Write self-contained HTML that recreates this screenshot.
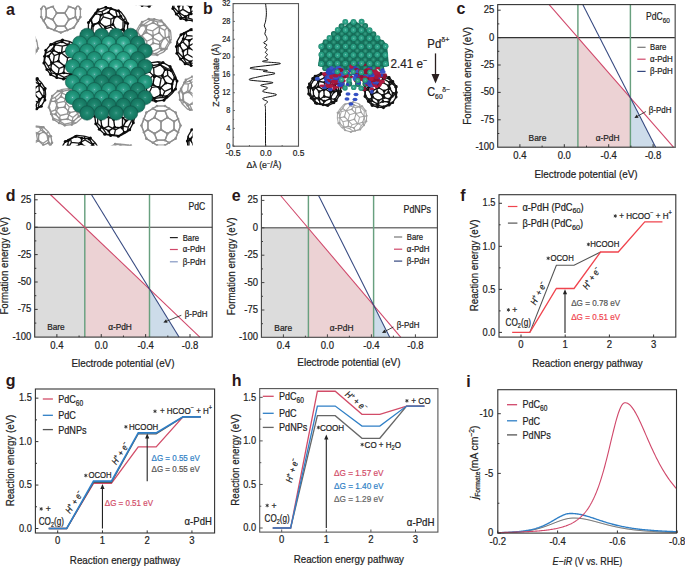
<!DOCTYPE html><html><head><meta charset="utf-8"><style>html,body{margin:0;padding:0;background:#fff;overflow:hidden}svg{display:block}text{font-family:"Liberation Sans",sans-serif}</style></head><body>
<svg width="685" height="567" viewBox="0 0 685 567">
<defs><radialGradient id="tg" cx="0.5" cy="0.52" r="0.58" fx="0.5" fy="0.5"><stop offset="0" stop-color="#9ccad2"/><stop offset="0.1" stop-color="#3ea692"/><stop offset="0.35" stop-color="#239a80"/><stop offset="0.75" stop-color="#1b8a70"/><stop offset="1" stop-color="#0f5a49"/></radialGradient><radialGradient id="tgd" cx="0.5" cy="0.52" r="0.58" fx="0.5" fy="0.5"><stop offset="0" stop-color="#7fb8b8"/><stop offset="0.1" stop-color="#2a8e78"/><stop offset="0.35" stop-color="#1b836b"/><stop offset="0.75" stop-color="#167560"/><stop offset="1" stop-color="#0b4a3c"/></radialGradient><radialGradient id="tgl" cx="0.5" cy="0.52" r="0.58" fx="0.5" fy="0.5"><stop offset="0" stop-color="#a8d4e0"/><stop offset="0.1" stop-color="#5ab8a8"/><stop offset="0.35" stop-color="#2ca88c"/><stop offset="0.75" stop-color="#21977b"/><stop offset="1" stop-color="#11624f"/></radialGradient><radialGradient id="tg2" cx="0.5" cy="0.5" r="0.55"><stop offset="0" stop-color="#8fd0c4"/><stop offset="0.25" stop-color="#35a98e"/><stop offset="0.8" stop-color="#22957a"/><stop offset="1" stop-color="#156d5a"/></radialGradient><radialGradient id="tg2d" cx="0.5" cy="0.5" r="0.55"><stop offset="0" stop-color="#3f9e88"/><stop offset="0.5" stop-color="#1d8369"/><stop offset="1" stop-color="#11604e"/></radialGradient><clipPath id="clipa"><rect x="35.8" y="5.8" width="156.8" height="139.6"/></clipPath></defs>
<rect width="685" height="567" fill="#fff"/>
<g fill="#222">
<g clip-path="url(#clipa)">
<g><path d="M41.21 17.04L41.21 8.96M41.21 17.04L43.71 21.07M41.21 8.96L43.71 4.93M43.71 21.07L46.2 17.04M43.71 21.07L47.74 27.6M43.71 4.93L46.2 8.96M43.71 4.93L47.74 -1.6M46.2 17.04L46.2 8.96M46.2 17.04L52.73 19.53M46.2 8.96L52.73 6.47M47.74 27.6L54.27 30.09M47.74 -1.6L47.74 -1.6M47.74 -1.6L54.27 -4.09M52.73 19.53L56.76 13M52.73 19.53L56.76 26.06M52.73 6.47L56.76 13M52.73 6.47L56.76 -0.06M54.27 30.09L56.76 26.06M54.27 30.09L60.8 32.59M54.27 -4.09L56.76 -0.06M54.27 -4.09L60.8 -6.59M56.76 13L64.84 13M56.76 26.06L64.84 26.06M56.76 -0.06L64.84 -0.06M60.8 32.59L67.33 30.09M60.8 -6.59L60.8 -6.59M60.8 -6.59L67.33 -4.09M64.84 13L68.87 19.53M64.84 13L68.87 6.47M64.84 26.06L67.33 30.09M64.84 26.06L68.87 19.53M64.84 -0.06L67.33 -4.09M64.84 -0.06L68.87 6.47M67.33 30.09L73.86 27.6M67.33 -4.09L73.86 -1.6M68.87 19.53L75.4 17.04M68.87 6.47L75.4 8.96M73.86 27.6L77.89 21.07M73.86 -1.6L73.86 -1.6M73.86 -1.6L77.89 4.93M75.4 17.04L75.4 8.96M75.4 17.04L77.89 21.07M75.4 8.96L77.89 4.93M77.89 21.07L80.39 17.04M77.89 4.93L80.39 8.96M80.39 17.04L80.39 8.96" stroke="#8f8f8f" stroke-width="1.3" fill="none" opacity="0.95"/><path d="M41.21 17.04L43.71 21.07M41.21 8.96L43.71 4.93M43.71 21.07L46.2 17.04M43.71 21.07L47.74 27.6M43.71 4.93L46.2 8.96M43.71 4.93L47.74 -1.6M46.2 17.04L46.2 8.96M46.2 17.04L52.73 19.53M46.2 8.96L52.73 6.47M47.74 27.6L47.74 27.6M47.74 27.6L54.27 30.09M47.74 -1.6L54.27 -4.09M52.73 19.53L56.76 26.06M52.73 19.53L56.76 13M52.73 6.47L56.76 -0.06M52.73 6.47L56.76 13M54.27 30.09L56.76 26.06M54.27 30.09L60.8 32.59M54.27 -4.09L56.76 -0.06M54.27 -4.09L60.8 -6.59M56.76 26.06L64.84 26.06M56.76 -0.06L64.84 -0.06M56.76 13L64.84 13M60.8 32.59L60.8 32.59M60.8 32.59L67.33 30.09M60.8 -6.59L67.33 -4.09M64.84 26.06L67.33 30.09M64.84 26.06L68.87 19.53M64.84 -0.06L67.33 -4.09M64.84 -0.06L68.87 6.47M64.84 13L68.87 19.53M64.84 13L68.87 6.47M67.33 30.09L73.86 27.6M67.33 -4.09L73.86 -1.6M68.87 19.53L75.4 17.04M68.87 6.47L75.4 8.96M73.86 27.6L73.86 27.6M73.86 27.6L77.89 21.07M73.86 -1.6L77.89 4.93M75.4 17.04L75.4 8.96M75.4 17.04L77.89 21.07M75.4 8.96L77.89 4.93M77.89 21.07L80.39 17.04M77.89 4.93L80.39 8.96" stroke="#8f8f8f" stroke-width="1.3" fill="none"/><g fill="#8f8f8f"><circle cx="41.21" cy="17.04" r="1.3"/><circle cx="41.21" cy="8.96" r="1.3"/><circle cx="43.71" cy="21.07" r="1.3"/><circle cx="43.71" cy="4.93" r="1.3"/><circle cx="46.2" cy="17.04" r="1.3"/><circle cx="46.2" cy="8.96" r="1.3"/><circle cx="47.74" cy="27.6" r="1.3"/><circle cx="47.74" cy="-1.6" r="1.3"/><circle cx="52.73" cy="19.53" r="1.3"/><circle cx="52.73" cy="6.47" r="1.3"/><circle cx="54.27" cy="30.09" r="1.3"/><circle cx="54.27" cy="-4.09" r="1.3"/><circle cx="56.76" cy="26.06" r="1.3"/><circle cx="56.76" cy="-0.06" r="1.3"/><circle cx="56.76" cy="13" r="1.3"/><circle cx="60.8" cy="32.59" r="1.3"/><circle cx="60.8" cy="-6.59" r="1.3"/><circle cx="64.84" cy="26.06" r="1.3"/><circle cx="64.84" cy="-0.06" r="1.3"/><circle cx="64.84" cy="13" r="1.3"/><circle cx="67.33" cy="30.09" r="1.3"/><circle cx="67.33" cy="-4.09" r="1.3"/><circle cx="68.87" cy="19.53" r="1.3"/><circle cx="68.87" cy="6.47" r="1.3"/><circle cx="73.86" cy="27.6" r="1.3"/><circle cx="73.86" cy="-1.6" r="1.3"/><circle cx="75.4" cy="17.04" r="1.3"/><circle cx="75.4" cy="8.96" r="1.3"/><circle cx="77.89" cy="21.07" r="1.3"/><circle cx="77.89" cy="4.93" r="1.3"/><circle cx="80.39" cy="17.04" r="1.3"/><circle cx="80.39" cy="8.96" r="1.3"/></g></g>
<g><path d="M134.73 35.12L135.8 31.76M135.8 31.76L139.48 25.27M135.8 31.76L137.1 37.04M135.37 42.49L136.84 43.67M139.48 25.27L142.09 22.15M139.48 25.27L144.46 24.06M137.1 37.04L136.84 43.67M137.1 37.04L142.08 35.84M136.84 43.67L141.55 49.1M144.46 24.06L150.15 20.2M144.46 24.06L145.76 29.35M148.68 19.01L150.15 20.2M142.08 35.84L145.76 29.35M142.08 35.84L146.8 41.26M141.55 49.1L144.8 53.34M141.55 49.1L146.54 47.9M150.15 20.2L157.14 21.61M145.76 29.35L152.75 30.77M144.8 53.34L151.79 54.76M146.8 41.26L146.54 47.9M146.8 41.26L153.39 38.13M146.54 47.9L152.86 51.39M157.14 21.61L158.44 26.9M157.14 21.61L162.66 21.84M152.75 30.77L153.39 38.13M152.75 30.77L158.44 26.9M161.2 20.66L162.66 21.84M151.79 54.76L152.86 51.39M151.79 54.76L157.32 54.99M153.39 38.13L159.72 41.63M152.86 51.39L159.46 48.26M158.44 26.9L164.77 30.4M162.66 21.84L167.38 27.27M157.32 54.99L163.91 51.85M159.72 41.63L159.46 48.26M159.72 41.63L165.41 37.76M159.46 48.26L164.98 48.49M164.77 30.4L167.38 27.27M164.77 30.4L165.41 37.76M167.38 27.27L170.63 31.51M163.91 51.85L164.98 48.49M165.41 37.76L168.66 42M170.63 31.51L171.27 38.88M164.98 48.49L168.66 42M168.66 42L171.27 38.88" stroke="#8f8f8f" stroke-width="1.3" fill="none" opacity="0.95"/><path d="M134.73 35.12L137.34 32M134.73 35.12L135.37 42.49M137.34 32L141.02 25.51M137.34 32L140.59 36.24M141.02 25.51L142.09 22.15M141.02 25.51L146.54 25.74M135.37 42.49L138.62 46.73M140.59 36.24L141.23 43.6M140.59 36.24L146.28 32.37M142.09 22.15L148.68 19.01M138.62 46.73L141.23 43.6M138.62 46.73L143.34 52.16M141.23 43.6L147.56 47.1M146.54 25.74L146.28 32.37M146.54 25.74L153.14 22.61M146.28 32.37L152.61 35.87M148.68 19.01L154.21 19.24M143.34 52.16L144.8 53.34M143.34 52.16L148.86 52.39M147.56 47.1L153.25 43.23M147.56 47.1L148.86 52.39M153.14 22.61L154.21 19.24M153.14 22.61L159.46 26.1M152.61 35.87L153.25 43.23M152.61 35.87L159.2 32.74M154.21 19.24L161.2 20.66M153.25 43.23L160.24 44.65M148.86 52.39L155.85 53.8M159.46 26.1L159.2 32.74M159.46 26.1L164.45 24.9M159.2 32.74L163.92 38.16M161.2 20.66L164.45 24.9M160.24 44.65L163.92 38.16M160.24 44.65L161.54 49.94M155.85 53.8L157.32 54.99M155.85 53.8L161.54 49.94M164.45 24.9L169.16 30.33M163.92 38.16L168.9 36.96M161.54 49.94L166.52 48.73M169.16 30.33L168.9 36.96M169.16 30.33L170.63 31.51M168.9 36.96L170.2 42.24M163.91 51.85L166.52 48.73M166.52 48.73L170.2 42.24M170.2 42.24L171.27 38.88" stroke="#8f8f8f" stroke-width="1.3" fill="none"/><g fill="#8f8f8f"><circle cx="134.73" cy="35.12" r="1.3"/><circle cx="137.34" cy="32" r="1.3"/><circle cx="141.02" cy="25.51" r="1.3"/><circle cx="135.37" cy="42.49" r="1.3"/><circle cx="140.59" cy="36.24" r="1.3"/><circle cx="142.09" cy="22.15" r="1.3"/><circle cx="138.62" cy="46.73" r="1.3"/><circle cx="141.23" cy="43.6" r="1.3"/><circle cx="146.54" cy="25.74" r="1.3"/><circle cx="146.28" cy="32.37" r="1.3"/><circle cx="148.68" cy="19.01" r="1.3"/><circle cx="143.34" cy="52.16" r="1.3"/><circle cx="147.56" cy="47.1" r="1.3"/><circle cx="153.14" cy="22.61" r="1.3"/><circle cx="152.61" cy="35.87" r="1.3"/><circle cx="154.21" cy="19.24" r="1.3"/><circle cx="153.25" cy="43.23" r="1.3"/><circle cx="148.86" cy="52.39" r="1.3"/><circle cx="159.46" cy="26.1" r="1.3"/><circle cx="159.2" cy="32.74" r="1.3"/><circle cx="161.2" cy="20.66" r="1.3"/><circle cx="160.24" cy="44.65" r="1.3"/><circle cx="155.85" cy="53.8" r="1.3"/><circle cx="164.45" cy="24.9" r="1.3"/><circle cx="163.92" cy="38.16" r="1.3"/><circle cx="157.32" cy="54.99" r="1.3"/><circle cx="161.54" cy="49.94" r="1.3"/><circle cx="169.16" cy="30.33" r="1.3"/><circle cx="168.9" cy="36.96" r="1.3"/><circle cx="166.52" cy="48.73" r="1.3"/><circle cx="170.2" cy="42.24" r="1.3"/></g></g>
<g><path d="M52.26 95.95L50.91 99.14M57.89 91.09L62.17 89.42M50.91 99.14L48.83 106.21M50.91 99.14L55.19 97.47M48.83 106.21L51.03 111.62M62.17 89.42L69.21 88.63M62.17 89.42L60.82 92.61M53.36 119.38L53.3 118.2M55.19 97.47L60.82 92.61M55.19 97.47L57.39 102.87M51.03 111.62L53.3 118.2M51.03 111.62L55.31 109.95M69.21 88.63L74.89 91.03M60.82 92.61L66.5 95.01M53.3 118.2L58.98 120.6M57.39 102.87L55.31 109.95M57.39 102.87L64.38 101.36M55.31 109.95L60.22 115.5M74.89 91.03L73.54 94.22M74.89 91.03L80.64 94.62M66.5 95.01L64.38 101.36M66.5 95.01L73.54 94.22M58.98 120.6L60.22 115.5M58.98 120.6L64.73 124.19M64.79 125.37L64.73 124.19M64.38 101.36L69.3 106.91M60.22 115.5L67.22 113.98M73.54 94.22L78.45 99.78M80.64 94.62L82.84 100.02M64.73 124.19L71.72 122.67M69.3 106.91L67.22 113.98M69.3 106.91L76.33 106.12M85.17 107.79L85.1 106.61M67.22 113.98L72.96 117.57M78.45 99.78L82.84 100.02M78.45 99.78L76.33 106.12M82.84 100.02L85.1 106.61M71.72 122.67L76.11 122.91M71.72 122.67L72.96 117.57M76.11 122.91L81.74 118.05M76.33 106.12L78.6 112.71M85.1 106.61L82.98 112.95M72.96 117.57L78.6 112.71M81.74 118.05L82.98 112.95M78.6 112.71L82.98 112.95" stroke="#8f8f8f" stroke-width="1.3" fill="none" opacity="0.95"/><path d="M51.02 101.05L55.4 101.29M51.02 101.05L52.26 95.95M51.02 101.05L48.9 107.39M55.4 101.29L61.04 96.43M55.4 101.29L57.67 107.88M52.26 95.95L57.89 91.09M61.04 96.43L62.28 91.33M61.04 96.43L66.78 100.02M48.9 107.39L51.16 113.98M48.9 107.39L48.83 106.21M57.67 107.88L55.55 114.22M57.67 107.88L64.7 107.09M57.89 91.09L62.28 91.33M62.28 91.33L69.27 89.81M51.16 113.98L55.55 114.22M51.16 113.98L53.36 119.38M55.55 114.22L60.46 119.78M66.78 100.02L64.7 107.09M66.78 100.02L73.78 98.5M64.7 107.09L69.62 112.64M69.27 89.81L69.21 88.63M69.27 89.81L75.02 93.4M53.36 119.38L59.11 122.97M60.46 119.78L67.5 118.99M60.46 119.78L59.11 122.97M73.78 98.5L75.02 93.4M73.78 98.5L78.69 104.05M69.62 112.64L67.5 118.99M69.62 112.64L76.61 111.13M75.02 93.4L80.7 95.8M67.5 118.99L73.18 121.39M59.11 122.97L64.79 125.37M78.69 104.05L76.61 111.13M78.69 104.05L82.97 102.38M76.61 111.13L78.81 116.53M80.7 95.8L82.97 102.38M80.7 95.8L80.64 94.62M73.18 121.39L78.81 116.53M73.18 121.39L71.83 124.58M64.79 125.37L71.83 124.58M82.97 102.38L85.17 107.79M78.81 116.53L83.09 114.86M71.83 124.58L76.11 122.91M85.17 107.79L83.09 114.86M83.09 114.86L81.74 118.05" stroke="#8f8f8f" stroke-width="1.3" fill="none"/><g fill="#8f8f8f"><circle cx="51.02" cy="101.05" r="1.3"/><circle cx="55.4" cy="101.29" r="1.3"/><circle cx="52.26" cy="95.95" r="1.3"/><circle cx="61.04" cy="96.43" r="1.3"/><circle cx="48.9" cy="107.39" r="1.3"/><circle cx="57.67" cy="107.88" r="1.3"/><circle cx="57.89" cy="91.09" r="1.3"/><circle cx="62.28" cy="91.33" r="1.3"/><circle cx="51.16" cy="113.98" r="1.3"/><circle cx="55.55" cy="114.22" r="1.3"/><circle cx="66.78" cy="100.02" r="1.3"/><circle cx="64.7" cy="107.09" r="1.3"/><circle cx="69.27" cy="89.81" r="1.3"/><circle cx="53.36" cy="119.38" r="1.3"/><circle cx="60.46" cy="119.78" r="1.3"/><circle cx="73.78" cy="98.5" r="1.3"/><circle cx="69.62" cy="112.64" r="1.3"/><circle cx="69.21" cy="88.63" r="1.3"/><circle cx="75.02" cy="93.4" r="1.3"/><circle cx="67.5" cy="118.99" r="1.3"/><circle cx="59.11" cy="122.97" r="1.3"/><circle cx="78.69" cy="104.05" r="1.3"/><circle cx="76.61" cy="111.13" r="1.3"/><circle cx="80.7" cy="95.8" r="1.3"/><circle cx="73.18" cy="121.39" r="1.3"/><circle cx="64.79" cy="125.37" r="1.3"/><circle cx="82.97" cy="102.38" r="1.3"/><circle cx="78.81" cy="116.53" r="1.3"/><circle cx="71.83" cy="124.58" r="1.3"/><circle cx="85.17" cy="107.79" r="1.3"/><circle cx="83.09" cy="114.86" r="1.3"/></g></g>
<g><path d="M141.41 125.6L141.41 125.6M141.41 125.6L143.91 119.07M141.41 125.6L143.91 132.13M143.91 119.07L146.4 112.54M143.91 119.07L147.94 121.56M143.91 132.13L146.4 138.66M143.91 132.13L147.94 129.64M146.4 112.54L146.4 112.54M146.4 112.54L152.93 108.51M146.4 138.66L146.4 138.66M146.4 138.66L152.93 142.69M147.94 121.56L147.94 129.64M147.94 121.56L154.47 117.53M147.94 129.64L154.47 133.67M152.93 108.51L156.96 106.01M152.93 108.51L156.96 111M152.93 142.69L156.96 140.2M152.93 142.69L156.96 145.19M154.47 117.53L156.96 111M154.47 117.53L161 121.56M154.47 133.67L156.96 140.2M154.47 133.67L161 129.64M156.96 106.01L165.04 106.01M156.96 111L165.04 111M156.96 140.2L165.04 140.2M156.96 145.19L165.04 145.19M161 121.56L161 129.64M161 121.56L167.53 117.53M161 129.64L167.53 133.67M165.04 106.01L169.07 108.51M165.04 111L167.53 117.53M165.04 111L169.07 108.51M165.04 140.2L167.53 133.67M165.04 140.2L169.07 142.69M165.04 145.19L169.07 142.69M167.53 117.53L174.06 121.56M167.53 133.67L174.06 129.64M169.07 108.51L175.6 112.54M169.07 142.69L175.6 138.66M174.06 121.56L174.06 129.64M174.06 121.56L178.09 119.07M174.06 129.64L178.09 132.13M175.6 112.54L175.6 112.54M175.6 112.54L178.09 119.07M175.6 138.66L175.6 138.66M175.6 138.66L178.09 132.13M178.09 119.07L180.59 125.6M178.09 132.13L180.59 125.6M180.59 125.6L180.59 125.6" stroke="#8f8f8f" stroke-width="1.3" fill="none" opacity="0.95"/><path d="M141.41 125.6L143.91 119.07M141.41 125.6L143.91 132.13M143.91 119.07L146.4 112.54M143.91 119.07L147.94 121.56M143.91 132.13L146.4 138.66M143.91 132.13L147.94 129.64M146.4 112.54L152.93 108.51M146.4 138.66L152.93 142.69M147.94 121.56L147.94 129.64M147.94 121.56L154.47 117.53M147.94 129.64L154.47 133.67M152.93 108.51L156.96 106.01M152.93 108.51L156.96 111M152.93 142.69L156.96 140.2M152.93 142.69L156.96 145.19M154.47 117.53L156.96 111M154.47 117.53L161 121.56M154.47 133.67L156.96 140.2M154.47 133.67L161 129.64M156.96 111L165.04 111M156.96 140.2L165.04 140.2M161 121.56L161 129.64M161 121.56L167.53 117.53M161 129.64L167.53 133.67M165.04 106.01L169.07 108.51M165.04 111L167.53 117.53M165.04 111L169.07 108.51M165.04 140.2L167.53 133.67M165.04 140.2L169.07 142.69M165.04 145.19L169.07 142.69M167.53 117.53L174.06 121.56M167.53 133.67L174.06 129.64M169.07 108.51L175.6 112.54M169.07 142.69L175.6 138.66M174.06 121.56L174.06 129.64M174.06 121.56L178.09 119.07M174.06 129.64L178.09 132.13M175.6 112.54L178.09 119.07M175.6 138.66L178.09 132.13M178.09 119.07L180.59 125.6M178.09 132.13L180.59 125.6" stroke="#8f8f8f" stroke-width="1.3" fill="none"/><g fill="#8f8f8f"><circle cx="141.41" cy="125.6" r="1.3"/><circle cx="143.91" cy="119.07" r="1.3"/><circle cx="143.91" cy="132.13" r="1.3"/><circle cx="146.4" cy="112.54" r="1.3"/><circle cx="146.4" cy="138.66" r="1.3"/><circle cx="147.94" cy="121.56" r="1.3"/><circle cx="147.94" cy="129.64" r="1.3"/><circle cx="152.93" cy="108.51" r="1.3"/><circle cx="152.93" cy="142.69" r="1.3"/><circle cx="154.47" cy="117.53" r="1.3"/><circle cx="154.47" cy="133.67" r="1.3"/><circle cx="156.96" cy="106.01" r="1.3"/><circle cx="156.96" cy="111" r="1.3"/><circle cx="156.96" cy="140.2" r="1.3"/><circle cx="156.96" cy="145.19" r="1.3"/><circle cx="161" cy="121.56" r="1.3"/><circle cx="161" cy="129.64" r="1.3"/><circle cx="165.04" cy="106.01" r="1.3"/><circle cx="165.04" cy="111" r="1.3"/><circle cx="165.04" cy="140.2" r="1.3"/><circle cx="165.04" cy="145.19" r="1.3"/><circle cx="167.53" cy="117.53" r="1.3"/><circle cx="167.53" cy="133.67" r="1.3"/><circle cx="169.07" cy="108.51" r="1.3"/><circle cx="169.07" cy="142.69" r="1.3"/><circle cx="174.06" cy="121.56" r="1.3"/><circle cx="174.06" cy="129.64" r="1.3"/><circle cx="175.6" cy="112.54" r="1.3"/><circle cx="175.6" cy="138.66" r="1.3"/><circle cx="178.09" cy="119.07" r="1.3"/><circle cx="178.09" cy="132.13" r="1.3"/><circle cx="180.59" cy="125.6" r="1.3"/></g></g>
<g><path d="M18.01 141.31L19.54 137.16M18.01 141.31L19.13 147.77M19.54 137.16L22.56 131.11M19.54 137.16L21.59 141.05M19.13 147.77L21.34 147.61M22.56 131.11L24.06 129.23M22.56 131.11L27.64 128.96M21.59 141.05L21.34 147.61M21.59 141.05L26.67 138.89M21.34 147.61L26.16 152.02M27.64 128.96L32.27 125.74M27.64 128.96L29.69 132.85M30.06 125.9L32.27 125.74M26.56 156.75L28.77 156.59M26.67 138.89L29.69 132.85M26.67 138.89L31.49 143.3M26.16 152.02L28.77 156.59M26.16 152.02L31.24 149.86M32.27 125.74L38.96 126.41M29.69 132.85L36.38 133.52M28.77 156.59L35.46 157.26M31.49 143.3L31.24 149.86M31.49 143.3L37.49 139.98M31.24 149.86L36.99 153.1M38.96 126.41L41.02 130.3M38.96 126.41L43.44 127.25M36.38 133.52L37.49 139.98M36.38 133.52L41.02 130.3M35.46 157.26L36.99 153.1M35.46 157.26L39.94 158.1M37.49 139.98L43.24 143.22M36.99 153.1L42.99 149.78M41.02 130.3L46.76 133.54M43.44 127.25L48.26 131.65M39.94 158.1L45.94 154.77M43.24 143.22L42.99 149.78M43.24 143.22L47.88 140M42.99 149.78L47.47 150.62M46.76 133.54L48.26 131.65M46.76 133.54L47.88 140M48.26 131.65L50.87 136.23M45.94 154.77L47.47 150.62M47.88 140L50.49 144.57M47.47 150.62L50.49 144.57M50.49 144.57L51.99 142.69" stroke="#8f8f8f" stroke-width="1.3" fill="none" opacity="0.95"/><path d="M18.01 141.31L19.51 139.43M19.51 139.43L22.53 133.38M19.51 139.43L22.12 144M22.53 133.38L24.06 129.23M22.53 133.38L27.01 134.22M19.13 147.77L21.74 152.35M22.12 144L23.24 150.46M22.12 144L26.76 140.78M24.06 129.23L30.06 125.9M21.74 152.35L23.24 150.46M21.74 152.35L26.56 156.75M23.24 150.46L28.98 153.7M27.01 134.22L26.76 140.78M27.01 134.22L33.01 130.9M26.76 140.78L32.51 144.02M30.06 125.9L34.54 126.74M26.56 156.75L31.04 157.59M28.98 153.7L33.62 150.48M28.98 153.7L31.04 157.59M33.01 130.9L34.54 126.74M33.01 130.9L38.76 134.14M32.51 144.02L33.62 150.48M32.51 144.02L38.51 140.7M34.54 126.74L41.23 127.41M33.62 150.48L40.31 151.15M31.04 157.59L37.73 158.26M38.76 134.14L38.51 140.7M38.76 134.14L43.84 131.98M38.51 140.7L43.33 145.11M41.23 127.41L43.84 131.98M41.23 127.41L43.44 127.25M40.31 151.15L43.33 145.11M40.31 151.15L42.36 155.04M37.73 158.26L39.94 158.1M37.73 158.26L42.36 155.04M43.84 131.98L48.66 136.39M43.33 145.11L48.41 142.95M42.36 155.04L47.44 152.89M48.66 136.39L48.41 142.95M48.66 136.39L50.87 136.23M48.41 142.95L50.46 146.84M45.94 154.77L47.44 152.89M47.44 152.89L50.46 146.84M50.87 136.23L51.99 142.69M50.46 146.84L51.99 142.69" stroke="#8f8f8f" stroke-width="1.3" fill="none"/><g fill="#8f8f8f"><circle cx="18.01" cy="141.31" r="1.3"/><circle cx="19.51" cy="139.43" r="1.3"/><circle cx="22.53" cy="133.38" r="1.3"/><circle cx="22.12" cy="144" r="1.3"/><circle cx="24.06" cy="129.23" r="1.3"/><circle cx="21.74" cy="152.35" r="1.3"/><circle cx="23.24" cy="150.46" r="1.3"/><circle cx="27.01" cy="134.22" r="1.3"/><circle cx="26.76" cy="140.78" r="1.3"/><circle cx="30.06" cy="125.9" r="1.3"/><circle cx="26.56" cy="156.75" r="1.3"/><circle cx="28.98" cy="153.7" r="1.3"/><circle cx="33.01" cy="130.9" r="1.3"/><circle cx="32.51" cy="144.02" r="1.3"/><circle cx="34.54" cy="126.74" r="1.3"/><circle cx="33.62" cy="150.48" r="1.3"/><circle cx="31.04" cy="157.59" r="1.3"/><circle cx="38.76" cy="134.14" r="1.3"/><circle cx="38.51" cy="140.7" r="1.3"/><circle cx="41.23" cy="127.41" r="1.3"/><circle cx="40.31" cy="151.15" r="1.3"/><circle cx="37.73" cy="158.26" r="1.3"/><circle cx="43.84" cy="131.98" r="1.3"/><circle cx="43.33" cy="145.11" r="1.3"/><circle cx="43.44" cy="127.25" r="1.3"/><circle cx="42.36" cy="155.04" r="1.3"/><circle cx="48.66" cy="136.39" r="1.3"/><circle cx="48.41" cy="142.95" r="1.3"/><circle cx="47.44" cy="152.89" r="1.3"/><circle cx="50.87" cy="136.23" r="1.3"/><circle cx="50.46" cy="146.84" r="1.3"/><circle cx="51.99" cy="142.69" r="1.3"/></g></g>
<g><path d="M179.06 92.62L180.47 89.94M180.04 99.69L182.43 104.08M185.88 79.85L192.37 76.6M185.88 79.85L183.88 83.56M180.47 89.94L183.88 83.56M180.47 89.94L182.86 94.33M182.43 104.08L187.43 109.15M182.43 104.08L183.84 101.4M192.37 76.6L196.87 77.06M183.88 83.56L188.37 84.01M187.43 109.15L191.92 109.6M182.86 94.33L183.84 101.4M182.86 94.33L187.74 90.67M183.84 101.4L189.7 104.81M196.87 77.06L194.87 80.76M196.87 77.06L203.97 78.18M188.37 84.01L187.74 90.67M188.37 84.01L194.87 80.76M206.57 78.85L203.97 78.18M191.92 109.6L189.7 104.81M191.92 109.6L199.02 110.72M201.63 111.4L199.02 110.72M187.74 90.67L193.61 94.08M189.7 104.81L194.59 101.15M194.87 80.76L200.73 84.17M203.97 78.18L206.35 82.57M199.02 110.72L203.9 107.06M208.12 108.15L209.53 105.47M193.61 94.08L194.59 101.15M193.61 94.08L200.1 90.83M213.96 88.31L214.94 95.38M213.96 88.31L211.35 87.64M194.59 101.15L201.69 102.27M214.94 95.38L212.94 99.08M200.73 84.17L206.35 82.57M200.73 84.17L200.1 90.83M206.35 82.57L211.35 87.64M203.9 107.06L209.53 105.47M203.9 107.06L201.69 102.27M209.53 105.47L212.94 99.08M200.1 90.83L205.09 95.89M211.35 87.64L210.72 94.3M201.69 102.27L205.09 95.89M212.94 99.08L210.72 94.3M205.09 95.89L210.72 94.3" stroke="#8f8f8f" stroke-width="1.3" fill="none" opacity="0.95"/><path d="M183.28 93.7L188.91 92.11M183.28 93.7L181.06 88.92M183.28 93.7L182.65 100.36M188.91 92.11L192.31 85.73M188.91 92.11L193.9 97.17M181.06 88.92L184.47 82.53M181.06 88.92L179.06 92.62M192.31 85.73L190.1 80.94M192.31 85.73L199.41 86.85M182.65 100.36L187.65 105.43M182.65 100.36L180.04 99.69M193.9 97.17L193.27 103.83M193.9 97.17L200.39 93.92M184.47 82.53L190.1 80.94M184.47 82.53L185.88 79.85M190.1 80.94L194.98 77.28M187.65 105.43L193.27 103.83M187.65 105.43L190.03 109.82M193.27 103.83L199.13 107.24M179.06 92.62L180.04 99.69M199.41 86.85L200.39 93.92M199.41 86.85L204.3 83.19M200.39 93.92L206.26 97.33M194.98 77.28L192.37 76.6M194.98 77.28L202.08 78.4M190.03 109.82L187.43 109.15M190.03 109.82L197.13 110.94M199.13 107.24L205.63 103.99M199.13 107.24L197.13 110.94M204.3 83.19L202.08 78.4M204.3 83.19L210.16 86.6M206.26 97.33L205.63 103.99M206.26 97.33L211.14 93.67M202.08 78.4L206.57 78.85M205.63 103.99L210.12 104.44M197.13 110.94L201.63 111.4M210.16 86.6L211.14 93.67M210.16 86.6L211.57 83.92M211.14 93.67L213.53 98.06M206.57 78.85L211.57 83.92M210.12 104.44L213.53 98.06M210.12 104.44L208.12 108.15M201.63 111.4L208.12 108.15M211.57 83.92L213.96 88.31M213.53 98.06L214.94 95.38" stroke="#8f8f8f" stroke-width="1.3" fill="none"/><g fill="#8f8f8f"><circle cx="183.28" cy="93.7" r="1.3"/><circle cx="188.91" cy="92.11" r="1.3"/><circle cx="181.06" cy="88.92" r="1.3"/><circle cx="192.31" cy="85.73" r="1.3"/><circle cx="182.65" cy="100.36" r="1.3"/><circle cx="193.9" cy="97.17" r="1.3"/><circle cx="184.47" cy="82.53" r="1.3"/><circle cx="190.1" cy="80.94" r="1.3"/><circle cx="187.65" cy="105.43" r="1.3"/><circle cx="193.27" cy="103.83" r="1.3"/><circle cx="179.06" cy="92.62" r="1.3"/><circle cx="199.41" cy="86.85" r="1.3"/><circle cx="180.04" cy="99.69" r="1.3"/><circle cx="200.39" cy="93.92" r="1.3"/><circle cx="185.88" cy="79.85" r="1.3"/><circle cx="194.98" cy="77.28" r="1.3"/><circle cx="190.03" cy="109.82" r="1.3"/><circle cx="199.13" cy="107.24" r="1.3"/><circle cx="204.3" cy="83.19" r="1.3"/><circle cx="206.26" cy="97.33" r="1.3"/><circle cx="192.37" cy="76.6" r="1.3"/><circle cx="202.08" cy="78.4" r="1.3"/><circle cx="205.63" cy="103.99" r="1.3"/><circle cx="197.13" cy="110.94" r="1.3"/><circle cx="210.16" cy="86.6" r="1.3"/><circle cx="211.14" cy="93.67" r="1.3"/><circle cx="206.57" cy="78.85" r="1.3"/><circle cx="210.12" cy="104.44" r="1.3"/><circle cx="201.63" cy="111.4" r="1.3"/><circle cx="211.57" cy="83.92" r="1.3"/><circle cx="213.53" cy="98.06" r="1.3"/><circle cx="208.12" cy="108.15" r="1.3"/><circle cx="214.94" cy="95.38" r="1.3"/></g></g>
<g><path d="M2.06 45.62L3.47 42.94M3.04 52.69L5.43 57.08M8.88 32.85L15.37 29.6M8.88 32.85L6.88 36.56M3.47 42.94L6.88 36.56M3.47 42.94L5.86 47.33M5.43 57.08L10.43 62.15M5.43 57.08L6.84 54.4M15.37 29.6L19.87 30.06M6.88 36.56L11.37 37.01M10.43 62.15L14.92 62.6M5.86 47.33L6.84 54.4M5.86 47.33L10.74 43.67M6.84 54.4L12.7 57.81M19.87 30.06L17.87 33.76M19.87 30.06L26.97 31.18M11.37 37.01L10.74 43.67M11.37 37.01L17.87 33.76M29.57 31.85L26.97 31.18M14.92 62.6L12.7 57.81M14.92 62.6L22.02 63.72M24.63 64.4L22.02 63.72M10.74 43.67L16.61 47.08M12.7 57.81L17.59 54.15M17.87 33.76L23.73 37.17M26.97 31.18L29.35 35.57M22.02 63.72L26.9 60.06M31.12 61.15L32.53 58.47M16.61 47.08L17.59 54.15M16.61 47.08L23.1 43.83M36.96 41.31L37.94 48.38M36.96 41.31L34.35 40.64M17.59 54.15L24.69 55.27M37.94 48.38L35.94 52.08M23.73 37.17L29.35 35.57M23.73 37.17L23.1 43.83M29.35 35.57L34.35 40.64M26.9 60.06L32.53 58.47M26.9 60.06L24.69 55.27M32.53 58.47L35.94 52.08M23.1 43.83L28.09 48.89M34.35 40.64L33.72 47.3M24.69 55.27L28.09 48.89M35.94 52.08L33.72 47.3M28.09 48.89L33.72 47.3" stroke="#8f8f8f" stroke-width="1.3" fill="none" opacity="0.95"/><path d="M6.28 46.7L11.91 45.11M6.28 46.7L4.06 41.92M6.28 46.7L5.65 53.36M11.91 45.11L15.31 38.73M11.91 45.11L16.9 50.17M4.06 41.92L7.47 35.53M4.06 41.92L2.06 45.62M15.31 38.73L13.1 33.94M15.31 38.73L22.41 39.85M5.65 53.36L10.65 58.43M5.65 53.36L3.04 52.69M16.9 50.17L16.27 56.83M16.9 50.17L23.39 46.92M7.47 35.53L13.1 33.94M7.47 35.53L8.88 32.85M13.1 33.94L17.98 30.28M10.65 58.43L16.27 56.83M10.65 58.43L13.03 62.82M16.27 56.83L22.13 60.24M2.06 45.62L3.04 52.69M22.41 39.85L23.39 46.92M22.41 39.85L27.3 36.19M23.39 46.92L29.26 50.33M17.98 30.28L15.37 29.6M17.98 30.28L25.08 31.4M13.03 62.82L10.43 62.15M13.03 62.82L20.13 63.94M22.13 60.24L28.63 56.99M22.13 60.24L20.13 63.94M27.3 36.19L25.08 31.4M27.3 36.19L33.16 39.6M29.26 50.33L28.63 56.99M29.26 50.33L34.14 46.67M25.08 31.4L29.57 31.85M28.63 56.99L33.12 57.44M20.13 63.94L24.63 64.4M33.16 39.6L34.14 46.67M33.16 39.6L34.57 36.92M34.14 46.67L36.53 51.06M29.57 31.85L34.57 36.92M33.12 57.44L36.53 51.06M33.12 57.44L31.12 61.15M24.63 64.4L31.12 61.15M34.57 36.92L36.96 41.31M36.53 51.06L37.94 48.38" stroke="#8f8f8f" stroke-width="1.3" fill="none"/><g fill="#8f8f8f"><circle cx="6.28" cy="46.7" r="1.3"/><circle cx="11.91" cy="45.11" r="1.3"/><circle cx="4.06" cy="41.92" r="1.3"/><circle cx="15.31" cy="38.73" r="1.3"/><circle cx="5.65" cy="53.36" r="1.3"/><circle cx="16.9" cy="50.17" r="1.3"/><circle cx="7.47" cy="35.53" r="1.3"/><circle cx="13.1" cy="33.94" r="1.3"/><circle cx="10.65" cy="58.43" r="1.3"/><circle cx="16.27" cy="56.83" r="1.3"/><circle cx="2.06" cy="45.62" r="1.3"/><circle cx="22.41" cy="39.85" r="1.3"/><circle cx="3.04" cy="52.69" r="1.3"/><circle cx="23.39" cy="46.92" r="1.3"/><circle cx="8.88" cy="32.85" r="1.3"/><circle cx="17.98" cy="30.28" r="1.3"/><circle cx="13.03" cy="62.82" r="1.3"/><circle cx="22.13" cy="60.24" r="1.3"/><circle cx="27.3" cy="36.19" r="1.3"/><circle cx="29.26" cy="50.33" r="1.3"/><circle cx="15.37" cy="29.6" r="1.3"/><circle cx="25.08" cy="31.4" r="1.3"/><circle cx="28.63" cy="56.99" r="1.3"/><circle cx="20.13" cy="63.94" r="1.3"/><circle cx="33.16" cy="39.6" r="1.3"/><circle cx="34.14" cy="46.67" r="1.3"/><circle cx="29.57" cy="31.85" r="1.3"/><circle cx="33.12" cy="57.44" r="1.3"/><circle cx="24.63" cy="64.4" r="1.3"/><circle cx="34.57" cy="36.92" r="1.3"/><circle cx="36.53" cy="51.06" r="1.3"/><circle cx="31.12" cy="61.15" r="1.3"/><circle cx="37.94" cy="48.38" r="1.3"/></g></g>
<g><path d="M101.02 162.19L102.81 157.3M101.02 162.19L102.33 169.79M102.81 157.3L106.36 150.19M102.81 157.3L105.23 161.88M102.33 169.79L104.93 169.6M106.36 150.19L108.13 147.97M106.36 150.19L112.34 147.66M105.23 161.88L104.93 169.6M105.23 161.88L111.2 159.34M104.93 169.6L110.6 174.78M112.34 147.66L117.79 143.87M112.34 147.66L114.75 152.23M115.19 144.06L117.79 143.87M111.07 180.36L113.67 180.16M111.2 159.34L114.75 152.23M111.2 159.34L116.87 164.53M110.6 174.78L113.67 180.16M110.6 174.78L116.57 172.25M117.79 143.87L125.66 144.66M114.75 152.23L122.62 153.02M113.67 180.16L121.54 180.95M116.87 164.53L116.57 172.25M116.87 164.53L123.93 160.62M116.57 172.25L123.34 176.06M125.66 144.66L128.08 149.24M125.66 144.66L130.93 145.64M122.62 153.02L123.93 160.62M122.62 153.02L128.08 149.24M121.54 180.95L123.34 176.06M121.54 180.95L126.81 181.94M123.93 160.62L130.7 164.43M123.34 176.06L130.4 172.15M128.08 149.24L134.84 153.05M130.93 145.64L136.6 150.83M126.81 181.94L133.87 178.03M130.7 164.43L130.4 172.15M130.7 164.43L136.15 160.65M130.4 172.15L135.67 173.14M134.84 153.05L136.6 150.83M134.84 153.05L136.15 160.65M136.6 150.83L139.67 156.21M133.87 178.03L135.67 173.14M136.15 160.65L139.22 166.03M135.67 173.14L139.22 166.03M139.22 166.03L140.98 163.81" stroke="#8f8f8f" stroke-width="1.3" fill="none" opacity="0.95"/><path d="M101.02 162.19L102.78 159.97M102.78 159.97L106.33 152.86M102.78 159.97L105.85 165.35M106.33 152.86L108.13 147.97M106.33 152.86L111.6 153.85M102.33 169.79L105.4 175.17M105.85 165.35L107.16 172.95M105.85 165.35L111.3 161.57M108.13 147.97L115.19 144.06M105.4 175.17L107.16 172.95M105.4 175.17L111.07 180.36M107.16 172.95L113.92 176.76M111.6 153.85L111.3 161.57M111.6 153.85L118.66 149.94M111.3 161.57L118.07 165.38M115.19 144.06L120.46 145.05M111.07 180.36L116.34 181.34M113.92 176.76L119.38 172.98M113.92 176.76L116.34 181.34M118.66 149.94L120.46 145.05M118.66 149.94L125.43 153.75M118.07 165.38L119.38 172.98M118.07 165.38L125.13 161.47M120.46 145.05L128.33 145.84M119.38 172.98L127.25 173.77M116.34 181.34L124.21 182.13M125.43 153.75L125.13 161.47M125.43 153.75L131.4 151.22M125.13 161.47L130.8 166.66M128.33 145.84L131.4 151.22M128.33 145.84L130.93 145.64M127.25 173.77L130.8 166.66M127.25 173.77L129.66 178.34M124.21 182.13L126.81 181.94M124.21 182.13L129.66 178.34M131.4 151.22L137.07 156.4M130.8 166.66L136.77 164.12M129.66 178.34L135.64 175.81M137.07 156.4L136.77 164.12M137.07 156.4L139.67 156.21M136.77 164.12L139.19 168.7M133.87 178.03L135.64 175.81M135.64 175.81L139.19 168.7M139.67 156.21L140.98 163.81M139.19 168.7L140.98 163.81" stroke="#8f8f8f" stroke-width="1.3" fill="none"/><g fill="#8f8f8f"><circle cx="101.02" cy="162.19" r="1.3"/><circle cx="102.78" cy="159.97" r="1.3"/><circle cx="106.33" cy="152.86" r="1.3"/><circle cx="105.85" cy="165.35" r="1.3"/><circle cx="108.13" cy="147.97" r="1.3"/><circle cx="105.4" cy="175.17" r="1.3"/><circle cx="107.16" cy="172.95" r="1.3"/><circle cx="111.6" cy="153.85" r="1.3"/><circle cx="111.3" cy="161.57" r="1.3"/><circle cx="115.19" cy="144.06" r="1.3"/><circle cx="111.07" cy="180.36" r="1.3"/><circle cx="113.92" cy="176.76" r="1.3"/><circle cx="118.66" cy="149.94" r="1.3"/><circle cx="118.07" cy="165.38" r="1.3"/><circle cx="120.46" cy="145.05" r="1.3"/><circle cx="119.38" cy="172.98" r="1.3"/><circle cx="116.34" cy="181.34" r="1.3"/><circle cx="125.43" cy="153.75" r="1.3"/><circle cx="125.13" cy="161.47" r="1.3"/><circle cx="128.33" cy="145.84" r="1.3"/><circle cx="127.25" cy="173.77" r="1.3"/><circle cx="124.21" cy="182.13" r="1.3"/><circle cx="131.4" cy="151.22" r="1.3"/><circle cx="130.8" cy="166.66" r="1.3"/><circle cx="130.93" cy="145.64" r="1.3"/><circle cx="129.66" cy="178.34" r="1.3"/><circle cx="137.07" cy="156.4" r="1.3"/><circle cx="136.77" cy="164.12" r="1.3"/><circle cx="135.64" cy="175.81" r="1.3"/><circle cx="139.67" cy="156.21" r="1.3"/><circle cx="139.19" cy="168.7" r="1.3"/><circle cx="140.98" cy="163.81" r="1.3"/></g></g>
<g><path d="M88.49 22.61L90.95 18.72M88.49 22.61L88.36 30.51M90.95 18.72L95.75 12.26M90.95 18.72L92.34 24.22M88.36 30.51L90.74 31.5M95.75 12.26L98.09 9.7M95.75 12.26L101.94 11.3M92.34 24.22L90.74 31.5M92.34 24.22L98.53 23.26M90.74 31.5L95.33 37.83M101.94 11.3L108.11 8.15M101.94 11.3L103.33 16.8M105.73 7.15L108.11 8.15M95.16 42.17L97.54 43.17M98.53 23.26L103.33 16.8M98.53 23.26L103.12 29.59M95.33 37.83L97.54 43.17M95.33 37.83L101.52 36.87M108.11 8.15L115.66 10.48M103.33 16.8L110.89 19.14M97.54 43.17L105.1 45.5M103.12 29.59L101.52 36.87M103.12 29.59L110.76 27.04M101.52 36.87L107.56 41.61M115.66 10.48L117.05 15.98M115.66 10.48L120.84 11.83M110.89 19.14L110.76 27.04M110.89 19.14L117.05 15.98M105.1 45.5L107.56 41.61M105.1 45.5L110.27 46.85M110.76 27.04L116.8 31.78M107.56 41.61L115.19 39.07M117.05 15.98L123.09 20.72M120.84 11.83L125.43 18.16M110.27 46.85L117.91 44.3M116.8 31.78L115.19 39.07M116.8 31.78L122.96 28.62M115.19 39.07L120.37 40.41M123.09 20.72L125.43 18.16M123.09 20.72L122.96 28.62M125.43 18.16L127.64 23.49M117.91 44.3L120.37 40.41M122.96 28.62L125.17 33.96M120.37 40.41L125.17 33.96M125.17 33.96L127.51 31.39" stroke="#0a0a0a" stroke-width="1.35" fill="none" opacity="0.95"/><path d="M88.49 22.61L90.83 20.04M90.83 20.04L95.63 13.59M90.83 20.04L93.04 25.38M95.63 13.59L98.09 9.7M95.63 13.59L100.81 14.93M88.36 30.51L90.57 35.84M93.04 25.38L92.91 33.28M93.04 25.38L99.2 22.22M98.09 9.7L105.73 7.15M90.57 35.84L92.91 33.28M90.57 35.84L95.16 42.17M92.91 33.28L98.95 38.02M100.81 14.93L99.2 22.22M100.81 14.93L108.44 12.39M99.2 22.22L105.24 26.96M105.73 7.15L110.9 8.5M95.16 42.17L100.34 43.52M98.95 38.02L105.11 34.86M98.95 38.02L100.34 43.52M108.44 12.39L110.9 8.5M108.44 12.39L114.48 17.13M105.24 26.96L105.11 34.86M105.24 26.96L112.88 24.41M110.9 8.5L118.46 10.83M105.11 34.86L112.67 37.2M100.34 43.52L107.89 45.85M114.48 17.13L112.88 24.41M114.48 17.13L120.67 16.17M112.88 24.41L117.47 30.74M118.46 10.83L120.67 16.17M118.46 10.83L120.84 11.83M112.67 37.2L117.47 30.74M112.67 37.2L114.06 42.7M107.89 45.85L110.27 46.85M107.89 45.85L114.06 42.7M120.67 16.17L125.26 22.5M117.47 30.74L123.66 29.78M114.06 42.7L120.25 41.74M125.26 22.5L123.66 29.78M125.26 22.5L127.64 23.49M123.66 29.78L125.05 35.28M117.91 44.3L120.25 41.74M120.25 41.74L125.05 35.28M127.64 23.49L127.51 31.39M125.05 35.28L127.51 31.39" stroke="#0a0a0a" stroke-width="1.35" fill="none"/><g fill="#0a0a0a"><circle cx="88.49" cy="22.61" r="1.5"/><circle cx="90.83" cy="20.04" r="1.5"/><circle cx="95.63" cy="13.59" r="1.5"/><circle cx="93.04" cy="25.38" r="1.5"/><circle cx="98.09" cy="9.7" r="1.5"/><circle cx="90.57" cy="35.84" r="1.5"/><circle cx="92.91" cy="33.28" r="1.5"/><circle cx="100.81" cy="14.93" r="1.5"/><circle cx="99.2" cy="22.22" r="1.5"/><circle cx="105.73" cy="7.15" r="1.5"/><circle cx="95.16" cy="42.17" r="1.5"/><circle cx="98.95" cy="38.02" r="1.5"/><circle cx="108.44" cy="12.39" r="1.5"/><circle cx="105.24" cy="26.96" r="1.5"/><circle cx="110.9" cy="8.5" r="1.5"/><circle cx="105.11" cy="34.86" r="1.5"/><circle cx="100.34" cy="43.52" r="1.5"/><circle cx="114.48" cy="17.13" r="1.5"/><circle cx="112.88" cy="24.41" r="1.5"/><circle cx="118.46" cy="10.83" r="1.5"/><circle cx="112.67" cy="37.2" r="1.5"/><circle cx="107.89" cy="45.85" r="1.5"/><circle cx="120.67" cy="16.17" r="1.5"/><circle cx="117.47" cy="30.74" r="1.5"/><circle cx="110.27" cy="46.85" r="1.5"/><circle cx="114.06" cy="42.7" r="1.5"/><circle cx="125.26" cy="22.5" r="1.5"/><circle cx="123.66" cy="29.78" r="1.5"/><circle cx="120.25" cy="41.74" r="1.5"/><circle cx="127.64" cy="23.49" r="1.5"/><circle cx="125.05" cy="35.28" r="1.5"/><circle cx="127.51" cy="31.39" r="1.5"/></g></g>
<g><path d="M45.79 50.35L45.7 53.45M43.87 62.89L44.52 61.2M50.76 44.49L55.64 41.73M45.7 53.45L44.52 61.2M45.7 53.45L50.59 50.69M44.52 61.2L48.21 66.19M55.64 41.73L62.5 40.01M55.64 41.73L55.56 44.83M50.62 74.56L51.26 72.87M50.59 50.69L55.56 44.83M50.59 50.69L54.28 55.68M48.21 66.19L51.26 72.87M48.21 66.19L53.1 63.43M62.5 40.01L69.26 41.38M55.56 44.83L62.33 46.21M51.26 72.87L58.03 74.24M54.28 55.68L53.1 63.43M54.28 55.68L61.54 52.91M53.1 63.43L59.17 68.41M69.26 41.38L69.18 44.48M69.26 41.38L75.38 44.44M62.33 46.21L61.54 52.91M62.33 46.21L69.18 44.48M58.03 74.24L59.17 68.41M58.03 74.24L64.15 77.3M63.5 78.99L64.15 77.3M61.54 52.91L67.61 57.89M59.17 68.41L66.42 65.64M69.18 44.48L75.25 49.46M75.38 44.44L79.08 49.43M64.15 77.3L71.41 74.53M67.61 57.89L66.42 65.64M67.61 57.89L74.46 56.16M66.42 65.64L72.54 68.7M75.25 49.46L79.08 49.43M75.25 49.46L74.46 56.16M79.08 49.43L82.13 56.11M71.41 74.53L75.24 74.51M71.41 74.53L72.54 68.7M75.24 74.51L80.21 68.65M74.46 56.16L77.51 62.84M82.13 56.11L81.35 62.82M72.54 68.7L77.51 62.84M80.21 68.65L81.35 62.82M77.51 62.84L81.35 62.82" stroke="#0a0a0a" stroke-width="1.35" fill="none" opacity="0.95"/><path d="M44.65 56.18L48.49 56.16M44.65 56.18L45.79 50.35M44.65 56.18L43.87 62.89M48.49 56.16L53.46 50.3M48.49 56.16L51.54 62.84M45.79 50.35L50.76 44.49M53.46 50.3L54.59 44.47M53.46 50.3L59.58 53.36M43.87 62.89L46.92 69.57M51.54 62.84L50.75 69.54M51.54 62.84L58.39 61.11M50.76 44.49L54.59 44.47M54.59 44.47L61.85 41.7M46.92 69.57L50.75 69.54M46.92 69.57L50.62 74.56M50.75 69.54L56.82 74.52M59.58 53.36L58.39 61.11M59.58 53.36L66.83 50.59M58.39 61.11L64.46 66.09M61.85 41.7L62.5 40.01M61.85 41.7L67.97 44.76M50.62 74.56L56.74 77.62M56.82 74.52L63.67 72.79M56.82 74.52L56.74 77.62M66.83 50.59L67.97 44.76M66.83 50.59L72.9 55.57M64.46 66.09L63.67 72.79M64.46 66.09L71.72 63.32M67.97 44.76L74.74 46.13M63.67 72.79L70.44 74.17M56.74 77.62L63.5 78.99M72.9 55.57L71.72 63.32M72.9 55.57L77.79 52.81M71.72 63.32L75.41 68.31M74.74 46.13L77.79 52.81M74.74 46.13L75.38 44.44M70.44 74.17L75.41 68.31M70.44 74.17L70.36 77.27M63.5 78.99L70.36 77.27M77.79 52.81L81.48 57.8M75.41 68.31L80.3 65.55M70.36 77.27L75.24 74.51M81.48 57.8L80.3 65.55M81.48 57.8L82.13 56.11M80.3 65.55L80.21 68.65" stroke="#0a0a0a" stroke-width="1.35" fill="none"/><g fill="#0a0a0a"><circle cx="44.65" cy="56.18" r="1.5"/><circle cx="48.49" cy="56.16" r="1.5"/><circle cx="45.79" cy="50.35" r="1.5"/><circle cx="53.46" cy="50.3" r="1.5"/><circle cx="43.87" cy="62.89" r="1.5"/><circle cx="51.54" cy="62.84" r="1.5"/><circle cx="50.76" cy="44.49" r="1.5"/><circle cx="54.59" cy="44.47" r="1.5"/><circle cx="46.92" cy="69.57" r="1.5"/><circle cx="50.75" cy="69.54" r="1.5"/><circle cx="59.58" cy="53.36" r="1.5"/><circle cx="58.39" cy="61.11" r="1.5"/><circle cx="61.85" cy="41.7" r="1.5"/><circle cx="50.62" cy="74.56" r="1.5"/><circle cx="56.82" cy="74.52" r="1.5"/><circle cx="66.83" cy="50.59" r="1.5"/><circle cx="64.46" cy="66.09" r="1.5"/><circle cx="62.5" cy="40.01" r="1.5"/><circle cx="67.97" cy="44.76" r="1.5"/><circle cx="63.67" cy="72.79" r="1.5"/><circle cx="56.74" cy="77.62" r="1.5"/><circle cx="72.9" cy="55.57" r="1.5"/><circle cx="71.72" cy="63.32" r="1.5"/><circle cx="74.74" cy="46.13" r="1.5"/><circle cx="70.44" cy="74.17" r="1.5"/><circle cx="63.5" cy="78.99" r="1.5"/><circle cx="77.79" cy="52.81" r="1.5"/><circle cx="75.41" cy="68.31" r="1.5"/><circle cx="75.38" cy="44.44" r="1.5"/><circle cx="70.36" cy="77.27" r="1.5"/><circle cx="81.48" cy="57.8" r="1.5"/><circle cx="80.3" cy="65.55" r="1.5"/><circle cx="80.21" cy="68.65" r="1.5"/></g></g>
<g><path d="M138.47 73.98L141.53 72.1M138.47 73.98L137 81.93M141.53 72.1L147.37 66.53M141.53 72.1L141.96 78.89M137 81.93L139.16 84.97M147.37 66.53L150.14 62.85M147.37 66.53L153.62 67.76M150.14 62.85L158.11 61.79M141.96 78.89L139.16 84.97M141.96 78.89L148.21 80.11M139.16 84.97L142.61 92.27M153.62 67.76L160.26 64.82M153.62 67.76L154.05 74.55M158.11 61.79L160.26 64.82M158.11 61.79L163.02 62.61M148.21 80.11L154.05 74.55M148.21 80.11L151.67 87.41M142.61 92.27L143.92 96.53M142.61 92.27L148.87 93.49M160.26 64.82L167.33 68.68M154.05 74.55L161.11 78.4M143.92 96.53L150.98 100.39M151.67 87.41L148.87 93.49M151.67 87.41L159.64 86.36M148.87 93.49L154.04 98.51M167.33 68.68L167.75 75.47M167.33 68.68L172.24 69.51M161.11 78.4L159.64 86.36M161.11 78.4L167.75 75.47M170.08 66.47L172.24 69.51M150.98 100.39L154.04 98.51M159.64 86.36L164.81 91.38M154.04 98.51L162.01 97.45M167.75 75.47L172.92 80.49M172.24 69.51L175.69 76.8M164.81 91.38L162.01 97.45M164.81 91.38L171.45 88.44M162.01 97.45L166.92 98.27M172.92 80.49L175.69 76.8M172.92 80.49L171.45 88.44M175.69 76.8L177 81.07M163.86 100.15L166.92 98.27M171.45 88.44L172.75 92.71M166.92 98.27L172.75 92.71M172.75 92.71L175.53 89.02" stroke="#0a0a0a" stroke-width="1.35" fill="none" opacity="0.95"/><path d="M138.47 73.98L141.25 70.29M141.25 70.29L147.08 64.73M141.25 70.29L142.55 74.56M147.08 64.73L150.14 62.85M147.08 64.73L151.99 65.55M137 81.93L138.31 86.2M142.55 74.56L141.08 82.51M142.55 74.56L149.19 71.62M138.31 86.2L141.08 82.51M138.31 86.2L141.76 93.49M141.08 82.51L146.25 87.53M151.99 65.55L149.19 71.62M151.99 65.55L159.96 64.49M149.19 71.62L154.36 76.64M141.76 93.49L143.92 96.53M141.76 93.49L146.67 94.32M146.25 87.53L152.89 84.6M146.25 87.53L146.67 94.32M159.96 64.49L163.02 62.61M159.96 64.49L165.13 69.51M154.36 76.64L152.89 84.6M154.36 76.64L162.33 75.59M163.02 62.61L170.08 66.47M152.89 84.6L159.95 88.45M146.67 94.32L153.74 98.18M165.13 69.51L162.33 75.59M165.13 69.51L171.39 70.73M162.33 75.59L165.79 82.89M170.08 66.47L171.39 70.73M150.98 100.39L155.89 101.21M159.95 88.45L165.79 82.89M159.95 88.45L160.38 95.24M153.74 98.18L155.89 101.21M153.74 98.18L160.38 95.24M171.39 70.73L174.84 78.03M165.79 82.89L172.04 84.11M155.89 101.21L163.86 100.15M160.38 95.24L166.63 96.47M174.84 78.03L172.04 84.11M174.84 78.03L177 81.07M172.04 84.11L172.47 90.9M163.86 100.15L166.63 96.47M166.63 96.47L172.47 90.9M177 81.07L175.53 89.02M172.47 90.9L175.53 89.02" stroke="#0a0a0a" stroke-width="1.35" fill="none"/><g fill="#0a0a0a"><circle cx="141.25" cy="70.29" r="1.5"/><circle cx="147.08" cy="64.73" r="1.5"/><circle cx="142.55" cy="74.56" r="1.5"/><circle cx="138.31" cy="86.2" r="1.5"/><circle cx="141.08" cy="82.51" r="1.5"/><circle cx="151.99" cy="65.55" r="1.5"/><circle cx="149.19" cy="71.62" r="1.5"/><circle cx="141.76" cy="93.49" r="1.5"/><circle cx="146.25" cy="87.53" r="1.5"/><circle cx="159.96" cy="64.49" r="1.5"/><circle cx="154.36" cy="76.64" r="1.5"/><circle cx="163.02" cy="62.61" r="1.5"/><circle cx="152.89" cy="84.6" r="1.5"/><circle cx="146.67" cy="94.32" r="1.5"/><circle cx="165.13" cy="69.51" r="1.5"/><circle cx="162.33" cy="75.59" r="1.5"/><circle cx="170.08" cy="66.47" r="1.5"/><circle cx="159.95" cy="88.45" r="1.5"/><circle cx="153.74" cy="98.18" r="1.5"/><circle cx="171.39" cy="70.73" r="1.5"/><circle cx="165.79" cy="82.89" r="1.5"/><circle cx="155.89" cy="101.21" r="1.5"/><circle cx="160.38" cy="95.24" r="1.5"/><circle cx="174.84" cy="78.03" r="1.5"/><circle cx="172.04" cy="84.11" r="1.5"/><circle cx="163.86" cy="100.15" r="1.5"/><circle cx="166.63" cy="96.47" r="1.5"/><circle cx="177" cy="81.07" r="1.5"/><circle cx="172.47" cy="90.9" r="1.5"/><circle cx="175.53" cy="89.02" r="1.5"/></g></g>
<g><path d="M94.72 116.2L95.9 111.25M95.9 111.25L99.58 104.15M95.9 111.25L97.68 115.76M95.78 123.78L97.62 123.51M99.58 104.15L105.04 101.56M97.68 115.76L97.62 123.51M97.68 115.76L103.15 113.18M97.62 123.51L103.02 128.67M105.04 101.56L110.93 97.82M105.04 101.56L106.83 106.08M109.1 98.09L110.93 97.82M104.75 134.37L106.58 134.1M103.15 113.18L106.83 106.08M103.15 113.18L108.55 118.34M103.02 128.67L106.58 134.1M103.02 128.67L108.48 126.08M110.93 97.82L118.6 98.59M106.83 106.08L114.51 106.85M106.58 134.1L114.26 134.87M108.55 118.34L108.48 126.08M108.55 118.34L115.57 114.42M108.48 126.08L115.43 129.91M118.6 98.59L120.39 103.1M118.6 98.59L124.45 99.63M114.51 106.85L115.57 114.42M114.51 106.85L120.39 103.1M114.26 134.87L115.43 129.91M114.26 134.87L120.1 135.91M115.57 114.42L122.52 118.26M115.43 129.91L122.45 126M120.39 103.1L127.34 106.94M124.45 99.63L129.85 104.79M120.1 135.91L127.12 132M122.52 118.26L122.45 126M122.52 118.26L128.4 114.51M122.45 126L128.29 127.04M127.34 106.94L129.85 104.79M127.34 106.94L128.4 114.51M129.85 104.79L133.42 110.22M127.12 132L129.62 129.85M127.12 132L128.29 127.04M128.4 114.51L131.97 119.94M133.42 110.22L134.48 117.8M128.29 127.04L131.97 119.94M131.97 119.94L134.48 117.8" stroke="#0a0a0a" stroke-width="1.35" fill="none" opacity="0.95"/><path d="M94.72 116.2L97.23 114.06M94.72 116.2L95.78 123.78M97.23 114.06L100.91 106.96M97.23 114.06L100.8 119.49M100.91 106.96L102.08 102M100.91 106.96L106.75 108M95.78 123.78L99.35 129.21M100.8 119.49L101.86 127.06M100.8 119.49L106.68 115.74M99.58 104.15L102.08 102M102.08 102L109.1 98.09M99.35 129.21L101.86 127.06M99.35 129.21L104.75 134.37M101.86 127.06L108.81 130.9M106.75 108L106.68 115.74M106.75 108L113.77 104.09M106.68 115.74L113.63 119.58M109.1 98.09L114.94 99.13M104.75 134.37L110.6 135.41M108.81 130.9L114.69 127.15M108.81 130.9L110.6 135.41M113.77 104.09L114.94 99.13M113.77 104.09L120.72 107.92M113.63 119.58L114.69 127.15M113.63 119.58L120.65 115.66M114.94 99.13L122.62 99.9M114.69 127.15L122.37 127.92M110.6 135.41L118.27 136.18M120.72 107.92L120.65 115.66M120.72 107.92L126.18 105.33M120.65 115.66L126.05 120.82M122.62 99.9L126.18 105.33M122.62 99.9L124.45 99.63M122.37 127.92L126.05 120.82M122.37 127.92L124.16 132.44M118.27 136.18L120.1 135.91M118.27 136.18L124.16 132.44M126.18 105.33L131.58 110.49M126.05 120.82L131.52 118.24M124.16 132.44L129.62 129.85M131.58 110.49L131.52 118.24M131.58 110.49L133.42 110.22M131.52 118.24L133.3 122.75M129.62 129.85L133.3 122.75M133.3 122.75L134.48 117.8" stroke="#0a0a0a" stroke-width="1.35" fill="none"/><g fill="#0a0a0a"><circle cx="94.72" cy="116.2" r="1.5"/><circle cx="97.23" cy="114.06" r="1.5"/><circle cx="100.91" cy="106.96" r="1.5"/><circle cx="95.78" cy="123.78" r="1.5"/><circle cx="100.8" cy="119.49" r="1.5"/><circle cx="102.08" cy="102" r="1.5"/><circle cx="99.35" cy="129.21" r="1.5"/><circle cx="101.86" cy="127.06" r="1.5"/><circle cx="106.75" cy="108" r="1.5"/><circle cx="106.68" cy="115.74" r="1.5"/><circle cx="109.1" cy="98.09" r="1.5"/><circle cx="104.75" cy="134.37" r="1.5"/><circle cx="108.81" cy="130.9" r="1.5"/><circle cx="113.77" cy="104.09" r="1.5"/><circle cx="113.63" cy="119.58" r="1.5"/><circle cx="114.94" cy="99.13" r="1.5"/><circle cx="114.69" cy="127.15" r="1.5"/><circle cx="110.6" cy="135.41" r="1.5"/><circle cx="120.72" cy="107.92" r="1.5"/><circle cx="120.65" cy="115.66" r="1.5"/><circle cx="122.62" cy="99.9" r="1.5"/><circle cx="122.37" cy="127.92" r="1.5"/><circle cx="118.27" cy="136.18" r="1.5"/><circle cx="126.18" cy="105.33" r="1.5"/><circle cx="126.05" cy="120.82" r="1.5"/><circle cx="124.16" cy="132.44" r="1.5"/><circle cx="131.58" cy="110.49" r="1.5"/><circle cx="131.52" cy="118.24" r="1.5"/><circle cx="129.62" cy="129.85" r="1.5"/><circle cx="133.42" cy="110.22" r="1.5"/><circle cx="133.3" cy="122.75" r="1.5"/></g></g>
<g><path d="M177.18 41.13L181.01 34.64M177.18 41.13L178.17 44.8M176.92 53.33L178.01 52.34M181.01 34.64L185.83 31.82M178.17 44.8L178.01 52.34M178.17 44.8L182.98 41.98M178.01 52.34L182.66 57.06M185.83 31.82L191.87 28.85M185.83 31.82L186.82 35.49M185.15 63.75L186.24 62.76M182.98 41.98L186.82 35.49M182.98 41.98L187.64 46.7M182.66 57.06L186.24 62.76M182.66 57.06L187.48 54.24M191.87 28.85L198.9 29.56M186.82 35.49L193.85 36.2M186.24 62.76L193.27 63.47M187.64 46.7L187.48 54.24M187.64 46.7L194.36 43.12M187.48 54.24L194.04 58.2M198.9 29.56L199.89 33.23M198.9 29.56L204.85 31.25M193.85 36.2L194.36 43.12M193.85 36.2L199.89 33.23M193.27 63.47L194.04 58.2M193.27 63.47L199.21 65.16M198.13 66.15L199.21 65.16M194.36 43.12L200.91 47.09M194.04 58.2L200.75 54.62M199.89 33.23L206.44 37.19M204.85 31.25L209.5 35.97M199.21 65.16L205.92 61.58M200.91 47.09L200.75 54.62M200.91 47.09L206.95 44.12M200.75 54.62L206.69 56.32M206.44 37.19L209.5 35.97M206.44 37.19L206.95 44.12M209.5 35.97L213.08 41.67M205.92 61.58L208.99 60.36M205.92 61.58L206.69 56.32M206.95 44.12L210.53 49.82M213.08 41.67L213.59 48.6M206.69 56.32L210.53 49.82M212.82 53.87L213.59 48.6M210.53 49.82L213.59 48.6" stroke="#0a0a0a" stroke-width="1.35" fill="none" opacity="0.95"/><path d="M176.41 46.4L179.47 45.18M176.41 46.4L177.18 41.13M176.41 46.4L176.92 53.33M179.47 45.18L183.31 38.68M179.47 45.18L183.05 50.88M183.31 38.68L184.08 33.42M183.31 38.68L189.25 40.38M176.92 53.33L180.5 59.03M183.05 50.88L183.56 57.81M183.05 50.88L189.09 47.91M181.01 34.64L184.08 33.42M184.08 33.42L190.79 29.84M180.5 59.03L183.56 57.81M180.5 59.03L185.15 63.75M183.56 57.81L190.11 61.77M189.25 40.38L189.09 47.91M189.25 40.38L195.96 36.8M189.09 47.91L195.64 51.88M190.79 29.84L191.87 28.85M190.79 29.84L196.73 31.53M185.15 63.75L191.1 65.44M190.11 61.77L196.15 58.8M190.11 61.77L191.1 65.44M195.96 36.8L196.73 31.53M195.96 36.8L202.52 40.76M195.64 51.88L196.15 58.8M195.64 51.88L202.36 48.3M196.73 31.53L203.76 32.24M196.15 58.8L203.18 59.51M191.1 65.44L198.13 66.15M202.52 40.76L202.36 48.3M202.52 40.76L207.34 37.94M202.36 48.3L207.02 53.02M203.76 32.24L207.34 37.94M203.76 32.24L204.85 31.25M203.18 59.51L207.02 53.02M203.18 59.51L204.17 63.18M198.13 66.15L204.17 63.18M207.34 37.94L211.99 42.66M207.02 53.02L211.83 50.2M204.17 63.18L208.99 60.36M211.99 42.66L211.83 50.2M211.99 42.66L213.08 41.67M211.83 50.2L212.82 53.87M208.99 60.36L212.82 53.87" stroke="#0a0a0a" stroke-width="1.35" fill="none"/><g fill="#0a0a0a"><circle cx="176.41" cy="46.4" r="1.5"/><circle cx="179.47" cy="45.18" r="1.5"/><circle cx="183.31" cy="38.68" r="1.5"/><circle cx="176.92" cy="53.33" r="1.5"/><circle cx="183.05" cy="50.88" r="1.5"/><circle cx="181.01" cy="34.64" r="1.5"/><circle cx="184.08" cy="33.42" r="1.5"/><circle cx="180.5" cy="59.03" r="1.5"/><circle cx="183.56" cy="57.81" r="1.5"/><circle cx="189.25" cy="40.38" r="1.5"/><circle cx="189.09" cy="47.91" r="1.5"/><circle cx="190.79" cy="29.84" r="1.5"/><circle cx="185.15" cy="63.75" r="1.5"/><circle cx="190.11" cy="61.77" r="1.5"/><circle cx="195.96" cy="36.8" r="1.5"/><circle cx="195.64" cy="51.88" r="1.5"/><circle cx="196.73" cy="31.53" r="1.5"/><circle cx="196.15" cy="58.8" r="1.5"/><circle cx="191.1" cy="65.44" r="1.5"/><circle cx="202.52" cy="40.76" r="1.5"/><circle cx="202.36" cy="48.3" r="1.5"/><circle cx="203.76" cy="32.24" r="1.5"/><circle cx="203.18" cy="59.51" r="1.5"/><circle cx="198.13" cy="66.15" r="1.5"/><circle cx="207.34" cy="37.94" r="1.5"/><circle cx="207.02" cy="53.02" r="1.5"/><circle cx="204.85" cy="31.25" r="1.5"/><circle cx="204.17" cy="63.18" r="1.5"/><circle cx="211.99" cy="42.66" r="1.5"/><circle cx="211.83" cy="50.2" r="1.5"/><circle cx="208.99" cy="60.36" r="1.5"/><circle cx="213.08" cy="41.67" r="1.5"/><circle cx="212.82" cy="53.87" r="1.5"/></g></g>
<g><path d="M11.12 87.97L14.75 81.82M11.12 87.97L12.05 91.45M10.87 99.52L11.9 98.59M14.75 81.82L19.31 79.15M12.05 91.45L11.9 98.59M12.05 91.45L16.62 88.77M11.9 98.59L16.31 103.06M19.31 79.15L25.04 76.34M19.31 79.15L20.25 82.62M18.67 109.39L19.7 108.46M16.62 88.77L20.25 82.62M16.62 88.77L21.03 93.24M16.31 103.06L19.7 108.46M16.31 103.06L20.88 100.38M25.04 76.34L31.7 77M20.25 82.62L26.91 83.29M19.7 108.46L26.36 109.13M21.03 93.24L20.88 100.38M21.03 93.24L27.39 89.86M20.88 100.38L27.09 104.14M31.7 77L32.63 80.48M31.7 77L37.33 78.61M26.91 83.29L27.39 89.86M26.91 83.29L32.63 80.48M26.36 109.13L27.09 104.14M26.36 109.13L31.99 110.73M30.96 111.66L31.99 110.73M27.39 89.86L33.6 93.61M27.09 104.14L33.45 100.75M32.63 80.48L38.84 84.23M37.33 78.61L41.74 83.07M31.99 110.73L38.35 107.34M33.6 93.61L33.45 100.75M33.6 93.61L39.32 90.8M33.45 100.75L39.08 102.35M38.84 84.23L41.74 83.07M38.84 84.23L39.32 90.8M41.74 83.07L45.13 88.48M38.35 107.34L41.25 106.18M38.35 107.34L39.08 102.35M39.32 90.8L42.71 96.2M45.13 88.48L45.61 95.04M39.08 102.35L42.71 96.2M44.88 100.03L45.61 95.04M42.71 96.2L45.61 95.04" stroke="#0a0a0a" stroke-width="1.35" fill="none" opacity="0.95"/><path d="M10.39 92.96L13.29 91.8M10.39 92.96L11.12 87.97M10.39 92.96L10.87 99.52M13.29 91.8L16.92 85.65M13.29 91.8L16.68 97.2M16.92 85.65L17.65 80.66M16.92 85.65L22.55 87.25M10.87 99.52L14.26 104.93M16.68 97.2L17.16 103.77M16.68 97.2L22.4 94.39M14.75 81.82L17.65 80.66M17.65 80.66L24.01 77.27M14.26 104.93L17.16 103.77M14.26 104.93L18.67 109.39M17.16 103.77L23.37 107.52M22.55 87.25L22.4 94.39M22.55 87.25L28.91 83.86M22.4 94.39L28.61 98.14M24.01 77.27L25.04 76.34M24.01 77.27L29.64 78.87M18.67 109.39L24.3 111M23.37 107.52L29.09 104.71M23.37 107.52L24.3 111M28.91 83.86L29.64 78.87M28.91 83.86L35.12 87.62M28.61 98.14L29.09 104.71M28.61 98.14L34.97 94.76M29.64 78.87L36.3 79.54M29.09 104.71L35.75 105.38M24.3 111L30.96 111.66M35.12 87.62L34.97 94.76M35.12 87.62L39.69 84.94M34.97 94.76L39.38 99.23M36.3 79.54L39.69 84.94M36.3 79.54L37.33 78.61M35.75 105.38L39.38 99.23M35.75 105.38L36.69 108.85M30.96 111.66L36.69 108.85M39.69 84.94L44.1 89.41M39.38 99.23L43.95 96.55M36.69 108.85L41.25 106.18M44.1 89.41L43.95 96.55M44.1 89.41L45.13 88.48M43.95 96.55L44.88 100.03M41.25 106.18L44.88 100.03" stroke="#0a0a0a" stroke-width="1.35" fill="none"/><g fill="#0a0a0a"><circle cx="10.39" cy="92.96" r="1.5"/><circle cx="13.29" cy="91.8" r="1.5"/><circle cx="16.92" cy="85.65" r="1.5"/><circle cx="10.87" cy="99.52" r="1.5"/><circle cx="16.68" cy="97.2" r="1.5"/><circle cx="14.75" cy="81.82" r="1.5"/><circle cx="17.65" cy="80.66" r="1.5"/><circle cx="14.26" cy="104.93" r="1.5"/><circle cx="17.16" cy="103.77" r="1.5"/><circle cx="22.55" cy="87.25" r="1.5"/><circle cx="22.4" cy="94.39" r="1.5"/><circle cx="24.01" cy="77.27" r="1.5"/><circle cx="18.67" cy="109.39" r="1.5"/><circle cx="23.37" cy="107.52" r="1.5"/><circle cx="28.91" cy="83.86" r="1.5"/><circle cx="28.61" cy="98.14" r="1.5"/><circle cx="29.64" cy="78.87" r="1.5"/><circle cx="29.09" cy="104.71" r="1.5"/><circle cx="24.3" cy="111" r="1.5"/><circle cx="35.12" cy="87.62" r="1.5"/><circle cx="34.97" cy="94.76" r="1.5"/><circle cx="36.3" cy="79.54" r="1.5"/><circle cx="35.75" cy="105.38" r="1.5"/><circle cx="30.96" cy="111.66" r="1.5"/><circle cx="39.69" cy="84.94" r="1.5"/><circle cx="39.38" cy="99.23" r="1.5"/><circle cx="37.33" cy="78.61" r="1.5"/><circle cx="36.69" cy="108.85" r="1.5"/><circle cx="44.1" cy="89.41" r="1.5"/><circle cx="43.95" cy="96.55" r="1.5"/><circle cx="41.25" cy="106.18" r="1.5"/><circle cx="45.13" cy="88.48" r="1.5"/><circle cx="44.88" cy="100.03" r="1.5"/></g></g>
<g><path d="M61.24 148.3L65.28 141.46M61.24 148.3L62.28 152.16M60.97 161.13L62.11 160.1M65.28 141.46L70.35 138.5M62.28 152.16L62.11 160.1M62.28 152.16L67.35 149.19M62.11 160.1L67.01 165.06M70.35 138.5L76.71 135.37M70.35 138.5L71.39 142.36M69.64 172.1L70.78 171.07M67.35 149.19L71.39 142.36M67.35 149.19L72.26 154.16M67.01 165.06L70.78 171.07M67.01 165.06L72.09 162.09M76.71 135.37L84.11 136.11M71.39 142.36L78.78 143.1M70.78 171.07L78.18 171.81M72.26 154.16L72.09 162.09M72.26 154.16L79.32 150.39M72.09 162.09L78.98 166.26M84.11 136.11L85.15 139.98M84.11 136.11L90.36 137.9M78.78 143.1L79.32 150.39M78.78 143.1L85.15 139.98M78.18 171.81L78.98 166.26M78.18 171.81L84.43 173.59M83.29 174.63L84.43 173.59M79.32 150.39L86.22 154.56M78.98 166.26L86.05 162.5M85.15 139.98L92.04 144.15M90.36 137.9L95.27 142.86M84.43 173.59L91.5 169.82M86.22 154.56L86.05 162.5M86.22 154.56L92.58 151.44M86.05 162.5L92.31 164.28M92.04 144.15L95.27 142.86M92.04 144.15L92.58 151.44M95.27 142.86L99.03 148.87M91.5 169.82L94.72 168.54M91.5 169.82L92.31 164.28M92.58 151.44L96.34 157.45M99.03 148.87L99.57 156.16M92.31 164.28L96.34 157.45M98.76 161.7L99.57 156.16M96.34 157.45L99.57 156.16" stroke="#0a0a0a" stroke-width="1.35" fill="none" opacity="0.95"/><path d="M60.43 153.84L63.66 152.55M60.43 153.84L61.24 148.3M60.43 153.84L60.97 161.13M63.66 152.55L67.69 145.72M63.66 152.55L67.42 158.56M67.69 145.72L68.5 140.18M67.69 145.72L73.95 147.5M60.97 161.13L64.73 167.14M67.42 158.56L67.96 165.85M67.42 158.56L73.78 155.44M65.28 141.46L68.5 140.18M68.5 140.18L75.57 136.41M64.73 167.14L67.96 165.85M64.73 167.14L69.64 172.1M67.96 165.85L74.85 170.02M73.95 147.5L73.78 155.44M73.95 147.5L81.02 143.74M73.78 155.44L80.68 159.61M75.57 136.41L76.71 135.37M75.57 136.41L81.82 138.19M69.64 172.1L75.89 173.89M74.85 170.02L81.22 166.9M74.85 170.02L75.89 173.89M81.02 143.74L81.82 138.19M81.02 143.74L87.91 147.91M80.68 159.61L81.22 166.9M80.68 159.61L87.74 155.84M81.82 138.19L89.22 138.93M81.22 166.9L88.61 167.64M75.89 173.89L83.29 174.63M87.91 147.91L87.74 155.84M87.91 147.91L92.99 144.94M87.74 155.84L92.65 160.81M89.22 138.93L92.99 144.94M89.22 138.93L90.36 137.9M88.61 167.64L92.65 160.81M88.61 167.64L89.65 171.5M83.29 174.63L89.65 171.5M92.99 144.94L97.89 149.9M92.65 160.81L97.72 157.84M89.65 171.5L94.72 168.54M97.89 149.9L97.72 157.84M97.89 149.9L99.03 148.87M97.72 157.84L98.76 161.7M94.72 168.54L98.76 161.7" stroke="#0a0a0a" stroke-width="1.35" fill="none"/><g fill="#0a0a0a"><circle cx="60.43" cy="153.84" r="1.5"/><circle cx="63.66" cy="152.55" r="1.5"/><circle cx="67.69" cy="145.72" r="1.5"/><circle cx="60.97" cy="161.13" r="1.5"/><circle cx="67.42" cy="158.56" r="1.5"/><circle cx="65.28" cy="141.46" r="1.5"/><circle cx="68.5" cy="140.18" r="1.5"/><circle cx="64.73" cy="167.14" r="1.5"/><circle cx="67.96" cy="165.85" r="1.5"/><circle cx="73.95" cy="147.5" r="1.5"/><circle cx="73.78" cy="155.44" r="1.5"/><circle cx="75.57" cy="136.41" r="1.5"/><circle cx="69.64" cy="172.1" r="1.5"/><circle cx="74.85" cy="170.02" r="1.5"/><circle cx="81.02" cy="143.74" r="1.5"/><circle cx="80.68" cy="159.61" r="1.5"/><circle cx="81.82" cy="138.19" r="1.5"/><circle cx="81.22" cy="166.9" r="1.5"/><circle cx="75.89" cy="173.89" r="1.5"/><circle cx="87.91" cy="147.91" r="1.5"/><circle cx="87.74" cy="155.84" r="1.5"/><circle cx="89.22" cy="138.93" r="1.5"/><circle cx="88.61" cy="167.64" r="1.5"/><circle cx="83.29" cy="174.63" r="1.5"/><circle cx="92.99" cy="144.94" r="1.5"/><circle cx="92.65" cy="160.81" r="1.5"/><circle cx="90.36" cy="137.9" r="1.5"/><circle cx="89.65" cy="171.5" r="1.5"/><circle cx="97.89" cy="149.9" r="1.5"/><circle cx="97.72" cy="157.84" r="1.5"/><circle cx="94.72" cy="168.54" r="1.5"/><circle cx="99.03" cy="148.87" r="1.5"/><circle cx="98.76" cy="161.7" r="1.5"/></g></g>
<g><path d="M173.12 -3.03L176.75 -9.18M173.12 -3.03L174.05 0.45M172.87 8.52L173.9 7.59M176.75 -9.18L181.31 -11.85M174.05 0.45L173.9 7.59M174.05 0.45L178.62 -2.23M173.9 7.59L178.31 12.06M181.31 -11.85L187.04 -14.66M181.31 -11.85L182.25 -8.38M180.67 18.39L181.7 17.46M178.62 -2.23L182.25 -8.38M178.62 -2.23L183.03 2.24M178.31 12.06L181.7 17.46M178.31 12.06L182.88 9.38M187.04 -14.66L193.7 -14M182.25 -8.38L188.91 -7.71M181.7 17.46L188.36 18.13M183.03 2.24L182.88 9.38M183.03 2.24L189.39 -1.14M182.88 9.38L189.09 13.14M193.7 -14L194.63 -10.52M193.7 -14L199.33 -12.39M188.91 -7.71L189.39 -1.14M188.91 -7.71L194.63 -10.52M188.36 18.13L189.09 13.14M188.36 18.13L193.99 19.73M192.96 20.66L193.99 19.73M189.39 -1.14L195.6 2.61M189.09 13.14L195.45 9.75M194.63 -10.52L200.84 -6.77M199.33 -12.39L203.74 -7.93M193.99 19.73L200.35 16.34M195.6 2.61L195.45 9.75M195.6 2.61L201.32 -0.2M195.45 9.75L201.08 11.35M200.84 -6.77L203.74 -7.93M200.84 -6.77L201.32 -0.2M203.74 -7.93L207.13 -2.52M200.35 16.34L203.25 15.18M200.35 16.34L201.08 11.35M201.32 -0.2L204.71 5.2M207.13 -2.52L207.61 4.04M201.08 11.35L204.71 5.2M206.88 9.03L207.61 4.04M204.71 5.2L207.61 4.04" stroke="#0a0a0a" stroke-width="1.35" fill="none" opacity="0.95"/><path d="M172.39 1.96L175.29 0.8M172.39 1.96L173.12 -3.03M172.39 1.96L172.87 8.52M175.29 0.8L178.92 -5.35M175.29 0.8L178.68 6.2M178.92 -5.35L179.65 -10.34M178.92 -5.35L184.55 -3.75M172.87 8.52L176.26 13.93M178.68 6.2L179.16 12.77M178.68 6.2L184.4 3.39M176.75 -9.18L179.65 -10.34M179.65 -10.34L186.01 -13.73M176.26 13.93L179.16 12.77M176.26 13.93L180.67 18.39M179.16 12.77L185.37 16.52M184.55 -3.75L184.4 3.39M184.55 -3.75L190.91 -7.14M184.4 3.39L190.61 7.14M186.01 -13.73L187.04 -14.66M186.01 -13.73L191.64 -12.13M180.67 18.39L186.3 20M185.37 16.52L191.09 13.71M185.37 16.52L186.3 20M190.91 -7.14L191.64 -12.13M190.91 -7.14L197.12 -3.38M190.61 7.14L191.09 13.71M190.61 7.14L196.97 3.76M191.64 -12.13L198.3 -11.46M191.09 13.71L197.75 14.38M186.3 20L192.96 20.66M197.12 -3.38L196.97 3.76M197.12 -3.38L201.69 -6.06M196.97 3.76L201.38 8.23M198.3 -11.46L201.69 -6.06M198.3 -11.46L199.33 -12.39M197.75 14.38L201.38 8.23M197.75 14.38L198.69 17.85M192.96 20.66L198.69 17.85M201.69 -6.06L206.1 -1.59M201.38 8.23L205.95 5.55M198.69 17.85L203.25 15.18M206.1 -1.59L205.95 5.55M206.1 -1.59L207.13 -2.52M205.95 5.55L206.88 9.03M203.25 15.18L206.88 9.03" stroke="#0a0a0a" stroke-width="1.35" fill="none"/><g fill="#0a0a0a"><circle cx="172.39" cy="1.96" r="1.5"/><circle cx="175.29" cy="0.8" r="1.5"/><circle cx="178.92" cy="-5.35" r="1.5"/><circle cx="172.87" cy="8.52" r="1.5"/><circle cx="178.68" cy="6.2" r="1.5"/><circle cx="176.75" cy="-9.18" r="1.5"/><circle cx="179.65" cy="-10.34" r="1.5"/><circle cx="176.26" cy="13.93" r="1.5"/><circle cx="179.16" cy="12.77" r="1.5"/><circle cx="184.55" cy="-3.75" r="1.5"/><circle cx="184.4" cy="3.39" r="1.5"/><circle cx="186.01" cy="-13.73" r="1.5"/><circle cx="180.67" cy="18.39" r="1.5"/><circle cx="185.37" cy="16.52" r="1.5"/><circle cx="190.91" cy="-7.14" r="1.5"/><circle cx="190.61" cy="7.14" r="1.5"/><circle cx="191.64" cy="-12.13" r="1.5"/><circle cx="191.09" cy="13.71" r="1.5"/><circle cx="186.3" cy="20" r="1.5"/><circle cx="197.12" cy="-3.38" r="1.5"/><circle cx="196.97" cy="3.76" r="1.5"/><circle cx="198.3" cy="-11.46" r="1.5"/><circle cx="197.75" cy="14.38" r="1.5"/><circle cx="192.96" cy="20.66" r="1.5"/><circle cx="201.69" cy="-6.06" r="1.5"/><circle cx="201.38" cy="8.23" r="1.5"/><circle cx="199.33" cy="-12.39" r="1.5"/><circle cx="198.69" cy="17.85" r="1.5"/><circle cx="206.1" cy="-1.59" r="1.5"/><circle cx="205.95" cy="5.55" r="1.5"/><circle cx="203.25" cy="15.18" r="1.5"/><circle cx="207.13" cy="-2.52" r="1.5"/><circle cx="206.88" cy="9.03" r="1.5"/></g></g>
<g><path d="M128.18 -18.87L132.01 -25.36M128.18 -18.87L129.17 -15.2M127.92 -6.67L129.01 -7.66M132.01 -25.36L136.83 -28.18M129.17 -15.2L129.01 -7.66M129.17 -15.2L133.98 -18.02M129.01 -7.66L133.66 -2.94M136.83 -28.18L142.87 -31.15M136.83 -28.18L137.82 -24.51M136.15 3.75L137.24 2.76M133.98 -18.02L137.82 -24.51M133.98 -18.02L138.64 -13.3M133.66 -2.94L137.24 2.76M133.66 -2.94L138.48 -5.76M142.87 -31.15L149.9 -30.44M137.82 -24.51L144.85 -23.8M137.24 2.76L144.27 3.47M138.64 -13.3L138.48 -5.76M138.64 -13.3L145.36 -16.88M138.48 -5.76L145.04 -1.8M149.9 -30.44L150.89 -26.77M149.9 -30.44L155.85 -28.75M144.85 -23.8L145.36 -16.88M144.85 -23.8L150.89 -26.77M144.27 3.47L145.04 -1.8M144.27 3.47L150.21 5.16M149.13 6.15L150.21 5.16M145.36 -16.88L151.91 -12.91M145.04 -1.8L151.75 -5.38M150.89 -26.77L157.44 -22.81M155.85 -28.75L160.5 -24.03M150.21 5.16L156.92 1.58M151.91 -12.91L151.75 -5.38M151.91 -12.91L157.95 -15.88M151.75 -5.38L157.69 -3.68M157.44 -22.81L160.5 -24.03M157.44 -22.81L157.95 -15.88M160.5 -24.03L164.08 -18.33M156.92 1.58L159.99 0.36M156.92 1.58L157.69 -3.68M157.95 -15.88L161.53 -10.18M164.08 -18.33L164.59 -11.4M157.69 -3.68L161.53 -10.18M163.82 -6.13L164.59 -11.4M161.53 -10.18L164.59 -11.4" stroke="#0a0a0a" stroke-width="1.35" fill="none" opacity="0.95"/><path d="M127.41 -13.6L130.47 -14.82M127.41 -13.6L128.18 -18.87M127.41 -13.6L127.92 -6.67M130.47 -14.82L134.31 -21.32M130.47 -14.82L134.05 -9.12M134.31 -21.32L135.08 -26.58M134.31 -21.32L140.25 -19.62M127.92 -6.67L131.5 -0.97M134.05 -9.12L134.56 -2.19M134.05 -9.12L140.09 -12.09M132.01 -25.36L135.08 -26.58M135.08 -26.58L141.79 -30.16M131.5 -0.97L134.56 -2.19M131.5 -0.97L136.15 3.75M134.56 -2.19L141.11 1.77M140.25 -19.62L140.09 -12.09M140.25 -19.62L146.96 -23.2M140.09 -12.09L146.64 -8.12M141.79 -30.16L142.87 -31.15M141.79 -30.16L147.73 -28.47M136.15 3.75L142.1 5.44M141.11 1.77L147.15 -1.2M141.11 1.77L142.1 5.44M146.96 -23.2L147.73 -28.47M146.96 -23.2L153.52 -19.24M146.64 -8.12L147.15 -1.2M146.64 -8.12L153.36 -11.7M147.73 -28.47L154.76 -27.76M147.15 -1.2L154.18 -0.49M142.1 5.44L149.13 6.15M153.52 -19.24L153.36 -11.7M153.52 -19.24L158.34 -22.06M153.36 -11.7L158.02 -6.98M154.76 -27.76L158.34 -22.06M154.76 -27.76L155.85 -28.75M154.18 -0.49L158.02 -6.98M154.18 -0.49L155.17 3.18M149.13 6.15L155.17 3.18M158.34 -22.06L162.99 -17.34M158.02 -6.98L162.83 -9.8M155.17 3.18L159.99 0.36M162.99 -17.34L162.83 -9.8M162.99 -17.34L164.08 -18.33M162.83 -9.8L163.82 -6.13M159.99 0.36L163.82 -6.13" stroke="#0a0a0a" stroke-width="1.35" fill="none"/><g fill="#0a0a0a"><circle cx="127.41" cy="-13.6" r="1.5"/><circle cx="130.47" cy="-14.82" r="1.5"/><circle cx="134.31" cy="-21.32" r="1.5"/><circle cx="127.92" cy="-6.67" r="1.5"/><circle cx="134.05" cy="-9.12" r="1.5"/><circle cx="132.01" cy="-25.36" r="1.5"/><circle cx="135.08" cy="-26.58" r="1.5"/><circle cx="131.5" cy="-0.97" r="1.5"/><circle cx="134.56" cy="-2.19" r="1.5"/><circle cx="140.25" cy="-19.62" r="1.5"/><circle cx="140.09" cy="-12.09" r="1.5"/><circle cx="141.79" cy="-30.16" r="1.5"/><circle cx="136.15" cy="3.75" r="1.5"/><circle cx="141.11" cy="1.77" r="1.5"/><circle cx="146.96" cy="-23.2" r="1.5"/><circle cx="146.64" cy="-8.12" r="1.5"/><circle cx="147.73" cy="-28.47" r="1.5"/><circle cx="147.15" cy="-1.2" r="1.5"/><circle cx="142.1" cy="5.44" r="1.5"/><circle cx="153.52" cy="-19.24" r="1.5"/><circle cx="153.36" cy="-11.7" r="1.5"/><circle cx="154.76" cy="-27.76" r="1.5"/><circle cx="154.18" cy="-0.49" r="1.5"/><circle cx="149.13" cy="6.15" r="1.5"/><circle cx="158.34" cy="-22.06" r="1.5"/><circle cx="158.02" cy="-6.98" r="1.5"/><circle cx="155.85" cy="-28.75" r="1.5"/><circle cx="155.17" cy="3.18" r="1.5"/><circle cx="162.99" cy="-17.34" r="1.5"/><circle cx="162.83" cy="-9.8" r="1.5"/><circle cx="159.99" cy="0.36" r="1.5"/><circle cx="164.08" cy="-18.33" r="1.5"/><circle cx="163.82" cy="-6.13" r="1.5"/></g></g>
<g><path d="M188.12 135.97L191.75 129.82M188.12 135.97L189.05 139.45M187.87 147.52L188.9 146.59M191.75 129.82L196.31 127.15M189.05 139.45L188.9 146.59M189.05 139.45L193.62 136.77M188.9 146.59L193.31 151.06M196.31 127.15L202.04 124.34M196.31 127.15L197.25 130.62M195.67 157.39L196.7 156.46M193.62 136.77L197.25 130.62M193.62 136.77L198.03 141.24M193.31 151.06L196.7 156.46M193.31 151.06L197.88 148.38M202.04 124.34L208.7 125M197.25 130.62L203.91 131.29M196.7 156.46L203.36 157.13M198.03 141.24L197.88 148.38M198.03 141.24L204.39 137.86M197.88 148.38L204.09 152.14M208.7 125L209.63 128.48M208.7 125L214.33 126.61M203.91 131.29L204.39 137.86M203.91 131.29L209.63 128.48M203.36 157.13L204.09 152.14M203.36 157.13L208.99 158.73M207.96 159.66L208.99 158.73M204.39 137.86L210.6 141.61M204.09 152.14L210.45 148.75M209.63 128.48L215.84 132.23M214.33 126.61L218.74 131.07M208.99 158.73L215.35 155.34M210.6 141.61L210.45 148.75M210.6 141.61L216.32 138.8M210.45 148.75L216.08 150.35M215.84 132.23L218.74 131.07M215.84 132.23L216.32 138.8M218.74 131.07L222.13 136.48M215.35 155.34L218.25 154.18M215.35 155.34L216.08 150.35M216.32 138.8L219.71 144.2M222.13 136.48L222.61 143.04M216.08 150.35L219.71 144.2M221.88 148.03L222.61 143.04M219.71 144.2L222.61 143.04" stroke="#0a0a0a" stroke-width="1.35" fill="none" opacity="0.95"/><path d="M187.39 140.96L190.29 139.8M187.39 140.96L188.12 135.97M187.39 140.96L187.87 147.52M190.29 139.8L193.92 133.65M190.29 139.8L193.68 145.2M193.92 133.65L194.65 128.66M193.92 133.65L199.55 135.25M187.87 147.52L191.26 152.93M193.68 145.2L194.16 151.77M193.68 145.2L199.4 142.39M191.75 129.82L194.65 128.66M194.65 128.66L201.01 125.27M191.26 152.93L194.16 151.77M191.26 152.93L195.67 157.39M194.16 151.77L200.37 155.52M199.55 135.25L199.4 142.39M199.55 135.25L205.91 131.86M199.4 142.39L205.61 146.14M201.01 125.27L202.04 124.34M201.01 125.27L206.64 126.87M195.67 157.39L201.3 159M200.37 155.52L206.09 152.71M200.37 155.52L201.3 159M205.91 131.86L206.64 126.87M205.91 131.86L212.12 135.62M205.61 146.14L206.09 152.71M205.61 146.14L211.97 142.76M206.64 126.87L213.3 127.54M206.09 152.71L212.75 153.38M201.3 159L207.96 159.66M212.12 135.62L211.97 142.76M212.12 135.62L216.69 132.94M211.97 142.76L216.38 147.23M213.3 127.54L216.69 132.94M213.3 127.54L214.33 126.61M212.75 153.38L216.38 147.23M212.75 153.38L213.69 156.85M207.96 159.66L213.69 156.85M216.69 132.94L221.1 137.41M216.38 147.23L220.95 144.55M213.69 156.85L218.25 154.18M221.1 137.41L220.95 144.55M221.1 137.41L222.13 136.48M220.95 144.55L221.88 148.03M218.25 154.18L221.88 148.03" stroke="#0a0a0a" stroke-width="1.35" fill="none"/><g fill="#0a0a0a"><circle cx="187.39" cy="140.96" r="1.5"/><circle cx="190.29" cy="139.8" r="1.5"/><circle cx="193.92" cy="133.65" r="1.5"/><circle cx="187.87" cy="147.52" r="1.5"/><circle cx="193.68" cy="145.2" r="1.5"/><circle cx="191.75" cy="129.82" r="1.5"/><circle cx="194.65" cy="128.66" r="1.5"/><circle cx="191.26" cy="152.93" r="1.5"/><circle cx="194.16" cy="151.77" r="1.5"/><circle cx="199.55" cy="135.25" r="1.5"/><circle cx="199.4" cy="142.39" r="1.5"/><circle cx="201.01" cy="125.27" r="1.5"/><circle cx="195.67" cy="157.39" r="1.5"/><circle cx="200.37" cy="155.52" r="1.5"/><circle cx="205.91" cy="131.86" r="1.5"/><circle cx="205.61" cy="146.14" r="1.5"/><circle cx="206.64" cy="126.87" r="1.5"/><circle cx="206.09" cy="152.71" r="1.5"/><circle cx="201.3" cy="159" r="1.5"/><circle cx="212.12" cy="135.62" r="1.5"/><circle cx="211.97" cy="142.76" r="1.5"/><circle cx="213.3" cy="127.54" r="1.5"/><circle cx="212.75" cy="153.38" r="1.5"/><circle cx="207.96" cy="159.66" r="1.5"/><circle cx="216.69" cy="132.94" r="1.5"/><circle cx="216.38" cy="147.23" r="1.5"/><circle cx="214.33" cy="126.61" r="1.5"/><circle cx="213.69" cy="156.85" r="1.5"/><circle cx="221.1" cy="137.41" r="1.5"/><circle cx="220.95" cy="144.55" r="1.5"/><circle cx="218.25" cy="154.18" r="1.5"/><circle cx="222.13" cy="136.48" r="1.5"/><circle cx="221.88" cy="148.03" r="1.5"/></g></g>
</g>
<g stroke="#11584a" stroke-width="0.5"><circle cx="87.05" cy="35.45" r="7.3" fill="url(#tgd)"/><circle cx="101.55" cy="35.45" r="7.3" fill="url(#tgd)"/><circle cx="116.05" cy="35.45" r="7.3" fill="url(#tgd)"/><circle cx="130.55" cy="35.45" r="7.3" fill="url(#tgd)"/><circle cx="79.8" cy="43.2" r="7.3" fill="url(#tg)"/><circle cx="94.3" cy="43.2" r="7.3" fill="url(#tg)"/><circle cx="108.8" cy="43.2" r="7.3" fill="url(#tgl)"/><circle cx="123.3" cy="43.2" r="7.3" fill="url(#tgl)"/><circle cx="137.8" cy="43.2" r="7.3" fill="url(#tgd)"/><circle cx="72.55" cy="50.95" r="7.3" fill="url(#tg)"/><circle cx="87.05" cy="50.95" r="7.3" fill="url(#tg)"/><circle cx="101.55" cy="50.95" r="7.3" fill="url(#tgl)"/><circle cx="116.05" cy="50.95" r="7.3" fill="url(#tgl)"/><circle cx="130.55" cy="50.95" r="7.3" fill="url(#tgl)"/><circle cx="145.05" cy="50.95" r="7.3" fill="url(#tgd)"/><circle cx="79.8" cy="58.7" r="7.3" fill="url(#tg)"/><circle cx="94.3" cy="58.7" r="7.3" fill="url(#tg)"/><circle cx="108.8" cy="58.7" r="7.3" fill="url(#tgl)"/><circle cx="123.3" cy="58.7" r="7.3" fill="url(#tgl)"/><circle cx="137.8" cy="58.7" r="7.3" fill="url(#tgd)"/><circle cx="72.55" cy="66.45" r="7.3" fill="url(#tg)"/><circle cx="87.05" cy="66.45" r="7.3" fill="url(#tg)"/><circle cx="101.55" cy="66.45" r="7.3" fill="url(#tgl)"/><circle cx="116.05" cy="66.45" r="7.3" fill="url(#tgl)"/><circle cx="130.55" cy="66.45" r="7.3" fill="url(#tgl)"/><circle cx="145.05" cy="66.45" r="7.3" fill="url(#tgd)"/><circle cx="79.8" cy="74.2" r="7.3" fill="url(#tg)"/><circle cx="94.3" cy="74.2" r="7.3" fill="url(#tg)"/><circle cx="108.8" cy="74.2" r="7.3" fill="url(#tgd)"/><circle cx="123.3" cy="74.2" r="7.3" fill="url(#tg)"/><circle cx="137.8" cy="74.2" r="7.3" fill="url(#tgd)"/><circle cx="72.55" cy="81.95" r="7.3" fill="url(#tg)"/><circle cx="87.05" cy="81.95" r="7.3" fill="url(#tg)"/><circle cx="101.55" cy="81.95" r="7.3" fill="url(#tgd)"/><circle cx="116.05" cy="81.95" r="7.3" fill="url(#tgd)"/><circle cx="130.55" cy="81.95" r="7.3" fill="url(#tg)"/><circle cx="145.05" cy="81.95" r="7.3" fill="url(#tg)"/><circle cx="79.8" cy="89.7" r="7.3" fill="url(#tg)"/><circle cx="94.3" cy="89.7" r="7.3" fill="url(#tg)"/><circle cx="108.8" cy="89.7" r="7.3" fill="url(#tg)"/><circle cx="123.3" cy="89.7" r="7.3" fill="url(#tg)"/><circle cx="137.8" cy="89.7" r="7.3" fill="url(#tgd)"/><circle cx="72.55" cy="97.45" r="7.3" fill="url(#tg)"/><circle cx="87.05" cy="97.45" r="7.3" fill="url(#tg)"/><circle cx="101.55" cy="97.45" r="7.3" fill="url(#tg)"/><circle cx="116.05" cy="97.45" r="7.3" fill="url(#tg)"/><circle cx="130.55" cy="97.45" r="7.3" fill="url(#tgd)"/><circle cx="145.05" cy="97.45" r="7.3" fill="url(#tgd)"/><circle cx="79.8" cy="105.2" r="7.3" fill="url(#tgd)"/><circle cx="94.3" cy="105.2" r="7.3" fill="url(#tgd)"/><circle cx="108.8" cy="105.2" r="7.3" fill="url(#tgd)"/><circle cx="123.3" cy="105.2" r="7.3" fill="url(#tgd)"/><circle cx="137.8" cy="105.2" r="7.3" fill="url(#tgd)"/><circle cx="87.05" cy="112.95" r="7.3" fill="url(#tgd)"/><circle cx="101.55" cy="112.95" r="7.3" fill="url(#tgd)"/><circle cx="116.05" cy="112.95" r="7.3" fill="url(#tgd)"/><circle cx="130.55" cy="112.95" r="7.3" fill="url(#tgd)"/></g>
<text transform="translate(6,14.8)" font-size="16" fill="#2a1717" font-weight="bold">a</text>
<path d="M265.5 146.2C265.5 141.02 265.52 121.65 265.5 115.1C265.48 108.55 265.5 108.62 265.4 106.9C265.3 105.18 264.55 105.68 264.9 104.8C265.25 103.92 267.85 102.67 267.5 101.6C267.15 100.53 261.3 99.55 262.8 98.4C264.3 97.25 276.5 95.85 276.5 94.7C276.5 93.55 264.3 92.65 262.8 91.5C261.3 90.35 267.85 88.85 267.5 87.8C267.15 86.75 259.82 86.08 260.7 85.2C261.58 84.32 274.67 83.38 272.8 82.5C270.93 81.62 251.78 80.87 249.5 79.9C247.22 78.93 254.85 77.77 259.1 76.7C263.35 75.63 274.3 74.38 275 73.5C275.7 72.62 264.63 71.92 263.3 71.4C261.97 70.88 269.2 70.98 267 70.4C264.8 69.82 247.88 69.02 250.1 67.9C252.32 66.78 278.18 64.75 280.3 63.7C282.42 62.65 264.83 62.25 262.8 61.6C260.77 60.95 267.68 60.47 268.1 59.8C268.52 59.13 265.42 58.48 265.3 57.6C265.18 56.72 267.4 55.38 267.4 54.5C267.4 53.62 265.3 53.1 265.3 52.3C265.3 51.5 267.48 50.48 267.4 49.7C267.32 48.92 264.88 48.4 264.8 47.6C264.72 46.8 267.12 45.7 266.9 44.9C266.68 44.1 263.5 43.58 263.5 42.8C263.5 42.02 266.42 41.25 266.9 40.2C267.38 39.15 266.75 37.57 266.4 36.5C266.05 35.43 264.88 34.95 264.8 33.8C264.72 32.65 265.98 30.92 265.9 29.6C265.82 28.28 264.35 27.32 264.3 25.9C264.25 24.48 265.25 23.3 265.6 21.1C265.95 18.9 266.4 15.6 266.4 12.7C266.4 9.8 265.73 5.2 265.6 3.7" fill="none" stroke="#111" stroke-width="1.0"/>
<rect x="233.1" y="3.6" width="65.4" height="142.6" fill="none" stroke="#555" stroke-width="1.1"/>
<line x1="233.1" y1="146.2" x2="234.9" y2="146.2" stroke="#555" stroke-width="0.9"/>
<line x1="233.1" y1="137.29" x2="234.1" y2="137.29" stroke="#555" stroke-width="0.9"/>
<text transform="translate(230.4,148.6) scale(0.8500,1)" font-size="8.7" text-anchor="end" stroke="#222" stroke-width="0.22">0</text>
<line x1="233.1" y1="128.38" x2="234.9" y2="128.38" stroke="#555" stroke-width="0.9"/>
<line x1="233.1" y1="119.46" x2="234.1" y2="119.46" stroke="#555" stroke-width="0.9"/>
<text transform="translate(230.4,130.78) scale(0.8500,1)" font-size="8.7" text-anchor="end" stroke="#222" stroke-width="0.22">4</text>
<line x1="233.1" y1="110.55" x2="234.9" y2="110.55" stroke="#555" stroke-width="0.9"/>
<line x1="233.1" y1="101.64" x2="234.1" y2="101.64" stroke="#555" stroke-width="0.9"/>
<text transform="translate(230.4,112.95) scale(0.8500,1)" font-size="8.7" text-anchor="end" stroke="#222" stroke-width="0.22">8</text>
<line x1="233.1" y1="92.72" x2="234.9" y2="92.72" stroke="#555" stroke-width="0.9"/>
<line x1="233.1" y1="83.81" x2="234.1" y2="83.81" stroke="#555" stroke-width="0.9"/>
<text transform="translate(230.4,95.12) scale(0.8500,1)" font-size="8.7" text-anchor="end" stroke="#222" stroke-width="0.22">12</text>
<line x1="233.1" y1="74.9" x2="234.9" y2="74.9" stroke="#555" stroke-width="0.9"/>
<line x1="233.1" y1="65.99" x2="234.1" y2="65.99" stroke="#555" stroke-width="0.9"/>
<text transform="translate(230.4,77.3) scale(0.8500,1)" font-size="8.7" text-anchor="end" stroke="#222" stroke-width="0.22">16</text>
<line x1="233.1" y1="57.07" x2="234.9" y2="57.07" stroke="#555" stroke-width="0.9"/>
<line x1="233.1" y1="48.16" x2="234.1" y2="48.16" stroke="#555" stroke-width="0.9"/>
<text transform="translate(230.4,59.47) scale(0.8500,1)" font-size="8.7" text-anchor="end" stroke="#222" stroke-width="0.22">20</text>
<line x1="233.1" y1="39.25" x2="234.9" y2="39.25" stroke="#555" stroke-width="0.9"/>
<line x1="233.1" y1="30.34" x2="234.1" y2="30.34" stroke="#555" stroke-width="0.9"/>
<text transform="translate(230.4,41.65) scale(0.8500,1)" font-size="8.7" text-anchor="end" stroke="#222" stroke-width="0.22">24</text>
<line x1="233.1" y1="21.42" x2="234.9" y2="21.42" stroke="#555" stroke-width="0.9"/>
<line x1="233.1" y1="12.51" x2="234.1" y2="12.51" stroke="#555" stroke-width="0.9"/>
<text transform="translate(230.4,23.82) scale(0.8500,1)" font-size="8.7" text-anchor="end" stroke="#222" stroke-width="0.22">28</text>
<line x1="233.1" y1="3.6" x2="234.9" y2="3.6" stroke="#555" stroke-width="0.9"/>
<text transform="translate(230.4,6) scale(0.8500,1)" font-size="8.7" text-anchor="end" stroke="#222" stroke-width="0.22">32</text>
<line x1="233.1" y1="146.2" x2="233.1" y2="144.4" stroke="#555" stroke-width="0.9"/>
<line x1="265.8" y1="146.2" x2="265.8" y2="144.4" stroke="#555" stroke-width="0.9"/>
<line x1="298.5" y1="146.2" x2="298.5" y2="144.4" stroke="#555" stroke-width="0.9"/>
<line x1="249.45" y1="146.2" x2="249.45" y2="145" stroke="#555" stroke-width="0.9"/>
<line x1="282.15" y1="146.2" x2="282.15" y2="145" stroke="#555" stroke-width="0.9"/>
<text transform="translate(233.1,155.8) scale(0.9699,1)" font-size="9.1" text-anchor="middle" stroke="#222" stroke-width="0.22">-0.5</text>
<text transform="translate(265.8,155.8) scale(0.9244,1)" font-size="9.1" text-anchor="middle" stroke="#222" stroke-width="0.22">0.0</text>
<text transform="translate(298.5,155.8) scale(0.9244,1)" font-size="9.1" text-anchor="middle" stroke="#222" stroke-width="0.22">0.5</text>
<text transform="translate(264,167.6) scale(0.9505,1)" font-size="9.2" text-anchor="middle" stroke="#222" stroke-width="0.22">&#916;&#955; (e<tspan font-size="6" dy="-3">&#8722;</tspan><tspan dy="3">/&#197;)</tspan></text>
<text transform="translate(219.3,75.4) rotate(-90) scale(0.9474,1)" font-size="9.2" text-anchor="middle" stroke="#222" stroke-width="0.22">Z-coordinate (&#197;)</text>
<text transform="translate(203,14.3)" font-size="16" fill="#2a1717" font-weight="bold">b</text>
<g><path d="M308.22 87.52L309.38 84.02M309.38 84.02L312.83 78.33M309.38 84.02L310.5 88.32M308.62 93.99L310.03 94.48M312.83 78.33L315.12 76.15M312.83 78.33L317.4 76.95M310.5 88.32L310.03 94.48M310.5 88.32L315.07 86.93M310.03 94.48L314.13 99.26M317.4 76.95L322.52 73.91M317.4 76.95L318.52 81.25M321.11 73.42L322.52 73.91M315.42 103.06L316.83 103.55M315.07 86.93L318.52 81.25M315.07 86.93L319.17 91.71M314.13 99.26L316.83 103.55M314.13 99.26L318.7 97.88M322.52 73.91L328.75 75.17M318.52 81.25L324.76 82.51M316.83 103.55L323.06 104.81M319.17 91.71L318.7 97.88M319.17 91.71L325.16 88.98M318.7 97.88L324.22 101.31M328.75 75.17L329.87 79.47M328.75 75.17L333.58 75.94M324.76 82.51L325.16 88.98M324.76 82.51L329.87 79.47M323.06 104.81L324.22 101.31M323.06 104.81L327.89 105.58M325.16 88.98L330.68 92.41M324.22 101.31L330.21 98.57M329.87 79.47L335.39 82.9M333.58 75.94L337.68 80.72M327.89 105.58L333.88 102.85M330.68 92.41L330.21 98.57M330.68 92.41L335.79 89.37M330.21 98.57L335.04 99.35M335.39 82.9L337.68 80.72M335.39 82.9L335.79 89.37M337.68 80.72L340.38 85.01M333.88 102.85L335.04 99.35M335.79 89.37L338.49 93.66M340.38 85.01L340.78 91.48M335.04 99.35L338.49 93.66M338.49 93.66L340.78 91.48" stroke="#121212" stroke-width="1.35" fill="none" opacity="1.0"/><path d="M308.22 87.52L310.51 85.34M308.22 87.52L308.62 93.99M310.51 85.34L313.96 79.65M310.51 85.34L313.21 89.63M313.96 79.65L315.12 76.15M313.96 79.65L318.79 80.43M308.62 93.99L311.32 98.28M313.21 89.63L313.61 96.1M313.21 89.63L318.32 86.59M315.12 76.15L321.11 73.42M311.32 98.28L313.61 96.1M311.32 98.28L315.42 103.06M313.61 96.1L319.13 99.53M318.79 80.43L318.32 86.59M318.79 80.43L324.78 77.69M318.32 86.59L323.84 90.02M321.11 73.42L325.94 74.19M315.42 103.06L320.25 103.83M319.13 99.53L324.24 96.49M319.13 99.53L320.25 103.83M324.78 77.69L325.94 74.19M324.78 77.69L330.3 81.12M323.84 90.02L324.24 96.49M323.84 90.02L329.83 87.29M325.94 74.19L332.17 75.45M324.24 96.49L330.48 97.75M320.25 103.83L326.48 105.09M330.3 81.12L329.83 87.29M330.3 81.12L334.87 79.74M329.83 87.29L333.93 92.07M332.17 75.45L334.87 79.74M332.17 75.45L333.58 75.94M330.48 97.75L333.93 92.07M330.48 97.75L331.6 102.05M326.48 105.09L327.89 105.58M326.48 105.09L331.6 102.05M334.87 79.74L338.97 84.52M333.93 92.07L338.5 90.68M331.6 102.05L336.17 100.67M338.97 84.52L338.5 90.68M338.97 84.52L340.38 85.01M338.5 90.68L339.62 94.98M333.88 102.85L336.17 100.67M336.17 100.67L339.62 94.98M339.62 94.98L340.78 91.48" stroke="#121212" stroke-width="1.35" fill="none"/><g fill="#121212"><circle cx="308.22" cy="87.52" r="1.45"/><circle cx="310.51" cy="85.34" r="1.45"/><circle cx="309.38" cy="84.02" r="1.45"/><circle cx="313.96" cy="79.65" r="1.45"/><circle cx="308.62" cy="93.99" r="1.45"/><circle cx="313.21" cy="89.63" r="1.45"/><circle cx="312.83" cy="78.33" r="1.45"/><circle cx="315.12" cy="76.15" r="1.45"/><circle cx="311.32" cy="98.28" r="1.45"/><circle cx="313.61" cy="96.1" r="1.45"/><circle cx="310.5" cy="88.32" r="1.45"/><circle cx="318.79" cy="80.43" r="1.45"/><circle cx="310.03" cy="94.48" r="1.45"/><circle cx="318.32" cy="86.59" r="1.45"/><circle cx="317.4" cy="76.95" r="1.45"/><circle cx="321.11" cy="73.42" r="1.45"/><circle cx="315.42" cy="103.06" r="1.45"/><circle cx="319.13" cy="99.53" r="1.45"/><circle cx="315.07" cy="86.93" r="1.45"/><circle cx="324.78" cy="77.69" r="1.45"/><circle cx="314.13" cy="99.26" r="1.45"/><circle cx="323.84" cy="90.02" r="1.45"/><circle cx="322.52" cy="73.91" r="1.45"/><circle cx="318.52" cy="81.25" r="1.45"/><circle cx="325.94" cy="74.19" r="1.45"/><circle cx="316.83" cy="103.55" r="1.45"/><circle cx="324.24" cy="96.49" r="1.45"/><circle cx="320.25" cy="103.83" r="1.45"/><circle cx="319.17" cy="91.71" r="1.45"/><circle cx="330.3" cy="81.12" r="1.45"/><circle cx="318.7" cy="97.88" r="1.45"/><circle cx="329.83" cy="87.29" r="1.45"/><circle cx="328.75" cy="75.17" r="1.45"/><circle cx="324.76" cy="82.51" r="1.45"/><circle cx="332.17" cy="75.45" r="1.45"/><circle cx="323.06" cy="104.81" r="1.45"/><circle cx="330.48" cy="97.75" r="1.45"/><circle cx="326.48" cy="105.09" r="1.45"/><circle cx="325.16" cy="88.98" r="1.45"/><circle cx="334.87" cy="79.74" r="1.45"/><circle cx="324.22" cy="101.31" r="1.45"/><circle cx="333.93" cy="92.07" r="1.45"/><circle cx="329.87" cy="79.47" r="1.45"/><circle cx="333.58" cy="75.94" r="1.45"/><circle cx="327.89" cy="105.58" r="1.45"/><circle cx="331.6" cy="102.05" r="1.45"/><circle cx="330.68" cy="92.41" r="1.45"/><circle cx="338.97" cy="84.52" r="1.45"/><circle cx="330.21" cy="98.57" r="1.45"/><circle cx="338.5" cy="90.68" r="1.45"/><circle cx="335.39" cy="82.9" r="1.45"/><circle cx="337.68" cy="80.72" r="1.45"/><circle cx="333.88" cy="102.85" r="1.45"/><circle cx="336.17" cy="100.67" r="1.45"/><circle cx="335.79" cy="89.37" r="1.45"/><circle cx="340.38" cy="85.01" r="1.45"/><circle cx="335.04" cy="99.35" r="1.45"/><circle cx="339.62" cy="94.98" r="1.45"/><circle cx="338.49" cy="93.66" r="1.45"/><circle cx="340.78" cy="91.48" r="1.45"/></g></g>
<g><path d="M365.06 85.96L365.33 89.09M365.02 96.57L365.31 95.65M368.49 80.34L372.2 77.84M365.33 89.09L365.31 95.65M365.33 89.09L369.04 86.6M365.31 95.65L369 99.71M372.2 77.84L377.74 75.3M372.2 77.84L372.48 80.97M372.12 105.62L372.41 104.69M369.04 86.6L372.48 80.97M369.04 86.6L372.73 90.66M369 99.71L372.41 104.69M369 99.71L372.71 97.21M377.74 75.3L383.56 75.88M372.48 80.97L378.29 81.55M372.41 104.69L378.22 105.28M372.73 90.66L372.71 97.21M372.73 90.66L378.45 87.54M372.71 97.21L378.41 100.65M383.56 75.88L383.83 79.01M383.56 75.88L389.08 77.38M378.29 81.55L378.45 87.54M378.29 81.55L383.83 79.01M378.22 105.28L378.41 100.65M378.22 105.28L383.75 106.78M383.46 107.7L383.75 106.78M378.45 87.54L384.15 90.98M378.41 100.65L384.13 97.54M383.83 79.01L389.53 82.45M389.08 77.38L392.77 81.44M383.75 106.78L389.46 103.67M384.15 90.98L384.13 97.54M384.15 90.98L389.69 88.44M384.13 97.54L389.65 99.04M389.53 82.45L392.77 81.44M389.53 82.45L389.69 88.44M392.77 81.44L396.18 86.43M389.46 103.67L392.71 102.66M389.46 103.67L389.65 99.04M392.71 102.66L396.14 97.04M389.69 88.44L393.09 93.42M396.18 86.43L396.33 92.41M389.65 99.04L393.09 93.42M396.14 97.04L396.33 92.41M393.09 93.42L396.33 92.41" stroke="#121212" stroke-width="1.35" fill="none" opacity="1.0"/><path d="M364.87 90.59L368.11 89.58M364.87 90.59L365.06 85.96M364.87 90.59L365.02 96.57M368.11 89.58L371.55 83.96M368.11 89.58L371.51 94.56M365.06 85.96L368.49 80.34M371.55 83.96L371.74 79.33M371.55 83.96L377.07 85.46M365.02 96.57L368.43 101.56M371.51 94.56L371.67 100.55M371.51 94.56L377.05 92.02M368.49 80.34L371.74 79.33M371.74 79.33L377.45 76.22M368.43 101.56L371.67 100.55M368.43 101.56L372.12 105.62M371.67 100.55L377.37 103.99M377.07 85.46L377.05 92.02M377.07 85.46L382.79 82.35M377.05 92.02L382.75 95.46M377.45 76.22L377.74 75.3M377.45 76.22L382.98 77.72M372.12 105.62L377.64 107.12M377.37 103.99L382.91 101.45M377.37 103.99L377.64 107.12M382.79 82.35L382.98 77.72M382.79 82.35L388.49 85.79M382.75 95.46L382.91 101.45M382.75 95.46L388.47 92.34M382.98 77.72L388.79 78.31M382.91 101.45L388.72 102.03M377.64 107.12L383.46 107.7M388.49 85.79L388.47 92.34M388.49 85.79L392.2 83.29M388.47 92.34L392.16 96.4M388.79 78.31L392.2 83.29M388.79 78.31L389.08 77.38M388.72 102.03L392.16 96.4M388.72 102.03L389 105.16M383.46 107.7L389 105.16M392.2 83.29L395.89 87.35M392.16 96.4L395.87 93.91M389 105.16L392.71 102.66M395.89 87.35L395.87 93.91M395.89 87.35L396.18 86.43M395.87 93.91L396.14 97.04" stroke="#121212" stroke-width="1.35" fill="none"/><g fill="#121212"><circle cx="364.87" cy="90.59" r="1.45"/><circle cx="368.11" cy="89.58" r="1.45"/><circle cx="365.06" cy="85.96" r="1.45"/><circle cx="371.55" cy="83.96" r="1.45"/><circle cx="365.02" cy="96.57" r="1.45"/><circle cx="371.51" cy="94.56" r="1.45"/><circle cx="368.49" cy="80.34" r="1.45"/><circle cx="371.74" cy="79.33" r="1.45"/><circle cx="368.43" cy="101.56" r="1.45"/><circle cx="371.67" cy="100.55" r="1.45"/><circle cx="365.33" cy="89.09" r="1.45"/><circle cx="377.07" cy="85.46" r="1.45"/><circle cx="365.31" cy="95.65" r="1.45"/><circle cx="377.05" cy="92.02" r="1.45"/><circle cx="372.2" cy="77.84" r="1.45"/><circle cx="377.45" cy="76.22" r="1.45"/><circle cx="372.12" cy="105.62" r="1.45"/><circle cx="377.37" cy="103.99" r="1.45"/><circle cx="369.04" cy="86.6" r="1.45"/><circle cx="382.79" cy="82.35" r="1.45"/><circle cx="369" cy="99.71" r="1.45"/><circle cx="382.75" cy="95.46" r="1.45"/><circle cx="377.74" cy="75.3" r="1.45"/><circle cx="372.48" cy="80.97" r="1.45"/><circle cx="382.98" cy="77.72" r="1.45"/><circle cx="372.41" cy="104.69" r="1.45"/><circle cx="382.91" cy="101.45" r="1.45"/><circle cx="377.64" cy="107.12" r="1.45"/><circle cx="372.73" cy="90.66" r="1.45"/><circle cx="388.49" cy="85.79" r="1.45"/><circle cx="372.71" cy="97.21" r="1.45"/><circle cx="388.47" cy="92.34" r="1.45"/><circle cx="383.56" cy="75.88" r="1.45"/><circle cx="378.29" cy="81.55" r="1.45"/><circle cx="388.79" cy="78.31" r="1.45"/><circle cx="378.22" cy="105.28" r="1.45"/><circle cx="388.72" cy="102.03" r="1.45"/><circle cx="383.46" cy="107.7" r="1.45"/><circle cx="378.45" cy="87.54" r="1.45"/><circle cx="392.2" cy="83.29" r="1.45"/><circle cx="378.41" cy="100.65" r="1.45"/><circle cx="392.16" cy="96.4" r="1.45"/><circle cx="383.83" cy="79.01" r="1.45"/><circle cx="389.08" cy="77.38" r="1.45"/><circle cx="383.75" cy="106.78" r="1.45"/><circle cx="389" cy="105.16" r="1.45"/><circle cx="384.15" cy="90.98" r="1.45"/><circle cx="395.89" cy="87.35" r="1.45"/><circle cx="384.13" cy="97.54" r="1.45"/><circle cx="395.87" cy="93.91" r="1.45"/><circle cx="389.53" cy="82.45" r="1.45"/><circle cx="392.77" cy="81.44" r="1.45"/><circle cx="389.46" cy="103.67" r="1.45"/><circle cx="392.71" cy="102.66" r="1.45"/><circle cx="389.69" cy="88.44" r="1.45"/><circle cx="396.18" cy="86.43" r="1.45"/><circle cx="389.65" cy="99.04" r="1.45"/><circle cx="396.14" cy="97.04" r="1.45"/><circle cx="393.09" cy="93.42" r="1.45"/><circle cx="396.33" cy="92.41" r="1.45"/></g></g>
<g><path d="M337.58 112.86L340.02 108.83M337.58 112.86L337.33 118.19M340.02 108.83L343.78 104.57M340.02 108.83L341.27 111.67M337.33 118.19L338.39 123.31M337.33 118.19L339.61 117.46M343.78 104.57L348.79 103.17M338.39 123.31L341.74 127.69M341.27 111.67L339.61 117.46M341.27 111.67L346.28 110.27M339.61 117.46L342.95 121.84M348.79 103.17L353.21 102.07M348.79 103.17L350.04 106.01M341.74 127.69L344.02 126.96M341.74 127.69L345.12 130.17M346.28 110.27L350.04 106.01M346.28 110.27L349.62 114.65M342.95 121.84L344.02 126.96M342.95 121.84L347.96 120.44M353.21 102.07L358.88 103.83M350.04 106.01L355.71 107.77M344.02 126.96L349.68 128.71M349.62 114.65L347.96 120.44M349.62 114.65L355.45 113.1M347.96 120.44L352.12 124.68M358.88 103.83L360.13 106.67M355.71 107.77L355.45 113.1M355.71 107.77L360.13 106.67M349.68 128.71L352.12 124.68M349.68 128.71L353.07 131.2M350.79 131.93L353.07 131.2M355.45 113.1L359.61 117.35M352.12 124.68L357.95 123.14M360.13 106.67L364.29 110.92M353.07 131.2L358.9 129.65M359.61 117.35L357.95 123.14M359.61 117.35L364.03 116.25M357.95 123.14L361.34 125.62M364.29 110.92L365.61 110.69M364.29 110.92L364.03 116.25M358.9 129.65L360.22 129.43M358.9 129.65L361.34 125.62M364.03 116.25L365.09 121.37M361.34 125.62L365.09 121.37M365.09 121.37L366.42 121.14" stroke="#a0a0a0" stroke-width="1.05" fill="none" opacity="0.9"/><path d="M337.58 112.86L338.91 112.63M338.91 112.63L342.66 108.38M338.91 112.63L339.97 117.75M342.66 108.38L345.1 104.35M342.66 108.38L346.05 110.86M339.97 117.75L339.71 123.08M339.97 117.75L344.39 116.65M343.78 104.57L345.1 104.35M345.1 104.35L350.93 102.8M338.39 123.31L339.71 123.08M339.71 123.08L343.87 127.33M346.05 110.86L344.39 116.65M346.05 110.86L351.88 109.32M344.39 116.65L348.55 120.9M350.93 102.8L353.21 102.07M350.93 102.8L354.32 105.29M343.87 127.33L348.29 126.23M343.87 127.33L345.12 130.17M351.88 109.32L354.32 105.29M351.88 109.32L356.04 113.56M348.55 120.9L348.29 126.23M348.55 120.9L354.38 119.35M354.32 105.29L359.98 107.04M348.29 126.23L353.96 127.99M345.12 130.17L350.79 131.93M356.04 113.56L354.38 119.35M356.04 113.56L361.05 112.16M354.38 119.35L357.72 123.73M358.88 103.83L362.26 106.31M359.98 107.04L361.05 112.16M359.98 107.04L362.26 106.31M353.96 127.99L357.72 123.73M353.96 127.99L355.21 130.83M350.79 131.93L355.21 130.83M361.05 112.16L364.39 116.54M357.72 123.73L362.73 122.33M362.26 106.31L365.61 110.69M355.21 130.83L360.22 129.43M364.39 116.54L362.73 122.33M364.39 116.54L366.67 115.81M362.73 122.33L363.98 125.17M365.61 110.69L366.67 115.81M360.22 129.43L363.98 125.17M366.67 115.81L366.42 121.14M363.98 125.17L366.42 121.14" stroke="#a0a0a0" stroke-width="1.05" fill="none"/><g fill="#a0a0a0"><circle cx="337.58" cy="112.86" r="1.0"/><circle cx="338.91" cy="112.63" r="1.0"/><circle cx="342.66" cy="108.38" r="1.0"/><circle cx="339.97" cy="117.75" r="1.0"/><circle cx="345.1" cy="104.35" r="1.0"/><circle cx="338.39" cy="123.31" r="1.0"/><circle cx="339.71" cy="123.08" r="1.0"/><circle cx="346.05" cy="110.86" r="1.0"/><circle cx="344.39" cy="116.65" r="1.0"/><circle cx="350.93" cy="102.8" r="1.0"/><circle cx="343.87" cy="127.33" r="1.0"/><circle cx="351.88" cy="109.32" r="1.0"/><circle cx="348.55" cy="120.9" r="1.0"/><circle cx="353.21" cy="102.07" r="1.0"/><circle cx="354.32" cy="105.29" r="1.0"/><circle cx="348.29" cy="126.23" r="1.0"/><circle cx="345.12" cy="130.17" r="1.0"/><circle cx="356.04" cy="113.56" r="1.0"/><circle cx="354.38" cy="119.35" r="1.0"/><circle cx="359.98" cy="107.04" r="1.0"/><circle cx="353.96" cy="127.99" r="1.0"/><circle cx="350.79" cy="131.93" r="1.0"/><circle cx="361.05" cy="112.16" r="1.0"/><circle cx="357.72" cy="123.73" r="1.0"/><circle cx="362.26" cy="106.31" r="1.0"/><circle cx="355.21" cy="130.83" r="1.0"/><circle cx="364.39" cy="116.54" r="1.0"/><circle cx="362.73" cy="122.33" r="1.0"/><circle cx="365.61" cy="110.69" r="1.0"/><circle cx="360.22" cy="129.43" r="1.0"/><circle cx="366.67" cy="115.81" r="1.0"/><circle cx="363.98" cy="125.17" r="1.0"/><circle cx="366.42" cy="121.14" r="1.0"/></g></g>
<polygon points="353.5,19.5 321,44 318,66 335,70 372,70 389,66 387,44" fill="#17705c"/>
<g fill="url(#tg2d)"><circle cx="341.6" cy="26.19" r="3.0"/><circle cx="349.74" cy="26.35" r="3.0"/><circle cx="357.69" cy="26.34" r="3.0"/><circle cx="365.12" cy="25.97" r="3.0"/><circle cx="333.85" cy="34.12" r="3.0"/><circle cx="341.82" cy="33.69" r="3.0"/><circle cx="349.48" cy="33.8" r="3.0"/><circle cx="357.54" cy="34.06" r="3.0"/><circle cx="365.11" cy="33.77" r="3.0"/><circle cx="373.32" cy="34.33" r="3.0"/><circle cx="325.71" cy="42.23" r="3.0"/><circle cx="333.74" cy="42.21" r="3.0"/><circle cx="341.59" cy="42.2" r="3.0"/><circle cx="349.1" cy="42.8" r="3.0"/><circle cx="357.27" cy="42.27" r="3.0"/><circle cx="365.89" cy="42.8" r="3.0"/><circle cx="373.33" cy="42.87" r="3.0"/><circle cx="381.53" cy="42.64" r="3.0"/><circle cx="325.26" cy="51.35" r="3.0"/><circle cx="333.65" cy="51.37" r="3.0"/><circle cx="341.81" cy="50.84" r="3.0"/><circle cx="349.39" cy="50.73" r="3.0"/><circle cx="357.22" cy="50.65" r="3.0"/><circle cx="365.34" cy="51.08" r="3.0"/><circle cx="373.1" cy="51.14" r="3.0"/><circle cx="381.37" cy="50.85" r="3.0"/><circle cx="325.75" cy="59.48" r="3.0"/><circle cx="333.35" cy="59.48" r="3.0"/><circle cx="341.66" cy="59.15" r="3.0"/><circle cx="349.88" cy="59.12" r="3.0"/><circle cx="357.7" cy="59.78" r="3.0"/><circle cx="365.11" cy="59.73" r="3.0"/><circle cx="373.39" cy="59.56" r="3.0"/><circle cx="381.11" cy="59.14" r="3.0"/><circle cx="325.24" cy="68.36" r="3.0"/><circle cx="333.26" cy="68.2" r="3.0"/><circle cx="341.84" cy="68.35" r="3.0"/><circle cx="349.38" cy="67.88" r="3.0"/><circle cx="357.52" cy="68.22" r="3.0"/><circle cx="365.19" cy="68.2" r="3.0"/><circle cx="373.74" cy="68.29" r="3.0"/><circle cx="381.13" cy="68.36" r="3.0"/><circle cx="333.17" cy="75.87" r="3.0"/><circle cx="341.59" cy="76.33" r="3.0"/><circle cx="349.37" cy="76.34" r="3.0"/><circle cx="357.54" cy="75.85" r="3.0"/><circle cx="365.35" cy="75.74" r="3.0"/><circle cx="373.16" cy="75.72" r="3.0"/><circle cx="341.65" cy="84.4" r="3.0"/><circle cx="349.23" cy="83.64" r="3.0"/><circle cx="357.89" cy="84.03" r="3.0"/><circle cx="365.42" cy="83.79" r="3.0"/></g>
<ellipse cx="376.54" cy="73.11" rx="1.75" ry="2.47" fill="#2c40c0"/><ellipse cx="375.44" cy="73.73" rx="1.72" ry="2.15" fill="#3246b6"/><ellipse cx="358.17" cy="73.45" rx="2.13" ry="1.28" fill="#2c40c0"/><ellipse cx="371.69" cy="85.13" rx="2.95" ry="2.47" fill="#3a55c8"/><ellipse cx="382.76" cy="69.94" rx="1.97" ry="1.81" fill="#2c40c0"/><ellipse cx="341.6" cy="73.48" rx="3.13" ry="2.02" fill="#3a55c8"/><ellipse cx="372.86" cy="79.84" rx="2.38" ry="1.91" fill="#b01a40"/><ellipse cx="382.21" cy="81.44" rx="2.68" ry="2.06" fill="#b01a40"/><ellipse cx="368.9" cy="83.91" rx="2.92" ry="1.54" fill="#b01a40"/><ellipse cx="360.91" cy="76.51" rx="2.49" ry="1.22" fill="#3246b6"/><ellipse cx="372.78" cy="77.97" rx="1.99" ry="1.85" fill="#2c40c0"/><ellipse cx="381.46" cy="75.52" rx="2.75" ry="2.28" fill="#b01a40"/><ellipse cx="336.14" cy="83.56" rx="2.26" ry="1.67" fill="#8e1234"/><ellipse cx="324.57" cy="86.8" rx="2.92" ry="2.42" fill="#3246b6"/><ellipse cx="384.89" cy="75.13" rx="2.21" ry="2" fill="#8e1234"/><ellipse cx="354.53" cy="67.05" rx="2.01" ry="1.92" fill="#2c40c0"/><ellipse cx="346.66" cy="75.64" rx="2.25" ry="2.05" fill="#3a55c8"/><ellipse cx="332.92" cy="75.24" rx="3.18" ry="2.47" fill="#a8163c"/><ellipse cx="326.5" cy="79.88" rx="2.32" ry="1.91" fill="#3246b6"/><ellipse cx="372.48" cy="73.63" rx="2.5" ry="1.51" fill="#a8163c"/><ellipse cx="338.02" cy="77.75" rx="3.12" ry="2.31" fill="#2c40c0"/><ellipse cx="360.04" cy="63.12" rx="2.54" ry="1.32" fill="#3a55c8"/><ellipse cx="370.22" cy="74.49" rx="2.89" ry="1.74" fill="#b01a40"/><ellipse cx="358.55" cy="77.47" rx="2.29" ry="1.4" fill="#b01a40"/><ellipse cx="370.7" cy="78.48" rx="2.53" ry="1.66" fill="#3246b6"/><ellipse cx="338.03" cy="77.02" rx="2.42" ry="1.62" fill="#3a55c8"/><ellipse cx="356.06" cy="76.24" rx="2.23" ry="1.49" fill="#2c40c0"/><ellipse cx="337.81" cy="77.16" rx="2.51" ry="1.54" fill="#3246b6"/><ellipse cx="353.88" cy="69.98" rx="2.34" ry="1.57" fill="#b01a40"/><ellipse cx="376.22" cy="83.03" rx="1.92" ry="1.25" fill="#2c40c0"/><ellipse cx="337.83" cy="73.54" rx="1.97" ry="2.42" fill="#3a55c8"/><ellipse cx="345.86" cy="75.86" rx="2.93" ry="2.14" fill="#b01a40"/><ellipse cx="317.38" cy="78.76" rx="2.6" ry="1.99" fill="#3a55c8"/><ellipse cx="380.23" cy="83.72" rx="1.98" ry="2.12" fill="#b01a40"/><ellipse cx="373.86" cy="76.85" rx="2.11" ry="2.17" fill="#b01a40"/><ellipse cx="377.71" cy="78.87" rx="2.67" ry="1.34" fill="#2c40c0"/><ellipse cx="375.91" cy="82.94" rx="2.51" ry="2.1" fill="#2c40c0"/><ellipse cx="358.76" cy="77.84" rx="2.17" ry="2.31" fill="#2c40c0"/><ellipse cx="325.56" cy="75.29" rx="2.02" ry="1.2" fill="#a8163c"/><ellipse cx="356.63" cy="80.21" rx="2.83" ry="2.38" fill="#8e1234"/><ellipse cx="326.75" cy="78.85" rx="3.15" ry="1.9" fill="#2c40c0"/><ellipse cx="372.48" cy="77.59" rx="1.89" ry="2.27" fill="#8e1234"/><ellipse cx="359.24" cy="79.32" rx="3.2" ry="2.11" fill="#a8163c"/><ellipse cx="334.28" cy="79.92" rx="2.9" ry="1.34" fill="#8e1234"/><ellipse cx="369.81" cy="70.64" rx="3.06" ry="1.39" fill="#8e1234"/><ellipse cx="371.46" cy="79.53" rx="1.86" ry="1.92" fill="#3a55c8"/><ellipse cx="373.89" cy="73.95" rx="2.48" ry="2.17" fill="#3a55c8"/><ellipse cx="342.3" cy="69.84" rx="2.33" ry="1.66" fill="#3a55c8"/><ellipse cx="375.81" cy="80.35" rx="1.76" ry="2.02" fill="#b01a40"/><ellipse cx="372.61" cy="83.38" rx="1.88" ry="1.28" fill="#3a55c8"/><ellipse cx="329.61" cy="80.02" rx="2.87" ry="2.32" fill="#3246b6"/><ellipse cx="370.46" cy="75.97" rx="2.61" ry="1.31" fill="#a8163c"/><ellipse cx="375.7" cy="80.17" rx="2.27" ry="1.71" fill="#3a55c8"/><ellipse cx="375.4" cy="80.32" rx="1.55" ry="2.14" fill="#3a55c8"/><ellipse cx="332.45" cy="85.19" rx="2.85" ry="2.17" fill="#8e1234"/><ellipse cx="343.01" cy="82.94" rx="1.74" ry="2.01" fill="#3246b6"/><ellipse cx="329.93" cy="78.42" rx="2.7" ry="2.23" fill="#3a55c8"/><ellipse cx="337.48" cy="77.2" rx="2.87" ry="1.76" fill="#b01a40"/><ellipse cx="354.56" cy="69.29" rx="3.19" ry="1.48" fill="#3a55c8"/><ellipse cx="334.27" cy="78.53" rx="1.84" ry="1.25" fill="#3246b6"/><ellipse cx="353.39" cy="73.01" rx="2.01" ry="2.41" fill="#2c40c0"/><ellipse cx="348.34" cy="72.88" rx="1.67" ry="1.4" fill="#2c40c0"/><ellipse cx="329.52" cy="81.5" rx="1.76" ry="1.53" fill="#2c40c0"/><ellipse cx="335.17" cy="81.49" rx="1.56" ry="2.37" fill="#3246b6"/><ellipse cx="333.05" cy="73.64" rx="2.67" ry="2.08" fill="#a8163c"/><ellipse cx="376.36" cy="77.16" rx="2.05" ry="1.79" fill="#8e1234"/><ellipse cx="334.3" cy="77.95" rx="1.54" ry="1.5" fill="#8e1234"/><ellipse cx="322.04" cy="85.85" rx="2.66" ry="1.44" fill="#b01a40"/><ellipse cx="347.51" cy="84.49" rx="1.78" ry="1.51" fill="#2c40c0"/><ellipse cx="380.71" cy="75.37" rx="2.73" ry="1.55" fill="#2c40c0"/><ellipse cx="366.77" cy="80.2" rx="1.58" ry="1.91" fill="#3246b6"/><ellipse cx="354.61" cy="71.96" rx="1.9" ry="2.24" fill="#a8163c"/><ellipse cx="334.8" cy="70.55" rx="1.59" ry="1.72" fill="#8e1234"/><ellipse cx="334.36" cy="77.83" rx="2.59" ry="2.34" fill="#b01a40"/><ellipse cx="344.22" cy="77.09" rx="2.36" ry="1.72" fill="#8e1234"/><ellipse cx="377.74" cy="80.19" rx="1.65" ry="2.48" fill="#a8163c"/><ellipse cx="340.2" cy="81.69" rx="1.53" ry="1.9" fill="#3a55c8"/><ellipse cx="369.62" cy="75.89" rx="1.73" ry="1.22" fill="#8e1234"/><ellipse cx="370.03" cy="68.24" rx="2.44" ry="1.38" fill="#3246b6"/><ellipse cx="374.73" cy="74.16" rx="2.03" ry="1.37" fill="#2c40c0"/><ellipse cx="333.07" cy="80.1" rx="3.15" ry="2.07" fill="#2c40c0"/><ellipse cx="329.22" cy="78.17" rx="1.84" ry="1.57" fill="#8e1234"/><ellipse cx="337.25" cy="81.03" rx="2.15" ry="2.2" fill="#b01a40"/><ellipse cx="330.34" cy="89.57" rx="2.48" ry="1.77" fill="#3246b6"/><ellipse cx="358.97" cy="79.2" rx="2.23" ry="1.34" fill="#8e1234"/><ellipse cx="355.98" cy="71.19" rx="1.61" ry="1.42" fill="#b01a40"/><ellipse cx="331.16" cy="74.34" rx="2.42" ry="2.16" fill="#a8163c"/><ellipse cx="342.54" cy="87.14" rx="2.24" ry="1.54" fill="#b01a40"/><ellipse cx="338.53" cy="70.96" rx="2.06" ry="1.22" fill="#3246b6"/><ellipse cx="373.56" cy="81.74" rx="1.96" ry="1.99" fill="#a8163c"/><ellipse cx="366.87" cy="83.25" rx="2.85" ry="1.35" fill="#2c40c0"/><ellipse cx="339.69" cy="82.78" rx="1.79" ry="1.26" fill="#2c40c0"/><ellipse cx="371.17" cy="81.02" rx="2.51" ry="1.33" fill="#2c40c0"/><ellipse cx="351.42" cy="76.83" rx="1.85" ry="1.2" fill="#a8163c"/><ellipse cx="345.55" cy="71.96" rx="1.87" ry="1.56" fill="#2c40c0"/><ellipse cx="328.51" cy="73.66" rx="2.12" ry="2.25" fill="#3246b6"/><ellipse cx="359.22" cy="71.56" rx="2.55" ry="1.72" fill="#a8163c"/><ellipse cx="335.85" cy="72.94" rx="1.66" ry="1.72" fill="#a8163c"/><ellipse cx="371.79" cy="89.04" rx="2.31" ry="1.81" fill="#b01a40"/><ellipse cx="376.8" cy="79.8" rx="1.52" ry="1.87" fill="#8e1234"/><ellipse cx="375.98" cy="82.55" rx="2.65" ry="1.99" fill="#b01a40"/><ellipse cx="367.72" cy="77.95" rx="2.18" ry="2.48" fill="#8e1234"/><ellipse cx="367.56" cy="70.9" rx="1.75" ry="1.74" fill="#3a55c8"/><ellipse cx="338.65" cy="67.42" rx="1.85" ry="1.57" fill="#3a55c8"/><ellipse cx="334.02" cy="71.21" rx="2.2" ry="2.46" fill="#8e1234"/><ellipse cx="336.3" cy="76.43" rx="2.78" ry="2.07" fill="#a8163c"/><ellipse cx="366.71" cy="70.09" rx="2.53" ry="1.93" fill="#8e1234"/><ellipse cx="365.18" cy="80.13" rx="3.16" ry="1.91" fill="#b01a40"/><ellipse cx="375.39" cy="82.97" rx="2.78" ry="1.89" fill="#3246b6"/><ellipse cx="333.09" cy="76.06" rx="1.69" ry="2.1" fill="#b01a40"/><ellipse cx="370.05" cy="76.95" rx="1.86" ry="1.6" fill="#a8163c"/><ellipse cx="328.28" cy="70.32" rx="1.63" ry="1.74" fill="#3246b6"/><ellipse cx="325.59" cy="74.38" rx="2.91" ry="2.34" fill="#8e1234"/><ellipse cx="368.61" cy="73.44" rx="2.51" ry="1.52" fill="#3a55c8"/><ellipse cx="376.63" cy="87.05" rx="1.82" ry="1.24" fill="#b01a40"/><ellipse cx="338.31" cy="71.72" rx="2.24" ry="1.62" fill="#3246b6"/><ellipse cx="330.39" cy="79.02" rx="1.6" ry="1.83" fill="#a8163c"/><ellipse cx="368.63" cy="69.51" rx="1.82" ry="1.81" fill="#b01a40"/><ellipse cx="382.63" cy="71.88" rx="2.93" ry="1.82" fill="#3a55c8"/><ellipse cx="334.01" cy="80.74" rx="2.07" ry="1.68" fill="#a8163c"/><ellipse cx="356.4" cy="69.71" rx="2.71" ry="2.4" fill="#3246b6"/><ellipse cx="358" cy="74.28" rx="2.12" ry="2.26" fill="#a8163c"/><ellipse cx="331.62" cy="80.75" rx="3.18" ry="2.19" fill="#8e1234"/><ellipse cx="338.23" cy="75.98" rx="1.7" ry="1.98" fill="#a8163c"/><ellipse cx="330.63" cy="72.65" rx="3.11" ry="1.29" fill="#b01a40"/><ellipse cx="373.25" cy="73.88" rx="2.88" ry="2.5" fill="#a8163c"/><ellipse cx="375.54" cy="82.32" rx="1.99" ry="1.85" fill="#3246b6"/><ellipse cx="375.59" cy="71.65" rx="2.19" ry="2.43" fill="#b01a40"/><ellipse cx="329.79" cy="79.45" rx="1.96" ry="2.14" fill="#3246b6"/><ellipse cx="339.22" cy="76.71" rx="3.17" ry="1.9" fill="#2c40c0"/><ellipse cx="376.01" cy="77.11" rx="1.72" ry="1.31" fill="#b01a40"/><ellipse cx="342.51" cy="73.31" rx="2.28" ry="1.7" fill="#3a55c8"/><ellipse cx="373.04" cy="81.32" rx="1.52" ry="1.87" fill="#2c40c0"/><ellipse cx="357.15" cy="73.92" rx="2.3" ry="1.23" fill="#8e1234"/><ellipse cx="333.77" cy="72.16" rx="3.1" ry="2.06" fill="#3a55c8"/><ellipse cx="371.02" cy="76.19" rx="2.81" ry="1.74" fill="#2c40c0"/><ellipse cx="364.42" cy="76.36" rx="3.02" ry="1.39" fill="#3246b6"/><ellipse cx="351.51" cy="71.02" rx="3.19" ry="1.48" fill="#a8163c"/><ellipse cx="373.26" cy="83.58" rx="1.5" ry="2.02" fill="#b01a40"/><ellipse cx="362.26" cy="78.4" rx="3.03" ry="2.35" fill="#a8163c"/><ellipse cx="336.54" cy="87.32" rx="2.52" ry="1.38" fill="#b01a40"/><ellipse cx="334.09" cy="88.33" rx="1.52" ry="2.26" fill="#a8163c"/><ellipse cx="327.34" cy="82.94" rx="2.82" ry="1.4" fill="#b01a40"/><ellipse cx="379.35" cy="85.68" rx="1.98" ry="1.34" fill="#a8163c"/><ellipse cx="372.78" cy="74.4" rx="2.49" ry="2.46" fill="#3a55c8"/><ellipse cx="343.27" cy="74.45" rx="1.52" ry="1.7" fill="#3a55c8"/><ellipse cx="331.37" cy="77.14" rx="2.81" ry="1.74" fill="#a8163c"/><ellipse cx="372.54" cy="71.18" rx="2.87" ry="1.51" fill="#a8163c"/><ellipse cx="368.32" cy="84.46" rx="2.01" ry="1.79" fill="#3a55c8"/><ellipse cx="368.24" cy="82.28" rx="1.97" ry="1.96" fill="#3a55c8"/><ellipse cx="371.81" cy="74.24" rx="2.5" ry="2.09" fill="#3246b6"/><ellipse cx="377.09" cy="81.25" rx="2.16" ry="2.4" fill="#3a55c8"/><ellipse cx="334.17" cy="69.08" rx="2.28" ry="1.28" fill="#3246b6"/><ellipse cx="330" cy="72.06" rx="1.6" ry="1.31" fill="#a8163c"/><ellipse cx="330.44" cy="86.1" rx="2.89" ry="1.83" fill="#b01a40"/><ellipse cx="343.28" cy="80.7" rx="2.56" ry="1.71" fill="#a8163c"/><ellipse cx="376.68" cy="78.11" rx="3.06" ry="2.29" fill="#2c40c0"/><ellipse cx="377.91" cy="68.13" rx="2.45" ry="1.21" fill="#b01a40"/><ellipse cx="328.68" cy="80.62" rx="1.57" ry="1.97" fill="#8e1234"/><ellipse cx="327.78" cy="76.76" rx="2.48" ry="1.9" fill="#3a55c8"/><ellipse cx="367.24" cy="75.81" rx="1.66" ry="1.29" fill="#3a55c8"/><ellipse cx="366.34" cy="71.74" rx="2.93" ry="2.44" fill="#8e1234"/><ellipse cx="365.51" cy="77.25" rx="1.94" ry="1.59" fill="#b01a40"/><ellipse cx="338.04" cy="78.31" rx="2.29" ry="1.4" fill="#2c40c0"/><ellipse cx="326.99" cy="76.98" rx="2.28" ry="1.4" fill="#3246b6"/><ellipse cx="358.48" cy="82.65" rx="2.56" ry="2.05" fill="#2c40c0"/><ellipse cx="336.74" cy="82.45" rx="2.35" ry="2.42" fill="#8e1234"/><ellipse cx="338.3" cy="78.57" rx="2.34" ry="1.9" fill="#3a55c8"/><ellipse cx="355.77" cy="70.82" rx="2.92" ry="1.58" fill="#b01a40"/><ellipse cx="328.55" cy="77.73" rx="1.95" ry="2.02" fill="#3a55c8"/><ellipse cx="378.7" cy="80.39" rx="2.07" ry="1.33" fill="#a8163c"/><ellipse cx="373.32" cy="81.69" rx="2.82" ry="1.91" fill="#a8163c"/><ellipse cx="327.52" cy="73.68" rx="2.19" ry="1.63" fill="#a8163c"/><ellipse cx="340.34" cy="85.3" rx="3.2" ry="1.73" fill="#2c40c0"/><ellipse cx="336.13" cy="79.29" rx="2.84" ry="2.37" fill="#a8163c"/><ellipse cx="374.59" cy="82.11" rx="2.22" ry="2.42" fill="#3246b6"/><ellipse cx="377.16" cy="73.61" rx="3.09" ry="2.43" fill="#b01a40"/><ellipse cx="367.84" cy="84.83" rx="2.55" ry="1.32" fill="#a8163c"/><ellipse cx="379.15" cy="75.48" rx="1.96" ry="1.92" fill="#a8163c"/><ellipse cx="351.69" cy="69.65" rx="3" ry="2.48" fill="#3246b6"/><ellipse cx="331.25" cy="75.37" rx="2.05" ry="2.25" fill="#3246b6"/><ellipse cx="375.06" cy="79.28" rx="2.29" ry="1.78" fill="#8e1234"/><ellipse cx="356.37" cy="69.73" rx="2.57" ry="1.79" fill="#8e1234"/><ellipse cx="374" cy="77.43" rx="1.84" ry="2.1" fill="#3a55c8"/><ellipse cx="371.8" cy="91.84" rx="1.92" ry="2.04" fill="#3246b6"/><ellipse cx="384.41" cy="77.75" rx="1.78" ry="2.11" fill="#8e1234"/><ellipse cx="338.58" cy="74.67" rx="2.69" ry="1.91" fill="#b01a40"/><ellipse cx="372.16" cy="78.29" rx="2.51" ry="2.03" fill="#3a55c8"/><ellipse cx="375.06" cy="85.87" rx="2.53" ry="1.28" fill="#b01a40"/><ellipse cx="325" cy="73.87" rx="3.16" ry="1.37" fill="#b01a40"/><ellipse cx="373.37" cy="78.36" rx="2.33" ry="1.41" fill="#a8163c"/><ellipse cx="351.36" cy="66.55" rx="2.22" ry="2.29" fill="#b01a40"/><ellipse cx="369.66" cy="84.85" rx="2.06" ry="2.1" fill="#3a55c8"/><ellipse cx="338.45" cy="67.85" rx="2.84" ry="2.2" fill="#3a55c8"/><ellipse cx="339.38" cy="70.3" rx="1.5" ry="2.46" fill="#3a55c8"/><ellipse cx="375.49" cy="80.67" rx="1.9" ry="2.28" fill="#3a55c8"/><ellipse cx="368.61" cy="82.76" rx="2.6" ry="2.4" fill="#3246b6"/><ellipse cx="333.16" cy="79.85" rx="2.13" ry="1.96" fill="#3a55c8"/><ellipse cx="338.31" cy="81.55" rx="2.79" ry="1.78" fill="#3a55c8"/><ellipse cx="377.6" cy="79.46" rx="1.75" ry="1.27" fill="#a8163c"/><ellipse cx="333.24" cy="75.64" rx="3.01" ry="2.37" fill="#2c40c0"/><ellipse cx="373.52" cy="79.91" rx="2.8" ry="2.01" fill="#8e1234"/><ellipse cx="357.65" cy="71.35" rx="1.85" ry="2.05" fill="#3a55c8"/><ellipse cx="364.47" cy="64.86" rx="2.08" ry="1.33" fill="#8e1234"/><ellipse cx="332.8" cy="80.99" rx="1.56" ry="1.28" fill="#a8163c"/><ellipse cx="334.87" cy="81.45" rx="3.02" ry="2.1" fill="#a8163c"/><ellipse cx="329.4" cy="73.52" rx="3.13" ry="1.56" fill="#2c40c0"/><ellipse cx="377.15" cy="80.3" rx="1.95" ry="1.32" fill="#8e1234"/><ellipse cx="340.27" cy="69.91" rx="3.03" ry="1.93" fill="#8e1234"/><ellipse cx="361.52" cy="76.42" rx="1.82" ry="1.63" fill="#8e1234"/><ellipse cx="329.45" cy="70.21" rx="2.9" ry="2.46" fill="#3246b6"/><ellipse cx="327.74" cy="72.17" rx="2.12" ry="1.39" fill="#2c40c0"/><ellipse cx="335.84" cy="78.12" rx="3.11" ry="2.17" fill="#2c40c0"/><ellipse cx="364.81" cy="79.96" rx="2.73" ry="2.35" fill="#b01a40"/><ellipse cx="363.97" cy="89.01" rx="2.52" ry="2.18" fill="#8e1234"/><ellipse cx="375.8" cy="72.83" rx="2.53" ry="1.9" fill="#b01a40"/><ellipse cx="328.18" cy="80.4" rx="1.89" ry="1.58" fill="#a8163c"/><ellipse cx="340.27" cy="70.26" rx="2.61" ry="1.61" fill="#8e1234"/><ellipse cx="332.19" cy="76.59" rx="2.96" ry="2.21" fill="#b01a40"/><ellipse cx="335.75" cy="76.87" rx="3.01" ry="2.19" fill="#3a55c8"/><ellipse cx="359.81" cy="71.15" rx="1.57" ry="1.87" fill="#a8163c"/><ellipse cx="371.32" cy="79" rx="2.55" ry="1.94" fill="#b01a40"/><ellipse cx="354.53" cy="78.53" rx="2.01" ry="2.41" fill="#3a55c8"/><ellipse cx="326.58" cy="81.79" rx="1.65" ry="1.65" fill="#2c40c0"/><ellipse cx="335.61" cy="75.69" rx="2.91" ry="1.85" fill="#a8163c"/><ellipse cx="327.94" cy="85.58" rx="2.51" ry="2.36" fill="#a8163c"/><ellipse cx="331.34" cy="67.84" rx="2.09" ry="1.86" fill="#3a55c8"/><ellipse cx="356.23" cy="75.09" rx="2.2" ry="1.46" fill="#2c40c0"/><ellipse cx="376.36" cy="76.97" rx="2.25" ry="2.34" fill="#a8163c"/><ellipse cx="328.5" cy="83.09" rx="1.68" ry="1.21" fill="#3a55c8"/><ellipse cx="348" cy="94" rx="2.5" ry="1.8" fill="#3550c4"/><ellipse cx="356" cy="94.5" rx="2.5" ry="1.8" fill="#3550c4"/><ellipse cx="347" cy="99" rx="2.5" ry="1.8" fill="#3550c4"/><ellipse cx="355" cy="99.5" rx="2.5" ry="1.8" fill="#3550c4"/><ellipse cx="351" cy="104" rx="2.5" ry="1.8" fill="#3550c4"/>
<g fill="url(#tg2)"><circle cx="345.29" cy="21.88" r="2.95"/><circle cx="353.54" cy="22.05" r="2.95"/><circle cx="361.62" cy="21.73" r="2.95"/><circle cx="337.75" cy="29.88" r="2.95"/><circle cx="345.38" cy="29.96" r="2.95"/><circle cx="353.34" cy="29.96" r="2.95"/><circle cx="361.38" cy="30.12" r="2.95"/><circle cx="369.52" cy="30.3" r="2.95"/><circle cx="329.54" cy="37.94" r="2.95"/><circle cx="337.48" cy="37.98" r="2.95"/><circle cx="345.22" cy="37.92" r="2.95"/><circle cx="353.8" cy="38.21" r="2.95"/><circle cx="361.25" cy="37.96" r="2.95"/><circle cx="369.36" cy="38.25" r="2.95"/><circle cx="377.4" cy="38.08" r="2.95"/><circle cx="321.27" cy="46.44" r="2.95"/><circle cx="329.47" cy="46.36" r="2.95"/><circle cx="337.29" cy="46.68" r="2.95"/><circle cx="345.53" cy="46.41" r="2.95"/><circle cx="353.31" cy="46.79" r="2.95"/><circle cx="361.21" cy="46.61" r="2.95"/><circle cx="369.39" cy="46.32" r="2.95"/><circle cx="377.29" cy="46.75" r="2.95"/><circle cx="385.51" cy="46.27" r="2.95"/><circle cx="321.43" cy="54.82" r="2.95"/><circle cx="329.32" cy="54.94" r="2.95"/><circle cx="337.61" cy="55.23" r="2.95"/><circle cx="345.6" cy="54.72" r="2.95"/><circle cx="353.27" cy="55.03" r="2.95"/><circle cx="361.26" cy="54.9" r="2.95"/><circle cx="369.41" cy="55.21" r="2.95"/><circle cx="377.21" cy="54.82" r="2.95"/><circle cx="385.22" cy="54.99" r="2.95"/><circle cx="321.32" cy="63.75" r="2.95"/><circle cx="329.8" cy="63.4" r="2.95"/><circle cx="337.39" cy="63.42" r="2.95"/><circle cx="345.21" cy="63.62" r="2.95"/><circle cx="353.66" cy="63.27" r="2.95"/><circle cx="361.62" cy="63.27" r="2.95"/><circle cx="369.74" cy="63.58" r="2.95"/><circle cx="377.66" cy="63.74" r="2.95"/><circle cx="385.55" cy="63.75" r="2.95"/></g>
<g fill="url(#tg2)"><circle cx="337.32" cy="71.8" r="2.7"/><circle cx="345.39" cy="72.33" r="2.7"/><circle cx="353.27" cy="71.87" r="2.7"/><circle cx="361.19" cy="72.56" r="2.7"/><circle cx="369.91" cy="72.32" r="2.7"/><circle cx="341.46" cy="79.68" r="2.7"/><circle cx="348.97" cy="80.3" r="2.7"/><circle cx="357.81" cy="80.53" r="2.7"/><circle cx="365.16" cy="80.2" r="2.7"/><circle cx="345.02" cy="87.98" r="2.7"/><circle cx="353.73" cy="87.4" r="2.7"/><circle cx="361.08" cy="88.29" r="2.7"/></g>
<text transform="translate(390.4,67.7) scale(0.9296,1)" font-size="12.6" fill="#2a1f1f" stroke="#2a1f1f" stroke-width="0.22">2.41 e<tspan font-size="7.5" dy="-4.8">&#8722;</tspan></text>
<text transform="translate(427.3,47.8) scale(0.9513,1)" font-size="12.0" fill="#2a1f1f" stroke="#2a1f1f" stroke-width="0.22">Pd<tspan font-size="7.5" dy="-5.5">&#948;+</tspan></text>
<text transform="translate(427.3,95.5) scale(0.9031,1)" font-size="12.0" fill="#2a1f1f" stroke="#2a1f1f" stroke-width="0.22">C<tspan font-size="7.5" dy="3.8">60</tspan><tspan font-size="7.5" dx="-0.5" dy="-7.6">&#948;&#8722;</tspan></text>
<line x1="435.5" y1="53.4" x2="435.5" y2="76" stroke="#2a1f1f" stroke-width="1.3"/>
<polygon points="435.5,83.6 431.5,74 439.5,74" fill="#2a1f1f"/>
<polygon points="497.7,37.6 577.9,37.6 577.9,147.2 497.7,147.2" fill="#dcdcdc"/>
<polygon points="577.9,37.58 630.4,97.8 630.4,147.2 577.9,147.2" fill="#ecd2d4"/>
<polygon points="630.4,97.8 655.66,147.2 630.4,147.2" fill="#cddcea"/>
<line x1="497.7" y1="37.6" x2="675.3" y2="37.6" stroke="#333" stroke-width="1.1"/>
<line x1="577.9" y1="4.6" x2="577.9" y2="147.2" stroke="#68a07f" stroke-width="1.45"/>
<line x1="630.4" y1="4.6" x2="630.4" y2="147.2" stroke="#68a07f" stroke-width="1.45"/>
<line x1="549.14" y1="4.6" x2="673.47" y2="147.2" stroke="#d0476a" stroke-width="1.05"/>
<line x1="582.75" y1="4.6" x2="655.66" y2="147.2" stroke="#34477f" stroke-width="1.05"/>
<rect x="497.7" y="4.6" width="177.6" height="142.6" fill="none" stroke="#333" stroke-width="1.1"/>
<line x1="675.3" y1="4.1" x2="675.3" y2="147.7" stroke="#7a7a7a" stroke-width="1.2"/>
<line x1="519.9" y1="147.2" x2="519.9" y2="144.2" stroke="#333" stroke-width="1.0"/>
<line x1="564.3" y1="147.2" x2="564.3" y2="144.2" stroke="#333" stroke-width="1.0"/>
<line x1="608.7" y1="147.2" x2="608.7" y2="144.2" stroke="#333" stroke-width="1.0"/>
<line x1="653.1" y1="147.2" x2="653.1" y2="144.2" stroke="#333" stroke-width="1.0"/>
<line x1="542.1" y1="147.2" x2="542.1" y2="145.6" stroke="#333" stroke-width="1.0"/>
<line x1="586.5" y1="147.2" x2="586.5" y2="145.6" stroke="#333" stroke-width="1.0"/>
<line x1="630.9" y1="147.2" x2="630.9" y2="145.6" stroke="#333" stroke-width="1.0"/>
<line x1="497.7" y1="10.2" x2="500.7" y2="10.2" stroke="#333" stroke-width="1.0"/>
<line x1="497.7" y1="37.6" x2="500.7" y2="37.6" stroke="#333" stroke-width="1.0"/>
<line x1="497.7" y1="65" x2="500.7" y2="65" stroke="#333" stroke-width="1.0"/>
<line x1="497.7" y1="92.4" x2="500.7" y2="92.4" stroke="#333" stroke-width="1.0"/>
<line x1="497.7" y1="119.8" x2="500.7" y2="119.8" stroke="#333" stroke-width="1.0"/>
<line x1="497.7" y1="23.9" x2="499.3" y2="23.9" stroke="#333" stroke-width="1.0"/>
<line x1="497.7" y1="51.3" x2="499.3" y2="51.3" stroke="#333" stroke-width="1.0"/>
<line x1="497.7" y1="78.7" x2="499.3" y2="78.7" stroke="#333" stroke-width="1.0"/>
<line x1="497.7" y1="106.1" x2="499.3" y2="106.1" stroke="#333" stroke-width="1.0"/>
<line x1="497.7" y1="133.5" x2="499.3" y2="133.5" stroke="#333" stroke-width="1.0"/>
<text transform="translate(519.9,158.6) scale(0.8500,1)" font-size="11.2" text-anchor="middle" stroke="#222" stroke-width="0.22">0.4</text>
<text transform="translate(564.3,158.6) scale(0.8500,1)" font-size="11.2" text-anchor="middle" stroke="#222" stroke-width="0.22">0.0</text>
<text transform="translate(608.7,158.6) scale(0.8500,1)" font-size="11.2" text-anchor="middle" stroke="#222" stroke-width="0.22">-0.4</text>
<text transform="translate(653.1,158.6) scale(0.8500,1)" font-size="11.2" text-anchor="middle" stroke="#222" stroke-width="0.22">-0.8</text>
<text transform="translate(494.4,13.1) scale(0.8500,1)" font-size="11.2" text-anchor="end" stroke="#222" stroke-width="0.22">25</text>
<text transform="translate(494.4,40.5) scale(0.8500,1)" font-size="11.2" text-anchor="end" stroke="#222" stroke-width="0.22">0</text>
<text transform="translate(494.4,67.9) scale(0.8500,1)" font-size="11.2" text-anchor="end" stroke="#222" stroke-width="0.22">-25</text>
<text transform="translate(494.4,95.3) scale(0.8500,1)" font-size="11.2" text-anchor="end" stroke="#222" stroke-width="0.22">-50</text>
<text transform="translate(494.4,122.7) scale(0.8500,1)" font-size="11.2" text-anchor="end" stroke="#222" stroke-width="0.22">-75</text>
<text transform="translate(494.4,150.1) scale(0.8500,1)" font-size="11.2" text-anchor="end" stroke="#222" stroke-width="0.22">-100</text>
<text transform="translate(586,177.7) scale(0.8655,1)" font-size="11.4" text-anchor="middle" stroke="#222" stroke-width="0.22">Electrode potential (eV)</text>
<text transform="translate(471.3,75.9) rotate(-90) scale(0.8567,1)" font-size="11.4" text-anchor="middle" stroke="#222" stroke-width="0.22">Formation energy (eV)</text>
<text transform="translate(537.45,140.5) scale(0.9361,1)" font-size="9.0" text-anchor="middle" stroke="#222" stroke-width="0.22">Bare</text>
<text transform="translate(607.55,140.5) scale(0.9254,1)" font-size="9.0" text-anchor="middle" stroke="#222" stroke-width="0.22">&#945;-PdH</text>
<text transform="translate(646.1,19.8) scale(0.8084,1)" font-size="10.6" stroke="#222" stroke-width="0.22">PdC<tspan font-size="8.0" dy="2.8">60</tspan></text>
<line x1="637.3" y1="47.3" x2="645.6" y2="47.3" stroke="#777" stroke-width="1.2"/>
<text transform="translate(650.1,50.2) scale(0.8572,1)" font-size="9.0" stroke="#222" stroke-width="0.22">Bare</text>
<line x1="637.3" y1="59.2" x2="645.6" y2="59.2" stroke="#d0476a" stroke-width="1.2"/>
<text transform="translate(650.1,62.1) scale(0.8826,1)" font-size="9.0" stroke="#222" stroke-width="0.22">&#945;-PdH</text>
<line x1="637.3" y1="71.4" x2="645.6" y2="71.4" stroke="#34477f" stroke-width="1.2"/>
<text transform="translate(650.1,74.3) scale(0.8837,1)" font-size="9.0" stroke="#222" stroke-width="0.22">&#946;-PdH</text>
<text transform="translate(648.7,113.3) scale(0.8837,1)" font-size="9.0" stroke="#222" stroke-width="0.22">&#946;-PdH</text>
<line x1="645.9" y1="111.5" x2="637.71" y2="116.13" stroke="#222" stroke-width="0.8"/>
<polygon points="634.4,118 636.77,114.48 638.64,117.78" fill="#222"/>
<text transform="translate(456.6,14.2)" font-size="16" fill="#2a1717" font-weight="bold">c</text>
<polygon points="34.7,227.2 84.8,227.2 84.8,337.1 34.7,337.1" fill="#dcdcdc"/>
<polygon points="84.8,227.38 149.5,289.1 149.5,337.1 84.8,337.1" fill="#ecd2d4"/>
<polygon points="149.5,289.04 179.04,337.1 149.5,337.1" fill="#cddcea"/>
<line x1="34.7" y1="227.2" x2="212.2" y2="227.2" stroke="#333" stroke-width="1.1"/>
<line x1="84.8" y1="194.5" x2="84.8" y2="337.1" stroke="#68a07f" stroke-width="1.45"/>
<line x1="149.5" y1="194.5" x2="149.5" y2="337.1" stroke="#68a07f" stroke-width="1.45"/>
<line x1="50.33" y1="194.5" x2="199.81" y2="337.1" stroke="#d0476a" stroke-width="1.05"/>
<line x1="91.39" y1="194.5" x2="179.04" y2="337.1" stroke="#34477f" stroke-width="1.05"/>
<rect x="34.7" y="194.5" width="177.5" height="142.6" fill="none" stroke="#333" stroke-width="1.1"/>
<line x1="56.89" y1="337.1" x2="56.89" y2="334.1" stroke="#333" stroke-width="1.0"/>
<line x1="101.26" y1="337.1" x2="101.26" y2="334.1" stroke="#333" stroke-width="1.0"/>
<line x1="145.64" y1="337.1" x2="145.64" y2="334.1" stroke="#333" stroke-width="1.0"/>
<line x1="190.01" y1="337.1" x2="190.01" y2="334.1" stroke="#333" stroke-width="1.0"/>
<line x1="79.07" y1="337.1" x2="79.07" y2="335.5" stroke="#333" stroke-width="1.0"/>
<line x1="123.45" y1="337.1" x2="123.45" y2="335.5" stroke="#333" stroke-width="1.0"/>
<line x1="167.82" y1="337.1" x2="167.82" y2="335.5" stroke="#333" stroke-width="1.0"/>
<line x1="34.7" y1="199.8" x2="37.7" y2="199.8" stroke="#333" stroke-width="1.0"/>
<line x1="34.7" y1="227.2" x2="37.7" y2="227.2" stroke="#333" stroke-width="1.0"/>
<line x1="34.7" y1="254.6" x2="37.7" y2="254.6" stroke="#333" stroke-width="1.0"/>
<line x1="34.7" y1="282" x2="37.7" y2="282" stroke="#333" stroke-width="1.0"/>
<line x1="34.7" y1="309.4" x2="37.7" y2="309.4" stroke="#333" stroke-width="1.0"/>
<line x1="34.7" y1="213.5" x2="36.3" y2="213.5" stroke="#333" stroke-width="1.0"/>
<line x1="34.7" y1="240.9" x2="36.3" y2="240.9" stroke="#333" stroke-width="1.0"/>
<line x1="34.7" y1="268.3" x2="36.3" y2="268.3" stroke="#333" stroke-width="1.0"/>
<line x1="34.7" y1="295.7" x2="36.3" y2="295.7" stroke="#333" stroke-width="1.0"/>
<line x1="34.7" y1="323.1" x2="36.3" y2="323.1" stroke="#333" stroke-width="1.0"/>
<text transform="translate(56.89,348.5) scale(0.8500,1)" font-size="11.2" text-anchor="middle" stroke="#222" stroke-width="0.22">0.4</text>
<text transform="translate(101.26,348.5) scale(0.8500,1)" font-size="11.2" text-anchor="middle" stroke="#222" stroke-width="0.22">0.0</text>
<text transform="translate(145.64,348.5) scale(0.8500,1)" font-size="11.2" text-anchor="middle" stroke="#222" stroke-width="0.22">-0.4</text>
<text transform="translate(190.01,348.5) scale(0.8500,1)" font-size="11.2" text-anchor="middle" stroke="#222" stroke-width="0.22">-0.8</text>
<text transform="translate(31.4,202.7) scale(0.8500,1)" font-size="11.2" text-anchor="end" stroke="#222" stroke-width="0.22">25</text>
<text transform="translate(31.4,230.1) scale(0.8500,1)" font-size="11.2" text-anchor="end" stroke="#222" stroke-width="0.22">0</text>
<text transform="translate(31.4,257.5) scale(0.8500,1)" font-size="11.2" text-anchor="end" stroke="#222" stroke-width="0.22">-25</text>
<text transform="translate(31.4,284.9) scale(0.8500,1)" font-size="11.2" text-anchor="end" stroke="#222" stroke-width="0.22">-50</text>
<text transform="translate(31.4,312.3) scale(0.8500,1)" font-size="11.2" text-anchor="end" stroke="#222" stroke-width="0.22">-75</text>
<text transform="translate(31.4,339.7) scale(0.8500,1)" font-size="11.2" text-anchor="end" stroke="#222" stroke-width="0.22">-100</text>
<text transform="translate(122.95,366.6) scale(0.8655,1)" font-size="11.4" text-anchor="middle" stroke="#222" stroke-width="0.22">Electrode potential (eV)</text>
<text transform="translate(8.3,265.8) rotate(-90) scale(0.8567,1)" font-size="11.4" text-anchor="middle" stroke="#222" stroke-width="0.22">Formation energy (eV)</text>
<text transform="translate(55.9,330.4) scale(0.9203,1)" font-size="9.0" text-anchor="middle" stroke="#222" stroke-width="0.22">Bare</text>
<text transform="translate(120,330.4) scale(0.9254,1)" font-size="9.0" text-anchor="middle" stroke="#222" stroke-width="0.22">&#945;-PdH</text>
<text transform="translate(188.4,209.5) scale(0.8112,1)" font-size="10.6" stroke="#222" stroke-width="0.22">PdC</text>
<line x1="169.9" y1="237.6" x2="177.8" y2="237.6" stroke="#222" stroke-width="1.2"/>
<text transform="translate(182.7,240.5) scale(0.8572,1)" font-size="9.0" stroke="#222" stroke-width="0.22">Bare</text>
<line x1="169.9" y1="249.5" x2="177.8" y2="249.5" stroke="#d0476a" stroke-width="1.2"/>
<text transform="translate(182.7,252.4) scale(0.8826,1)" font-size="9.0" stroke="#222" stroke-width="0.22">&#945;-PdH</text>
<line x1="169.9" y1="261.8" x2="177.8" y2="261.8" stroke="#8497c2" stroke-width="1.2"/>
<text transform="translate(182.7,264.7) scale(0.8837,1)" font-size="9.0" stroke="#222" stroke-width="0.22">&#946;-PdH</text>
<text transform="translate(184.7,316.9) scale(0.8837,1)" font-size="9.0" stroke="#222" stroke-width="0.22">&#946;-PdH</text>
<line x1="181.3" y1="315.3" x2="166.83" y2="321.09" stroke="#222" stroke-width="0.8"/>
<polygon points="163.3,322.5 166.12,319.32 167.53,322.85" fill="#222"/>
<text transform="translate(5.8,201.4)" font-size="16" fill="#2a1717" font-weight="bold">d</text>
<polygon points="261.4,227.8 308.4,227.8 308.4,337.3 261.4,337.3" fill="#dcdcdc"/>
<polygon points="308.4,228.33 373.6,305.2 373.6,337.3 308.4,337.3" fill="#ecd2d4"/>
<polygon points="373.6,305.2 389.71,337.3 373.6,337.3" fill="#cddcea"/>
<line x1="261.4" y1="227.8" x2="437.4" y2="227.8" stroke="#777" stroke-width="1.6"/>
<line x1="308.4" y1="195.5" x2="308.4" y2="337.3" stroke="#68a07f" stroke-width="1.45"/>
<line x1="373.6" y1="195.5" x2="373.6" y2="337.3" stroke="#68a07f" stroke-width="1.45"/>
<line x1="280.56" y1="195.5" x2="400.83" y2="337.3" stroke="#d0476a" stroke-width="1.05"/>
<line x1="318.56" y1="195.5" x2="389.71" y2="337.3" stroke="#34477f" stroke-width="1.05"/>
<rect x="261.4" y="195.5" width="176" height="141.8" fill="none" stroke="#444" stroke-width="1.1"/>
<line x1="283.4" y1="337.3" x2="283.4" y2="334.3" stroke="#444" stroke-width="1.0"/>
<line x1="327.4" y1="337.3" x2="327.4" y2="334.3" stroke="#444" stroke-width="1.0"/>
<line x1="371.4" y1="337.3" x2="371.4" y2="334.3" stroke="#444" stroke-width="1.0"/>
<line x1="415.4" y1="337.3" x2="415.4" y2="334.3" stroke="#444" stroke-width="1.0"/>
<line x1="305.4" y1="337.3" x2="305.4" y2="335.7" stroke="#444" stroke-width="1.0"/>
<line x1="349.4" y1="337.3" x2="349.4" y2="335.7" stroke="#444" stroke-width="1.0"/>
<line x1="393.4" y1="337.3" x2="393.4" y2="335.7" stroke="#444" stroke-width="1.0"/>
<line x1="261.4" y1="200.4" x2="264.4" y2="200.4" stroke="#444" stroke-width="1.0"/>
<line x1="261.4" y1="227.8" x2="264.4" y2="227.8" stroke="#444" stroke-width="1.0"/>
<line x1="261.4" y1="255.2" x2="264.4" y2="255.2" stroke="#444" stroke-width="1.0"/>
<line x1="261.4" y1="282.6" x2="264.4" y2="282.6" stroke="#444" stroke-width="1.0"/>
<line x1="261.4" y1="310" x2="264.4" y2="310" stroke="#444" stroke-width="1.0"/>
<line x1="261.4" y1="214.1" x2="263" y2="214.1" stroke="#444" stroke-width="1.0"/>
<line x1="261.4" y1="241.5" x2="263" y2="241.5" stroke="#444" stroke-width="1.0"/>
<line x1="261.4" y1="268.9" x2="263" y2="268.9" stroke="#444" stroke-width="1.0"/>
<line x1="261.4" y1="296.3" x2="263" y2="296.3" stroke="#444" stroke-width="1.0"/>
<line x1="261.4" y1="323.7" x2="263" y2="323.7" stroke="#444" stroke-width="1.0"/>
<text transform="translate(283.4,348.7) scale(0.8500,1)" font-size="11.2" text-anchor="middle" stroke="#222" stroke-width="0.22">0.4</text>
<text transform="translate(327.4,348.7) scale(0.8500,1)" font-size="11.2" text-anchor="middle" stroke="#222" stroke-width="0.22">0.0</text>
<text transform="translate(371.4,348.7) scale(0.8500,1)" font-size="11.2" text-anchor="middle" stroke="#222" stroke-width="0.22">-0.4</text>
<text transform="translate(415.4,348.7) scale(0.8500,1)" font-size="11.2" text-anchor="middle" stroke="#222" stroke-width="0.22">-0.8</text>
<text transform="translate(258.1,203.3) scale(0.8500,1)" font-size="11.2" text-anchor="end" stroke="#222" stroke-width="0.22">25</text>
<text transform="translate(258.1,230.7) scale(0.8500,1)" font-size="11.2" text-anchor="end" stroke="#222" stroke-width="0.22">0</text>
<text transform="translate(258.1,258.1) scale(0.8500,1)" font-size="11.2" text-anchor="end" stroke="#222" stroke-width="0.22">-25</text>
<text transform="translate(258.1,285.5) scale(0.8500,1)" font-size="11.2" text-anchor="end" stroke="#222" stroke-width="0.22">-50</text>
<text transform="translate(258.1,312.9) scale(0.8500,1)" font-size="11.2" text-anchor="end" stroke="#222" stroke-width="0.22">-75</text>
<text transform="translate(258.1,340.3) scale(0.8500,1)" font-size="11.2" text-anchor="end" stroke="#222" stroke-width="0.22">-100</text>
<text transform="translate(348.9,365.5) scale(0.8655,1)" font-size="11.4" text-anchor="middle" stroke="#222" stroke-width="0.22">Electrode potential (eV)</text>
<text transform="translate(235,266.4) rotate(-90) scale(0.8567,1)" font-size="11.4" text-anchor="middle" stroke="#222" stroke-width="0.22">Formation energy (eV)</text>
<text transform="translate(283.2,330.6) scale(0.9361,1)" font-size="9.0" text-anchor="middle" stroke="#222" stroke-width="0.22">Bare</text>
<text transform="translate(341.6,330.6) scale(0.9254,1)" font-size="9.0" text-anchor="middle" stroke="#222" stroke-width="0.22">&#945;-PdH</text>
<text transform="translate(403.5,212.8) scale(0.8337,1)" font-size="10.6" stroke="#222" stroke-width="0.22">PdNPs</text>
<line x1="394" y1="237" x2="402.2" y2="237" stroke="#777" stroke-width="1.2"/>
<text transform="translate(406.8,239.9) scale(0.8572,1)" font-size="9.0" stroke="#222" stroke-width="0.22">Bare</text>
<line x1="394" y1="249.2" x2="402.2" y2="249.2" stroke="#d0476a" stroke-width="1.2"/>
<text transform="translate(406.8,252.1) scale(0.8826,1)" font-size="9.0" stroke="#222" stroke-width="0.22">&#945;-PdH</text>
<line x1="394" y1="261.1" x2="402.2" y2="261.1" stroke="#34477f" stroke-width="1.2"/>
<text transform="translate(406.8,264) scale(0.8837,1)" font-size="9.0" stroke="#222" stroke-width="0.22">&#946;-PdH</text>
<text transform="translate(396.7,327.8) scale(0.8837,1)" font-size="9.0" stroke="#222" stroke-width="0.22">&#946;-PdH</text>
<line x1="393.4" y1="327" x2="385.37" y2="331.15" stroke="#222" stroke-width="0.8"/>
<polygon points="382,332.9 384.5,329.47 386.25,332.84" fill="#222"/>
<text transform="translate(231.8,201.4)" font-size="16" fill="#2a1717" font-weight="bold">e</text>
<polyline points="529.84,332.4 556.36,265.27 574.04,265.27 600.56,252.01" fill="none" stroke="#555" stroke-width="1.1"/>
<polyline points="512.16,332.4 529.84,332.4 556.36,288.5 574.04,288.5 600.56,252.01 618.24,252.01 644.76,221.8 662.44,221.8" fill="none" stroke="#f0444e" stroke-width="1.3"/>
<line x1="565" y1="332.9" x2="565" y2="293.8" stroke="#222" stroke-width="1.1"/>
<polygon points="565,289.3 562.9,294.3 567.1,294.3" fill="#222"/>
<rect x="499" y="194.7" width="176.8" height="142.4" fill="none" stroke="#333" stroke-width="1.1"/>
<line x1="521" y1="337.1" x2="521" y2="334.5" stroke="#333" stroke-width="1.0"/>
<text transform="translate(521,348.3) scale(0.8500,1)" font-size="11.2" text-anchor="middle" stroke="#222" stroke-width="0.22">0</text>
<line x1="565.2" y1="337.1" x2="565.2" y2="334.5" stroke="#333" stroke-width="1.0"/>
<text transform="translate(565.2,348.3) scale(0.8500,1)" font-size="11.2" text-anchor="middle" stroke="#222" stroke-width="0.22">1</text>
<line x1="609.4" y1="337.1" x2="609.4" y2="334.5" stroke="#333" stroke-width="1.0"/>
<text transform="translate(609.4,348.3) scale(0.8500,1)" font-size="11.2" text-anchor="middle" stroke="#222" stroke-width="0.22">2</text>
<line x1="653.6" y1="337.1" x2="653.6" y2="334.5" stroke="#333" stroke-width="1.0"/>
<text transform="translate(653.6,348.3) scale(0.8500,1)" font-size="11.2" text-anchor="middle" stroke="#222" stroke-width="0.22">3</text>
<line x1="499" y1="332.4" x2="502" y2="332.4" stroke="#333" stroke-width="1.0"/>
<text transform="translate(495.4,335.6) scale(0.8300,1)" font-size="11.2" text-anchor="end" stroke="#222" stroke-width="0.22">0.0</text>
<line x1="499" y1="289.37" x2="502" y2="289.37" stroke="#333" stroke-width="1.0"/>
<text transform="translate(495.4,292.56) scale(0.8300,1)" font-size="11.2" text-anchor="end" stroke="#222" stroke-width="0.22">0.5</text>
<line x1="499" y1="246.33" x2="502" y2="246.33" stroke="#333" stroke-width="1.0"/>
<text transform="translate(495.4,249.53) scale(0.8300,1)" font-size="11.2" text-anchor="end" stroke="#222" stroke-width="0.22">1.0</text>
<line x1="499" y1="203.29" x2="502" y2="203.29" stroke="#333" stroke-width="1.0"/>
<text transform="translate(495.4,206.49) scale(0.8300,1)" font-size="11.2" text-anchor="end" stroke="#222" stroke-width="0.22">1.5</text>
<line x1="499" y1="310.88" x2="500.6" y2="310.88" stroke="#333" stroke-width="1.0"/>
<line x1="499" y1="267.85" x2="500.6" y2="267.85" stroke="#333" stroke-width="1.0"/>
<line x1="499" y1="224.81" x2="500.6" y2="224.81" stroke="#333" stroke-width="1.0"/>
<text transform="translate(587.4,367.3) scale(0.8592,1)" font-size="11.4" text-anchor="middle" stroke="#222" stroke-width="0.22">Reaction energy pathway</text>
<text transform="translate(478.3,265.4) rotate(-90) scale(0.8503,1)" font-size="11.4" text-anchor="middle" stroke="#222" stroke-width="0.22">Reaction energy (eV)</text>
<text transform="translate(460.3,200.9)" font-size="16" fill="#2a1717" font-weight="bold">f</text>
<line x1="507.9" y1="206.5" x2="517.4" y2="206.5" stroke="#f0444e" stroke-width="1.2"/>
<line x1="507.9" y1="223.1" x2="517.4" y2="223.1" stroke="#555" stroke-width="1.2"/>
<text transform="translate(522.4,210.6) scale(0.9086,1)" font-size="10.2" stroke="#222" stroke-width="0.22">&#945;-PdH (PdC<tspan font-size="8.0" dy="2.6">60</tspan><tspan dy="-2.6">)</tspan></text>
<text transform="translate(522.4,227.2) scale(0.9001,1)" font-size="10.2" stroke="#222" stroke-width="0.22">&#946;-PdH (PdC<tspan font-size="8.0" dy="2.6">60</tspan><tspan dy="-2.6">)</tspan></text>
<path d="M508.4 308.15L508.4 311.65M509.92 309.02L506.88 310.77M509.92 310.77L506.88 309.02" stroke="#333" stroke-width="0.95" fill="none"/>
<text transform="translate(514.9,312.8) scale(0.9000,1)" font-size="9.6" text-anchor="middle" stroke="#222" stroke-width="0.22">+</text>
<text transform="translate(505.6,325.7) scale(0.8028,1)" font-size="10.2" stroke="#222" stroke-width="0.22">CO<tspan font-size="6.8" dy="2.3">2</tspan><tspan dy="-2.3">(g)</tspan></text>
<path d="M548.2 256.55L548.2 260.05M549.72 257.43L546.68 259.18M549.72 259.18L546.68 257.43" stroke="#333" stroke-width="0.95" fill="none"/>
<text transform="translate(550.5,261) scale(0.8249,1)" font-size="9.4" stroke="#222" stroke-width="0.22">OCOH</text>
<path d="M588.4 242.65L588.4 246.15M589.92 243.53L586.88 245.28M589.92 245.28L586.88 243.53" stroke="#333" stroke-width="0.95" fill="none"/>
<text transform="translate(590.2,247.1) scale(0.8337,1)" font-size="9.4" stroke="#222" stroke-width="0.22">HCOOH</text>
<path d="M615.3 214.25L615.3 217.75M616.82 215.12L613.78 216.88M616.82 216.88L613.78 215.12" stroke="#333" stroke-width="0.95" fill="none"/>
<text transform="translate(619.2,218.9) scale(0.8588,1)" font-size="9.4" stroke="#222" stroke-width="0.22">+ HCOO<tspan font-size="6.5" dy="-3.8">&#8722;</tspan><tspan dy="3.8"> + H</tspan><tspan font-size="6.5" dy="-3.8">+</tspan></text>
<text transform="translate(571.2,306.3) scale(0.8465,1)" font-size="9.6" fill="#555" stroke="#555" stroke-width="0.22">&#916;G = 0.78 eV</text>
<text transform="translate(571.2,320.2) scale(0.8465,1)" font-size="9.6" fill="#f0444e" stroke="#f0444e" stroke-width="0.22">&#916;G = 0.51 eV</text>
<text transform="translate(535.6,305.4) rotate(-62) scale(0.8431,1)" font-size="9.0" stroke="#222" stroke-width="0.22" font-style="italic">H<tspan font-size="6" dy="-3.6">+</tspan><tspan dy="3.6" font-style="normal"> + </tspan>e<tspan font-size="6" dy="-3.6">&#8722;</tspan></text>
<text transform="translate(587.2,290) rotate(-55) scale(0.8431,1)" font-size="9.0" stroke="#222" stroke-width="0.22" font-style="italic">H<tspan font-size="6" dy="-3.6">+</tspan><tspan dy="3.6" font-style="normal"> + </tspan>e<tspan font-size="6" dy="-3.6">&#8722;</tspan></text>
<polyline points="48.75,528.5 66.65,528.5 93.5,483.31 111.4,483.31 138.25,446.81 156.15,446.81 183,416.83 200.9,416.83" fill="none" stroke="#d24c68" stroke-width="1.3"/>
<polyline points="48.75,528.5 66.65,528.5 93.5,482.44 111.4,482.44 138.25,433.78 156.15,433.78 183,416.83 200.9,416.83" fill="none" stroke="#555" stroke-width="1.3"/>
<polyline points="48.75,528.5 66.65,528.5 93.5,481.14 111.4,481.14 138.25,432.91 156.15,432.91 183,416.83 200.9,416.83" fill="none" stroke="#2f7fc6" stroke-width="1.6"/>
<line x1="102.45" y1="528.5" x2="102.45" y2="488.41" stroke="#222" stroke-width="1.1"/>
<polygon points="102.45,483.91 100.35,488.91 104.55,488.91" fill="#222"/>
<line x1="147.2" y1="481.2" x2="147.2" y2="438.01" stroke="#222" stroke-width="1.1"/>
<polygon points="147.2,433.51 145.1,438.51 149.3,438.51" fill="#222"/>
<rect x="35.4" y="389" width="179.2" height="144" fill="none" stroke="#333" stroke-width="1.1"/>
<line x1="57.7" y1="533" x2="57.7" y2="530.4" stroke="#333" stroke-width="1.0"/>
<text transform="translate(57.7,544.2) scale(0.8500,1)" font-size="11.2" text-anchor="middle" stroke="#222" stroke-width="0.22">0</text>
<line x1="102.45" y1="533" x2="102.45" y2="530.4" stroke="#333" stroke-width="1.0"/>
<text transform="translate(102.45,544.2) scale(0.8500,1)" font-size="11.2" text-anchor="middle" stroke="#222" stroke-width="0.22">1</text>
<line x1="147.2" y1="533" x2="147.2" y2="530.4" stroke="#333" stroke-width="1.0"/>
<text transform="translate(147.2,544.2) scale(0.8500,1)" font-size="11.2" text-anchor="middle" stroke="#222" stroke-width="0.22">2</text>
<line x1="191.95" y1="533" x2="191.95" y2="530.4" stroke="#333" stroke-width="1.0"/>
<text transform="translate(191.95,544.2) scale(0.8500,1)" font-size="11.2" text-anchor="middle" stroke="#222" stroke-width="0.22">3</text>
<line x1="35.4" y1="528.5" x2="38.4" y2="528.5" stroke="#333" stroke-width="1.0"/>
<text transform="translate(31.8,531.7) scale(0.8300,1)" font-size="11.2" text-anchor="end" stroke="#222" stroke-width="0.22">0.0</text>
<line x1="35.4" y1="485.05" x2="38.4" y2="485.05" stroke="#333" stroke-width="1.0"/>
<text transform="translate(31.8,488.25) scale(0.8300,1)" font-size="11.2" text-anchor="end" stroke="#222" stroke-width="0.22">0.5</text>
<line x1="35.4" y1="441.6" x2="38.4" y2="441.6" stroke="#333" stroke-width="1.0"/>
<text transform="translate(31.8,444.8) scale(0.8300,1)" font-size="11.2" text-anchor="end" stroke="#222" stroke-width="0.22">1.0</text>
<line x1="35.4" y1="398.15" x2="38.4" y2="398.15" stroke="#333" stroke-width="1.0"/>
<text transform="translate(31.8,401.35) scale(0.8300,1)" font-size="11.2" text-anchor="end" stroke="#222" stroke-width="0.22">1.5</text>
<line x1="35.4" y1="506.77" x2="37" y2="506.77" stroke="#333" stroke-width="1.0"/>
<line x1="35.4" y1="463.32" x2="37" y2="463.32" stroke="#333" stroke-width="1.0"/>
<line x1="35.4" y1="419.88" x2="37" y2="419.88" stroke="#333" stroke-width="1.0"/>
<text transform="translate(125,563.6) scale(0.8592,1)" font-size="11.4" text-anchor="middle" stroke="#222" stroke-width="0.22">Reaction energy pathway</text>
<text transform="translate(14.3,460.5) rotate(-90) scale(0.8503,1)" font-size="11.4" text-anchor="middle" stroke="#222" stroke-width="0.22">Reaction energy (eV)</text>
<text transform="translate(5.8,385.8)" font-size="16" fill="#2a1717" font-weight="bold">g</text>
<line x1="42.8" y1="399" x2="52.9" y2="399" stroke="#d24c68" stroke-width="1.3"/>
<line x1="42.8" y1="415.3" x2="52.9" y2="415.3" stroke="#2f7fc6" stroke-width="1.3"/>
<line x1="42.8" y1="429.6" x2="52.9" y2="429.6" stroke="#555" stroke-width="1.3"/>
<text transform="translate(58.2,402.7) scale(0.8078,1)" font-size="11.2" stroke="#222" stroke-width="0.22">PdC<tspan font-size="8.2" dy="2.8">60</tspan></text>
<text transform="translate(58.2,419.3) scale(0.8132,1)" font-size="11.2" stroke="#222" stroke-width="0.22">PdC</text>
<text transform="translate(58.2,433.6) scale(0.8148,1)" font-size="11.2" stroke="#222" stroke-width="0.22">PdNPs</text>
<path d="M41.2 507.15L41.2 510.65M42.72 508.02L39.68 509.77M42.72 509.77L39.68 508.02" stroke="#333" stroke-width="0.95" fill="none"/>
<text transform="translate(48.4,512) scale(0.9000,1)" font-size="9.6" text-anchor="middle" stroke="#222" stroke-width="0.22">+</text>
<text transform="translate(38.7,524.6) scale(0.7996,1)" font-size="10.2" stroke="#222" stroke-width="0.22">CO<tspan font-size="6.8" dy="2.3">2</tspan><tspan dy="-2.3">(g)</tspan></text>
<path d="M85.8 473.75L85.8 477.25M87.32 474.62L84.28 476.38M87.32 476.38L84.28 474.62" stroke="#333" stroke-width="0.95" fill="none"/>
<text transform="translate(88.4,478.1) scale(0.8213,1)" font-size="9.4" stroke="#222" stroke-width="0.22">OCOH</text>
<path d="M125.9 425.05L125.9 428.55M127.42 425.93L124.38 427.68M127.42 427.68L124.38 425.93" stroke="#333" stroke-width="0.95" fill="none"/>
<text transform="translate(128.9,429.9) scale(0.8394,1)" font-size="9.4" stroke="#222" stroke-width="0.22">HCOOH</text>
<path d="M155 409.55L155 413.05M156.52 410.43L153.48 412.18M156.52 412.18L153.48 410.43" stroke="#333" stroke-width="0.95" fill="none"/>
<text transform="translate(159.9,414.1) scale(0.8506,1)" font-size="9.4" stroke="#222" stroke-width="0.22">+ HCOO<tspan font-size="6.5" dy="-3.8">&#8722;</tspan><tspan dy="3.8"> + H</tspan><tspan font-size="6.5" dy="-3.8">+</tspan></text>
<text transform="translate(151.6,461) scale(0.8328,1)" font-size="9.6" fill="#2f7fc6" stroke="#2f7fc6" stroke-width="0.22">&#916;G = 0.55 eV</text>
<text transform="translate(151.6,471.7) scale(0.8328,1)" font-size="9.6" fill="#555" stroke="#555" stroke-width="0.22">&#916;G = 0.55 eV</text>
<text transform="translate(104.8,506.4) scale(0.8328,1)" font-size="9.6" fill="#d24c68" stroke="#d24c68" stroke-width="0.22">&#916;G = 0.51 eV</text>
<text transform="translate(184.6,524.9) scale(0.9162,1)" font-size="10.4" stroke="#222" stroke-width="0.22">&#945;-PdH</text>
<text transform="translate(70,514) rotate(-56) scale(0.8431,1)" font-size="9.0" stroke="#222" stroke-width="0.22" font-style="italic">H<tspan font-size="6" dy="-3.6">+</tspan><tspan dy="3.6" font-style="normal"> + </tspan>e<tspan font-size="6" dy="-3.6">&#8722;</tspan></text>
<text transform="translate(116.2,465.2) rotate(-56) scale(0.8431,1)" font-size="9.0" stroke="#222" stroke-width="0.22" font-style="italic">H<tspan font-size="6" dy="-3.6">+</tspan><tspan dy="3.6" font-style="normal"> + </tspan>e<tspan font-size="6" dy="-3.6">&#8722;</tspan></text>
<polyline points="272.78,528 290.62,528 317.38,415.64 335.22,415.64 361.98,438.29 379.82,438.29 406.58,406.06 424.42,406.06" fill="none" stroke="#666" stroke-width="1.3"/>
<polyline points="272.78,528 290.62,528 317.38,391.25 335.22,391.25 361.98,414.33 379.82,414.33 406.58,406.06 424.42,406.06" fill="none" stroke="#d24c68" stroke-width="1.3"/>
<polyline points="272.78,528 290.62,528 317.38,406.06 335.22,406.06 361.98,426.09 379.82,426.09 406.58,406.06 424.42,406.06" fill="none" stroke="#2f7fc6" stroke-width="1.3"/>
<line x1="326.3" y1="528" x2="326.3" y2="439" stroke="#222" stroke-width="1.1"/>
<polygon points="326.3,434.5 324.2,439.5 328.4,439.5" fill="#222"/>
<rect x="259.7" y="388.6" width="178.2" height="143.5" fill="none" stroke="#555" stroke-width="1.1"/>
<line x1="281.7" y1="532.1" x2="281.7" y2="529.5" stroke="#555" stroke-width="1.0"/>
<text transform="translate(281.7,543.3) scale(0.8500,1)" font-size="11.2" text-anchor="middle" stroke="#222" stroke-width="0.22">0</text>
<line x1="326.3" y1="532.1" x2="326.3" y2="529.5" stroke="#555" stroke-width="1.0"/>
<text transform="translate(326.3,543.3) scale(0.8500,1)" font-size="11.2" text-anchor="middle" stroke="#222" stroke-width="0.22">1</text>
<line x1="370.9" y1="532.1" x2="370.9" y2="529.5" stroke="#555" stroke-width="1.0"/>
<text transform="translate(370.9,543.3) scale(0.8500,1)" font-size="11.2" text-anchor="middle" stroke="#222" stroke-width="0.22">2</text>
<line x1="415.5" y1="532.1" x2="415.5" y2="529.5" stroke="#555" stroke-width="1.0"/>
<text transform="translate(415.5,543.3) scale(0.8500,1)" font-size="11.2" text-anchor="middle" stroke="#222" stroke-width="0.22">3</text>
<line x1="259.7" y1="528" x2="262.7" y2="528" stroke="#555" stroke-width="1.0"/>
<text transform="translate(256.1,531.2) scale(0.8300,1)" font-size="11.2" text-anchor="end" stroke="#222" stroke-width="0.22">0.0</text>
<line x1="259.7" y1="484.45" x2="262.7" y2="484.45" stroke="#555" stroke-width="1.0"/>
<text transform="translate(256.1,487.65) scale(0.8300,1)" font-size="11.2" text-anchor="end" stroke="#222" stroke-width="0.22">0.5</text>
<line x1="259.7" y1="440.9" x2="262.7" y2="440.9" stroke="#555" stroke-width="1.0"/>
<text transform="translate(256.1,444.1) scale(0.8300,1)" font-size="11.2" text-anchor="end" stroke="#222" stroke-width="0.22">1.0</text>
<line x1="259.7" y1="397.35" x2="262.7" y2="397.35" stroke="#555" stroke-width="1.0"/>
<text transform="translate(256.1,400.55) scale(0.8300,1)" font-size="11.2" text-anchor="end" stroke="#222" stroke-width="0.22">1.5</text>
<line x1="259.7" y1="506.23" x2="261.3" y2="506.23" stroke="#555" stroke-width="1.0"/>
<line x1="259.7" y1="462.68" x2="261.3" y2="462.68" stroke="#555" stroke-width="1.0"/>
<line x1="259.7" y1="419.12" x2="261.3" y2="419.12" stroke="#555" stroke-width="1.0"/>
<text transform="translate(348.8,563.3) scale(0.8592,1)" font-size="11.4" text-anchor="middle" stroke="#222" stroke-width="0.22">Reaction energy pathway</text>
<text transform="translate(238.6,459.85) rotate(-90) scale(0.8503,1)" font-size="11.4" text-anchor="middle" stroke="#222" stroke-width="0.22">Reaction energy (eV)</text>
<text transform="translate(231.8,385.9)" font-size="16" fill="#2a1717" font-weight="bold">h</text>
<line x1="262.8" y1="396.3" x2="273.7" y2="396.3" stroke="#d24c68" stroke-width="1.3"/>
<line x1="262.8" y1="413.3" x2="273.7" y2="413.3" stroke="#2f7fc6" stroke-width="1.3"/>
<line x1="262.8" y1="427.4" x2="273.7" y2="427.4" stroke="#666" stroke-width="1.3"/>
<text transform="translate(279,400.2) scale(0.8078,1)" font-size="11.2" stroke="#222" stroke-width="0.22">PdC<tspan font-size="8.2" dy="2.8">60</tspan></text>
<text transform="translate(279,416.6) scale(0.8132,1)" font-size="11.2" stroke="#222" stroke-width="0.22">PdC</text>
<text transform="translate(279,430.9) scale(0.8148,1)" font-size="11.2" stroke="#222" stroke-width="0.22">PdNPs</text>
<path d="M267.2 503.75L267.2 507.25M268.72 504.62L265.68 506.38M268.72 506.38L265.68 504.62" stroke="#333" stroke-width="0.95" fill="none"/>
<text transform="translate(274,508.6) scale(0.9000,1)" font-size="9.6" text-anchor="middle" stroke="#222" stroke-width="0.22">+</text>
<text transform="translate(264.6,521.5) scale(0.7933,1)" font-size="10.2" stroke="#222" stroke-width="0.22">CO<tspan font-size="6.8" dy="2.3">2</tspan><tspan dy="-2.3">(g)</tspan></text>
<path d="M318.4 425.75L318.4 429.25M319.92 426.62L316.88 428.38M319.92 428.38L316.88 426.62" stroke="#333" stroke-width="0.95" fill="none"/>
<text transform="translate(319.9,430.6) scale(0.8457,1)" font-size="9.6" stroke="#222" stroke-width="0.22">COOH</text>
<path d="M362.2 442.85L362.2 446.35M363.72 443.73L360.68 445.48M363.72 445.48L360.68 443.73" stroke="#333" stroke-width="0.95" fill="none"/>
<text transform="translate(364.6,447.9) scale(0.8342,1)" font-size="9.6" stroke="#222" stroke-width="0.22">CO + H<tspan font-size="6.8" dy="2.3">2</tspan><tspan dy="-2.3">O</tspan></text>
<path d="M406.9 399.05L406.9 402.55M408.42 399.93L405.38 401.68M408.42 401.68L405.38 399.93" stroke="#333" stroke-width="0.95" fill="none"/>
<text transform="translate(411.2,403.8) scale(0.8557,1)" font-size="9.6" stroke="#222" stroke-width="0.22">+ CO</text>
<text transform="translate(334,476.2) scale(0.8585,1)" font-size="9.6" fill="#d24c68" stroke="#d24c68" stroke-width="0.22">&#916;G = 1.57 eV</text>
<text transform="translate(334,489.3) scale(0.8585,1)" font-size="9.6" fill="#2f7fc6" stroke="#2f7fc6" stroke-width="0.22">&#916;G = 1.40 eV</text>
<text transform="translate(334,501.9) scale(0.8585,1)" font-size="9.6" fill="#666" stroke="#666" stroke-width="0.22">&#916;G = 1.29 eV</text>
<text transform="translate(406.8,526.2) scale(0.9331,1)" font-size="10.4" stroke="#222" stroke-width="0.22">&#945;-PdH</text>
<text transform="translate(291.4,483) rotate(-72) scale(0.8431,1)" font-size="9.0" stroke="#222" stroke-width="0.22" font-style="italic">H<tspan font-size="6" dy="-3.6">+</tspan><tspan dy="3.6" font-style="normal"> + </tspan>e<tspan font-size="6" dy="-3.6">&#8722;</tspan></text>
<text transform="translate(344.4,395.3) rotate(40) scale(0.8772,1)" font-size="9.0" stroke="#222" stroke-width="0.22" font-style="italic">H<tspan font-size="6" dy="-3.6">+</tspan><tspan dy="3.6" font-style="normal"> + </tspan>e<tspan font-size="6" dy="-3.6">&#8722;</tspan></text>
<path d="M497.8 532.82L498.8 532.8L499.8 532.78L500.79 532.76L501.79 532.73L502.79 532.71L503.79 532.68L504.79 532.65L505.79 532.61L506.78 532.58L507.78 532.54L508.78 532.5L509.78 532.45L510.78 532.4L511.78 532.35L512.77 532.3L513.77 532.24L514.77 532.18L515.77 532.11L516.77 532.03L517.77 531.96L518.76 531.87L519.76 531.78L520.76 531.69L521.76 531.59L522.76 531.48L523.76 531.36L524.75 531.24L525.75 531.11L526.75 530.97L527.75 530.82L528.75 530.66L529.75 530.49L530.74 530.31L531.74 530.13L532.74 529.93L533.74 529.72L534.74 529.49L535.74 529.26L536.73 529.02L537.73 528.76L538.73 528.49L539.73 528.21L540.73 527.92L541.73 527.61L542.72 527.3L543.72 526.97L544.72 526.63L545.72 526.28L546.72 525.92L547.72 525.56L548.71 525.18L549.71 524.8L550.71 524.41L551.71 524.02L552.71 523.62L553.71 523.23L554.7 522.83L555.7 522.44L556.7 522.05L557.7 521.66L558.7 521.29L559.7 520.92L560.69 520.57L561.69 520.23L562.69 519.91L563.69 519.61L564.69 519.33L565.69 519.08L566.68 518.85L567.68 518.64L568.68 518.47L569.68 518.32L570.68 518.21L571.68 518.12L572.67 518.07L573.67 518.06L574.67 518.06L575.67 518.09L576.67 518.14L577.67 518.2L578.66 518.28L579.66 518.38L580.66 518.49L581.66 518.62L582.66 518.76L583.66 518.92L584.65 519.1L585.65 519.28L586.65 519.48L587.65 519.69L588.65 519.91L589.65 520.14L590.64 520.38L591.64 520.63L592.64 520.88L593.64 521.14L594.64 521.4L595.64 521.67L596.63 521.94L597.63 522.21L598.63 522.48L599.63 522.76L600.63 523.03L601.63 523.31L602.62 523.58L603.62 523.85L604.62 524.12L605.62 524.38L606.62 524.65L607.62 524.91L608.61 525.16L609.61 525.41L610.61 525.66L611.61 525.9L612.61 526.13L613.61 526.36L614.6 526.59L615.6 526.81L616.6 527.02L617.6 527.23L618.6 527.43L619.6 527.63L620.59 527.82L621.59 528L622.59 528.18L623.59 528.36L624.59 528.52L625.59 528.69L626.58 528.85L627.58 529L628.58 529.14L629.58 529.29L630.58 529.42L631.58 529.56L632.57 529.69L633.57 529.81L634.57 529.93L635.57 530.04L636.57 530.15L637.57 530.26L638.56 530.36L639.56 530.46L640.56 530.55L641.56 530.65L642.56 530.73L643.56 530.82L644.55 530.9L645.55 530.98L646.55 531.05L647.55 531.13L648.55 531.2L649.55 531.26L650.54 531.33L651.54 531.39L652.54 531.45L653.54 531.51L654.54 531.56L655.54 531.62L656.53 531.67L657.53 531.72L658.53 531.76L659.53 531.81L660.53 531.85L661.53 531.9L662.52 531.94L663.52 531.98L664.52 532.01L665.52 532.05L666.52 532.09L667.52 532.12L668.51 532.15L669.51 532.18L670.51 532.21L671.51 532.24L672.51 532.27L673.51 532.3L674.5 532.32L675.5 532.35L676.5 532.37" fill="none" stroke="#555" stroke-width="1.0"/>
<path d="M497.8 532.66L498.8 532.63L499.8 532.61L500.79 532.58L501.79 532.55L502.79 532.51L503.79 532.48L504.79 532.44L505.79 532.4L506.78 532.36L507.78 532.32L508.78 532.27L509.78 532.22L510.78 532.16L511.78 532.1L512.77 532.04L513.77 531.98L514.77 531.9L515.77 531.83L516.77 531.75L517.77 531.66L518.76 531.57L519.76 531.47L520.76 531.36L521.76 531.24L522.76 531.12L523.76 530.99L524.75 530.85L525.75 530.7L526.75 530.54L527.75 530.37L528.75 530.19L529.75 529.99L530.74 529.79L531.74 529.56L532.74 529.33L533.74 529.08L534.74 528.81L535.74 528.53L536.73 528.22L537.73 527.9L538.73 527.57L539.73 527.21L540.73 526.83L541.73 526.43L542.72 526.02L543.72 525.58L544.72 525.12L545.72 524.64L546.72 524.15L547.72 523.63L548.71 523.1L549.71 522.55L550.71 521.99L551.71 521.41L552.71 520.83L553.71 520.24L554.7 519.65L555.7 519.06L556.7 518.47L557.7 517.9L558.7 517.34L559.7 516.79L560.69 516.27L561.69 515.79L562.69 515.33L563.69 514.91L564.69 514.54L565.69 514.22L566.68 513.95L567.68 513.73L568.68 513.58L569.68 513.48L570.68 513.45L571.68 513.46L572.67 513.49L573.67 513.55L574.67 513.62L575.67 513.72L576.67 513.84L577.67 513.99L578.66 514.15L579.66 514.33L580.66 514.53L581.66 514.74L582.66 514.98L583.66 515.22L584.65 515.48L585.65 515.76L586.65 516.04L587.65 516.34L588.65 516.64L589.65 516.95L590.64 517.27L591.64 517.6L592.64 517.93L593.64 518.26L594.64 518.6L595.64 518.93L596.63 519.27L597.63 519.61L598.63 519.94L599.63 520.28L600.63 520.61L601.63 520.94L602.62 521.26L603.62 521.58L604.62 521.9L605.62 522.21L606.62 522.52L607.62 522.82L608.61 523.11L609.61 523.4L610.61 523.69L611.61 523.96L612.61 524.23L613.61 524.49L614.6 524.75L615.6 525L616.6 525.25L617.6 525.48L618.6 525.71L619.6 525.94L620.59 526.15L621.59 526.36L622.59 526.57L623.59 526.77L624.59 526.96L625.59 527.15L626.58 527.33L627.58 527.5L628.58 527.67L629.58 527.84L630.58 528L631.58 528.15L632.57 528.3L633.57 528.44L634.57 528.58L635.57 528.72L636.57 528.85L637.57 528.98L638.56 529.1L639.56 529.22L640.56 529.33L641.56 529.44L642.56 529.55L643.56 529.65L644.55 529.75L645.55 529.85L646.55 529.94L647.55 530.03L648.55 530.12L649.55 530.2L650.54 530.28L651.54 530.36L652.54 530.44L653.54 530.51L654.54 530.58L655.54 530.65L656.53 530.72L657.53 530.78L658.53 530.85L659.53 530.91L660.53 530.97L661.53 531.02L662.52 531.08L663.52 531.13L664.52 531.18L665.52 531.23L666.52 531.28L667.52 531.33L668.51 531.37L669.51 531.42L670.51 531.46L671.51 531.5L672.51 531.54L673.51 531.58L674.5 531.62L675.5 531.65L676.5 531.69" fill="none" stroke="#2f7fc6" stroke-width="1.35"/>
<path d="M497.8 532.54L498.8 532.52L499.8 532.51L500.79 532.49L501.79 532.47L502.79 532.45L503.79 532.43L504.79 532.41L505.79 532.39L506.78 532.37L507.78 532.35L508.78 532.33L509.78 532.3L510.78 532.28L511.78 532.25L512.77 532.23L513.77 532.2L514.77 532.17L515.77 532.14L516.77 532.11L517.77 532.07L518.76 532.04L519.76 532.01L520.76 531.97L521.76 531.93L522.76 531.89L523.76 531.85L524.75 531.8L525.75 531.76L526.75 531.71L527.75 531.66L528.75 531.61L529.75 531.55L530.74 531.5L531.74 531.44L532.74 531.38L533.74 531.31L534.74 531.24L535.74 531.17L536.73 531.1L537.73 531.02L538.73 530.94L539.73 530.85L540.73 530.76L541.73 530.67L542.72 530.57L543.72 530.46L544.72 530.35L545.72 530.24L546.72 530.12L547.72 529.99L548.71 529.85L549.71 529.71L550.71 529.56L551.71 529.4L552.71 529.24L553.71 529.06L554.7 528.88L555.7 528.68L556.7 528.47L557.7 528.26L558.7 528.03L559.7 527.78L560.69 527.52L561.69 527.25L562.69 526.96L563.69 526.65L564.69 526.32L565.69 525.98L566.68 525.61L567.68 525.22L568.68 524.81L569.68 524.37L570.68 523.9L571.68 523.4L572.67 522.87L573.67 522.3L574.67 521.7L575.67 521.06L576.67 520.38L577.67 519.65L578.66 518.87L579.66 518.05L580.66 517.16L581.66 516.22L582.66 515.21L583.66 514.14L584.65 512.99L585.65 511.77L586.65 510.47L587.65 509.07L588.65 507.59L589.65 506L590.64 504.31L591.64 502.51L592.64 500.6L593.64 498.56L594.64 496.39L595.64 494.09L596.63 491.64L597.63 489.06L598.63 486.32L599.63 483.44L600.63 480.4L601.63 477.21L602.62 473.87L603.62 470.38L604.62 466.74L605.62 462.98L606.62 459.09L607.62 455.09L608.61 451.01L609.61 446.86L610.61 442.68L611.61 438.49L612.61 434.34L613.61 430.25L614.6 426.28L615.6 422.46L616.6 418.85L617.6 415.5L618.6 412.44L619.6 409.73L620.59 407.42L621.59 405.53L622.59 404.1L623.59 403.15L624.59 402.7L625.59 402.71L626.58 402.93L627.58 403.34L628.58 403.94L629.58 404.73L630.58 405.7L631.58 406.83L632.57 408.13L633.57 409.57L634.57 411.15L635.57 412.86L636.57 414.68L637.57 416.6L638.56 418.61L639.56 420.69L640.56 422.83L641.56 425.03L642.56 427.27L643.56 429.53L644.55 431.81L645.55 434.11L646.55 436.4L647.55 438.7L648.55 440.97L649.55 443.23L650.54 445.47L651.54 447.67L652.54 449.84L653.54 451.98L654.54 454.07L655.54 456.13L656.53 458.14L657.53 460.1L658.53 462.02L659.53 463.89L660.53 465.71L661.53 467.49L662.52 469.21L663.52 470.89L664.52 472.52L665.52 474.1L666.52 475.64L667.52 477.13L668.51 478.58L669.51 479.98L670.51 481.34L671.51 482.66L672.51 483.93L673.51 485.17L674.5 486.37L675.5 487.53L676.5 488.65" fill="none" stroke="#d0476a" stroke-width="1.1"/>
<rect x="497.8" y="389.7" width="178.7" height="143.4" fill="none" stroke="#333" stroke-width="1.1"/>
<line x1="497.8" y1="533.1" x2="497.8" y2="530.5" stroke="#333" stroke-width="1.0"/>
<line x1="557.6" y1="533.1" x2="557.6" y2="530.5" stroke="#333" stroke-width="1.0"/>
<line x1="617.4" y1="533.1" x2="617.4" y2="530.5" stroke="#333" stroke-width="1.0"/>
<line x1="677.2" y1="533.1" x2="677.2" y2="530.5" stroke="#333" stroke-width="1.0"/>
<text transform="translate(497.8,544.6) scale(0.8500,1)" font-size="11.2" text-anchor="middle" stroke="#222" stroke-width="0.22">-0.2</text>
<text transform="translate(557.6,544.6) scale(0.8500,1)" font-size="11.2" text-anchor="middle" stroke="#222" stroke-width="0.22">-0.4</text>
<text transform="translate(617.4,544.6) scale(0.8500,1)" font-size="11.2" text-anchor="middle" stroke="#222" stroke-width="0.22">-0.6</text>
<text transform="translate(677.2,544.6) scale(0.8500,1)" font-size="11.2" text-anchor="middle" stroke="#222" stroke-width="0.22">-0.8</text>
<line x1="497.8" y1="533.1" x2="500.8" y2="533.1" stroke="#333" stroke-width="1.0"/>
<line x1="497.8" y1="473.4" x2="500.8" y2="473.4" stroke="#333" stroke-width="1.0"/>
<line x1="497.8" y1="413.7" x2="500.8" y2="413.7" stroke="#333" stroke-width="1.0"/>
<line x1="497.8" y1="503.25" x2="499.4" y2="503.25" stroke="#333" stroke-width="1.0"/>
<line x1="497.8" y1="443.55" x2="499.4" y2="443.55" stroke="#333" stroke-width="1.0"/>
<text transform="translate(493.3,536.3) scale(0.8500,1)" font-size="11.2" text-anchor="end" stroke="#222" stroke-width="0.22">0</text>
<text transform="translate(493.3,476.6) scale(0.8500,1)" font-size="11.2" text-anchor="end" stroke="#222" stroke-width="0.22">-5</text>
<text transform="translate(493.3,416.9) scale(0.8500,1)" font-size="11.2" text-anchor="end" stroke="#222" stroke-width="0.22">-10</text>
<text transform="translate(587.4,564.8) scale(0.7896,1)" font-size="11.4" text-anchor="middle" stroke="#222" stroke-width="0.22"><tspan font-style="italic">E</tspan>&#8722;<tspan font-style="italic">iR</tspan> (V vs. RHE)</text>
<text transform="translate(477.6,462.3) rotate(-90) scale(0.9051,1)" font-size="11.4" text-anchor="middle" stroke="#222" stroke-width="0.22"><tspan font-style="italic">j</tspan><tspan font-size="7.5" dy="2.5">Formate</tspan><tspan dy="-2.5">(mA cm</tspan><tspan font-size="7.5" dy="-4">&#8722;2</tspan><tspan dy="4">)</tspan></text>
<line x1="507" y1="404.7" x2="517.1" y2="404.7" stroke="#d0476a" stroke-width="1.3"/>
<line x1="507" y1="420.8" x2="517.1" y2="420.8" stroke="#2f7fc6" stroke-width="1.3"/>
<line x1="507" y1="434.9" x2="517.1" y2="434.9" stroke="#555" stroke-width="1.3"/>
<text transform="translate(522.5,407.7) scale(0.8078,1)" font-size="11.2" stroke="#222" stroke-width="0.22">PdC<tspan font-size="8.2" dy="2.8">60</tspan></text>
<text transform="translate(522.5,424.9) scale(0.8132,1)" font-size="11.2" stroke="#222" stroke-width="0.22">PdC</text>
<text transform="translate(522.5,439.1) scale(0.8148,1)" font-size="11.2" stroke="#222" stroke-width="0.22">PdNPs</text>
<text transform="translate(466.3,386.5)" font-size="16" fill="#2a1717" font-weight="bold">i</text>
</g></svg></body></html>
